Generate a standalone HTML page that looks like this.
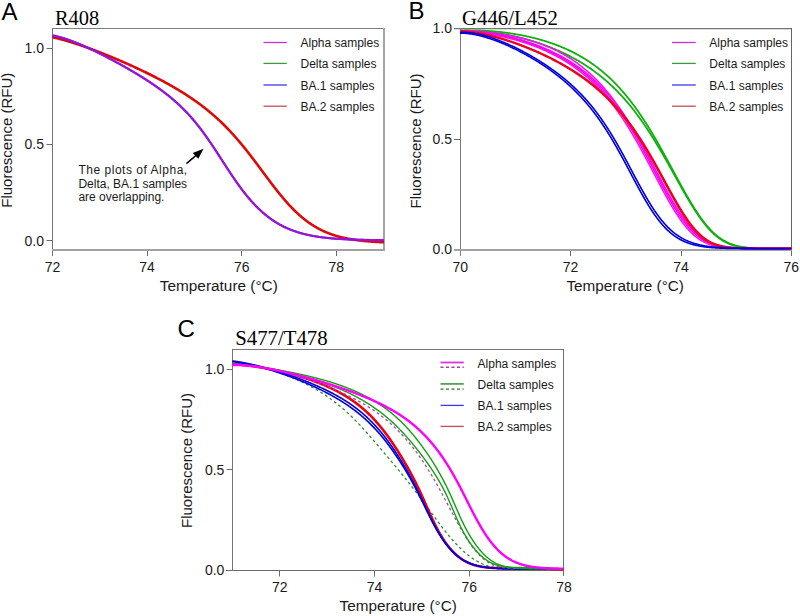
<!DOCTYPE html>
<html><head><meta charset="utf-8"><style>
html,body{margin:0;padding:0;background:#fff;}
svg{display:block;}
</style></head><body>
<svg width="800" height="616" viewBox="0 0 800 616">
<defs>
<clipPath id="clipA"><rect x="52" y="20" width="333" height="240"/></clipPath>
<clipPath id="clipB"><rect x="460" y="20" width="332" height="240"/></clipPath>
<clipPath id="clipC"><rect x="232" y="340" width="332" height="240"/></clipPath>
</defs>
<rect width="800" height="616" fill="#fff"/>
<text x="1.5" y="19.5" font-family='"Liberation Sans", sans-serif' font-size="24" text-anchor="start" fill="#000" >A</text>
<text x="408.5" y="19.2" font-family='"Liberation Sans", sans-serif' font-size="24" text-anchor="start" fill="#000" >B</text>
<text x="177.5" y="337" font-family='"Liberation Sans", sans-serif' font-size="24" text-anchor="start" fill="#000" >C</text>
<text x="55" y="25.4" font-family='"Liberation Serif", serif' font-size="20.4" text-anchor="start" fill="#000" >R408</text>
<text x="462" y="24.6" font-family='"Liberation Serif", serif' font-size="20.8" text-anchor="start" fill="#000" >G446/L452</text>
<text x="235.2" y="345.2" font-family='"Liberation Serif", serif' font-size="20.8" text-anchor="start" fill="#000" >S477/T478</text>
<line x1="52" y1="28.5" x2="385" y2="28.5" stroke="#7c7c7c" stroke-width="1"/>
<line x1="384" y1="28" x2="384" y2="251" stroke="#a4a4a4" stroke-width="2"/>
<line x1="52.5" y1="28" x2="52.5" y2="256" stroke="#727272" stroke-width="1"/>
<line x1="52" y1="250" x2="385" y2="250" stroke="#a2a2a2" stroke-width="2"/>
<line x1="46.5" y1="240.5" x2="52.5" y2="240.5" stroke="#6a6a6a" stroke-width="1"/>
<text x="44" y="245.5" font-family='"Liberation Sans", sans-serif' font-size="14" text-anchor="end" fill="#1a1a1a" >0.0</text>
<line x1="46.5" y1="144.5" x2="52.5" y2="144.5" stroke="#6a6a6a" stroke-width="1"/>
<text x="44" y="149.35" font-family='"Liberation Sans", sans-serif' font-size="14" text-anchor="end" fill="#1a1a1a" >0.5</text>
<line x1="46.5" y1="48.5" x2="52.5" y2="48.5" stroke="#6a6a6a" stroke-width="1"/>
<text x="44" y="53.19999999999999" font-family='"Liberation Sans", sans-serif' font-size="14" text-anchor="end" fill="#1a1a1a" >1.0</text>
<line x1="147.5" y1="251" x2="147.5" y2="256" stroke="#6a6a6a" stroke-width="1"/>
<line x1="241.5" y1="251" x2="241.5" y2="256" stroke="#6a6a6a" stroke-width="1"/>
<line x1="336.5" y1="251" x2="336.5" y2="256" stroke="#6a6a6a" stroke-width="1"/>
<text x="52.5" y="271.6" font-family='"Liberation Sans", sans-serif' font-size="14" text-anchor="middle" fill="#1a1a1a" >72</text>
<text x="147.1" y="271.6" font-family='"Liberation Sans", sans-serif' font-size="14" text-anchor="middle" fill="#1a1a1a" >74</text>
<text x="241.7" y="271.6" font-family='"Liberation Sans", sans-serif' font-size="14" text-anchor="middle" fill="#1a1a1a" >76</text>
<text x="336.29999999999995" y="271.6" font-family='"Liberation Sans", sans-serif' font-size="14" text-anchor="middle" fill="#1a1a1a" >78</text>
<text x="218.8" y="291.4" font-family='"Liberation Sans", sans-serif' font-size="15.5" text-anchor="middle" fill="#1a1a1a" textLength="118" lengthAdjust="spacingAndGlyphs">Temperature (°C)</text>
<text transform="translate(12.3,140.2) rotate(-90)" font-family='"Liberation Sans", sans-serif' font-size="15" text-anchor="middle" fill="#1a1a1a">Fluorescence (RFU)</text>
<line x1="454" y1="28.6" x2="792" y2="28.6" stroke="#747474" stroke-width="1.1"/>
<line x1="791.5" y1="28" x2="791.5" y2="256" stroke="#666666" stroke-width="1"/>
<line x1="460.5" y1="28" x2="460.5" y2="256" stroke="#7c7c7c" stroke-width="1"/>
<line x1="454" y1="250" x2="792" y2="250" stroke="#a2a2a2" stroke-width="2"/>
<line x1="454" y1="139.5" x2="460.5" y2="139.5" stroke="#6a6a6a" stroke-width="1"/>
<text x="452" y="254.0" font-family='"Liberation Sans", sans-serif' font-size="14" text-anchor="end" fill="#1a1a1a" >0.0</text>
<text x="452" y="143.54999999999998" font-family='"Liberation Sans", sans-serif' font-size="14" text-anchor="end" fill="#1a1a1a" >0.5</text>
<text x="452" y="33.09999999999999" font-family='"Liberation Sans", sans-serif' font-size="14" text-anchor="end" fill="#1a1a1a" >1.0</text>
<line x1="570.5" y1="251" x2="570.5" y2="256" stroke="#6a6a6a" stroke-width="1"/>
<line x1="681.5" y1="251" x2="681.5" y2="256" stroke="#6a6a6a" stroke-width="1"/>
<text x="460.2" y="271.6" font-family='"Liberation Sans", sans-serif' font-size="14" text-anchor="middle" fill="#1a1a1a" >70</text>
<text x="570.56" y="271.6" font-family='"Liberation Sans", sans-serif' font-size="14" text-anchor="middle" fill="#1a1a1a" >72</text>
<text x="680.92" y="271.6" font-family='"Liberation Sans", sans-serif' font-size="14" text-anchor="middle" fill="#1a1a1a" >74</text>
<text x="791.28" y="271.6" font-family='"Liberation Sans", sans-serif' font-size="14" text-anchor="middle" fill="#1a1a1a" >76</text>
<text x="625.2" y="291.2" font-family='"Liberation Sans", sans-serif' font-size="15.5" text-anchor="middle" fill="#1a1a1a" textLength="117.5" lengthAdjust="spacingAndGlyphs">Temperature (°C)</text>
<text transform="translate(421.2,141) rotate(-90)" font-family='"Liberation Sans", sans-serif' font-size="15" text-anchor="middle" fill="#1a1a1a">Fluorescence (RFU)</text>
<line x1="232" y1="349.5" x2="564" y2="349.5" stroke="#767676" stroke-width="1"/>
<line x1="563.5" y1="349" x2="563.5" y2="576" stroke="#6e6e6e" stroke-width="1"/>
<line x1="232.5" y1="349" x2="232.5" y2="571" stroke="#747474" stroke-width="1"/>
<line x1="226" y1="570.5" x2="564" y2="570.5" stroke="#6c6c6c" stroke-width="1.2"/>
<line x1="226.5" y1="369.5" x2="232.5" y2="369.5" stroke="#6a6a6a" stroke-width="1"/>
<line x1="226.5" y1="469.5" x2="232.5" y2="469.5" stroke="#6a6a6a" stroke-width="1"/>
<text x="224.4" y="575.4" font-family='"Liberation Sans", sans-serif' font-size="14" text-anchor="end" fill="#1a1a1a" >0.0</text>
<text x="224.4" y="474.75" font-family='"Liberation Sans", sans-serif' font-size="14" text-anchor="end" fill="#1a1a1a" >0.5</text>
<text x="224.4" y="374.09999999999997" font-family='"Liberation Sans", sans-serif' font-size="14" text-anchor="end" fill="#1a1a1a" >1.0</text>
<line x1="279.5" y1="571" x2="279.5" y2="576.5" stroke="#6a6a6a" stroke-width="1"/>
<line x1="374.5" y1="571" x2="374.5" y2="576.5" stroke="#6a6a6a" stroke-width="1"/>
<line x1="469.5" y1="571" x2="469.5" y2="576.5" stroke="#6a6a6a" stroke-width="1"/>
<text x="279.79" y="591.6" font-family='"Liberation Sans", sans-serif' font-size="14" text-anchor="middle" fill="#1a1a1a" >72</text>
<text x="374.57000000000005" y="591.6" font-family='"Liberation Sans", sans-serif' font-size="14" text-anchor="middle" fill="#1a1a1a" >74</text>
<text x="469.35" y="591.6" font-family='"Liberation Sans", sans-serif' font-size="14" text-anchor="middle" fill="#1a1a1a" >76</text>
<text x="564.13" y="591.6" font-family='"Liberation Sans", sans-serif' font-size="14" text-anchor="middle" fill="#1a1a1a" >78</text>
<text x="398.2" y="610.9" font-family='"Liberation Sans", sans-serif' font-size="15.5" text-anchor="middle" fill="#1a1a1a" textLength="117.3" lengthAdjust="spacingAndGlyphs">Temperature (°C)</text>
<text transform="translate(192,460.5) rotate(-90)" font-family='"Liberation Sans", sans-serif' font-size="15" text-anchor="middle" fill="#1a1a1a">Fluorescence (RFU)</text>
<line x1="263.5" y1="42.5" x2="286.8" y2="42.5" stroke="#c830d0" stroke-width="1.3"/>
<text x="300.5" y="47.0" font-family='"Liberation Sans", sans-serif' font-size="12" text-anchor="start" fill="#1a1a1a" >Alpha samples</text>
<line x1="263.5" y1="63.4" x2="286.8" y2="63.4" stroke="#3c9c3c" stroke-width="1.3"/>
<text x="300.5" y="67.9" font-family='"Liberation Sans", sans-serif' font-size="12" text-anchor="start" fill="#1a1a1a" >Delta samples</text>
<line x1="263.5" y1="85" x2="286.8" y2="85" stroke="#3a3ae8" stroke-width="1.3"/>
<text x="300.5" y="89.5" font-family='"Liberation Sans", sans-serif' font-size="12" text-anchor="start" fill="#1a1a1a" >BA.1 samples</text>
<line x1="263.5" y1="106.2" x2="286.8" y2="106.2" stroke="#c84c56" stroke-width="1.3"/>
<text x="300.5" y="110.7" font-family='"Liberation Sans", sans-serif' font-size="12" text-anchor="start" fill="#1a1a1a" >BA.2 samples</text>
<line x1="672" y1="42.5" x2="695.8" y2="42.5" stroke="#c830d0" stroke-width="1.3"/>
<text x="709.3" y="47.0" font-family='"Liberation Sans", sans-serif' font-size="12" text-anchor="start" fill="#1a1a1a" >Alpha samples</text>
<line x1="672" y1="63.4" x2="695.8" y2="63.4" stroke="#3c9c3c" stroke-width="1.3"/>
<text x="709.3" y="67.9" font-family='"Liberation Sans", sans-serif' font-size="12" text-anchor="start" fill="#1a1a1a" >Delta samples</text>
<line x1="672" y1="85" x2="695.8" y2="85" stroke="#3a3ae8" stroke-width="1.3"/>
<text x="709.3" y="89.5" font-family='"Liberation Sans", sans-serif' font-size="12" text-anchor="start" fill="#1a1a1a" >BA.1 samples</text>
<line x1="672" y1="106.2" x2="695.8" y2="106.2" stroke="#c84c56" stroke-width="1.3"/>
<text x="709.3" y="110.7" font-family='"Liberation Sans", sans-serif' font-size="12" text-anchor="start" fill="#1a1a1a" >BA.2 samples</text>
<line x1="440.5" y1="362.5" x2="463.8" y2="362.5" stroke="#e030e0" stroke-width="1.8"/>
<line x1="440.5" y1="367.3" x2="463.8" y2="367.3" stroke="#a040a8" stroke-width="1.4" stroke-dasharray="3,2.5"/>
<line x1="440.5" y1="383.9" x2="463.8" y2="383.9" stroke="#5aa05a" stroke-width="1.8"/>
<line x1="440.5" y1="389.1" x2="463.8" y2="389.1" stroke="#3a6e3a" stroke-width="1.4" stroke-dasharray="3,2.5"/>
<line x1="440.5" y1="405.4" x2="463.8" y2="405.4" stroke="#3a3ae8" stroke-width="1.3"/>
<line x1="440.5" y1="426.4" x2="463.8" y2="426.4" stroke="#c84c56" stroke-width="1.3"/>
<text x="477.6" y="367.75" font-family='"Liberation Sans", sans-serif' font-size="12" text-anchor="start" fill="#1a1a1a" >Alpha samples</text>
<text x="477.6" y="388.75" font-family='"Liberation Sans", sans-serif' font-size="12" text-anchor="start" fill="#1a1a1a" >Delta samples</text>
<text x="477.6" y="410.1" font-family='"Liberation Sans", sans-serif' font-size="12" text-anchor="start" fill="#1a1a1a" >BA.1 samples</text>
<text x="477.6" y="430.75" font-family='"Liberation Sans", sans-serif' font-size="12" text-anchor="start" fill="#1a1a1a" >BA.2 samples</text>
<text x="78.4" y="174.4" font-family='"Liberation Sans", sans-serif' font-size="12" fill="#1a1a1a" textLength="108.8" lengthAdjust="spacing">The plots of Alpha,</text>
<text x="78.4" y="187.5" font-family='"Liberation Sans", sans-serif' font-size="12" text-anchor="start" fill="#1a1a1a" >Delta, BA.1 samples</text>
<text x="78.4" y="201" font-family='"Liberation Sans", sans-serif' font-size="12" text-anchor="start" fill="#1a1a1a" >are overlapping.</text>
<line x1="186.4" y1="163.6" x2="195.8" y2="155.6" stroke="#000" stroke-width="1.4"/>
<polygon points="203.6,148.8 192.7,152.9 198.3,158.8" fill="#000"/>

<g clip-path="url(#clipA)">
<path d="M52.50,37.19 L53.00,37.30 L53.50,37.41 L54.00,37.53 L54.50,37.64 L55.00,37.76 L55.50,37.88 L56.00,37.99 L56.50,38.12 L57.00,38.24 L57.50,38.36 L58.00,38.49 L58.50,38.61 L59.00,38.74 L59.50,38.87 L60.00,39.00 L60.50,39.13 L61.00,39.26 L61.50,39.39 L62.00,39.53 L62.50,39.67 L63.00,39.80 L63.50,39.94 L64.00,40.08 L64.50,40.22 L65.00,40.36 L65.50,40.51 L66.00,40.65 L66.50,40.79 L67.00,40.94 L67.50,41.09 L68.00,41.24 L68.50,41.38 L69.00,41.53 L69.50,41.69 L70.00,41.84 L70.50,41.99 L71.00,42.14 L71.50,42.30 L72.00,42.46 L72.50,42.61 L73.00,42.77 L73.50,42.93 L74.00,43.09 L74.50,43.25 L75.00,43.41 L75.50,43.57 L76.00,43.73 L76.50,43.90 L77.00,44.06 L77.50,44.23 L78.00,44.39 L78.50,44.56 L79.00,44.73 L79.50,44.90 L80.00,45.07 L80.50,45.24 L81.00,45.41 L81.50,45.58 L82.00,45.75 L82.50,45.92 L83.00,46.10 L83.50,46.27 L84.00,46.45 L84.50,46.62 L85.00,46.80 L85.50,46.98 L86.00,47.16 L86.50,47.33 L87.00,47.51 L87.50,47.69 L88.00,47.87 L88.50,48.06 L89.00,48.24 L89.50,48.42 L90.00,48.60 L90.50,48.79 L91.00,48.97 L91.50,49.16 L92.00,49.34 L92.50,49.53 L93.00,49.72 L93.50,49.90 L94.00,50.09 L94.50,50.28 L95.00,50.47 L95.50,50.66 L96.00,50.85 L96.50,51.04 L97.00,51.23 L97.50,51.43 L98.00,51.62 L98.50,51.81 L99.00,52.01 L99.50,52.20 L100.00,52.40 L100.50,52.59 L101.00,52.79 L101.50,52.98 L102.00,53.18 L102.50,53.38 L103.00,53.58 L103.50,53.78 L104.00,53.97 L104.50,54.17 L105.00,54.37 L105.50,54.58 L106.00,54.78 L106.50,54.98 L107.00,55.18 L107.50,55.38 L108.00,55.59 L108.50,55.79 L109.00,56.00 L109.50,56.20 L110.00,56.41 L110.50,56.61 L111.00,56.82 L111.50,57.03 L112.00,57.23 L112.50,57.44 L113.00,57.65 L113.50,57.86 L114.00,58.07 L114.50,58.28 L115.00,58.49 L115.50,58.70 L116.00,58.91 L116.50,59.12 L117.00,59.33 L117.50,59.55 L118.00,59.76 L118.50,59.97 L119.00,60.19 L119.50,60.40 L120.00,60.62 L120.50,60.83 L121.00,61.05 L121.50,61.27 L122.00,61.48 L122.50,61.70 L123.00,61.92 L123.50,62.14 L124.00,62.36 L124.50,62.58 L125.00,62.80 L125.50,63.02 L126.00,63.24 L126.50,63.46 L127.00,63.68 L127.50,63.91 L128.00,64.13 L128.50,64.35 L129.00,64.58 L129.50,64.80 L130.00,65.03 L130.50,65.25 L131.00,65.48 L131.50,65.71 L132.00,65.93 L132.50,66.16 L133.00,66.39 L133.50,66.62 L134.00,66.85 L134.50,67.08 L135.00,67.31 L135.50,67.54 L136.00,67.77 L136.50,68.00 L137.00,68.24 L137.50,68.47 L138.00,68.70 L138.50,68.94 L139.00,69.17 L139.50,69.41 L140.00,69.64 L140.50,69.88 L141.00,70.12 L141.50,70.35 L142.00,70.59 L142.50,70.83 L143.00,71.07 L143.50,71.31 L144.00,71.55 L144.50,71.79 L145.00,72.03 L145.50,72.28 L146.00,72.52 L146.50,72.76 L147.00,73.01 L147.50,73.25 L148.00,73.50 L148.50,73.75 L149.00,73.99 L149.50,74.24 L150.00,74.49 L150.50,74.74 L151.00,74.99 L151.50,75.24 L152.00,75.49 L152.50,75.74 L153.00,75.99 L153.50,76.25 L154.00,76.50 L154.50,76.75 L155.00,77.01 L155.50,77.27 L156.00,77.52 L156.50,77.78 L157.00,78.04 L157.50,78.30 L158.00,78.56 L158.50,78.82 L159.00,79.08 L159.50,79.34 L160.00,79.61 L160.50,79.87 L161.00,80.13 L161.50,80.40 L162.00,80.67 L162.50,80.93 L163.00,81.20 L163.50,81.47 L164.00,81.74 L164.50,82.01 L165.00,82.28 L165.50,82.56 L166.00,82.83 L166.50,83.10 L167.00,83.38 L167.50,83.66 L168.00,83.93 L168.50,84.21 L169.00,84.49 L169.50,84.77 L170.00,85.05 L170.50,85.33 L171.00,85.62 L171.50,85.90 L172.00,86.19 L172.50,86.47 L173.00,86.76 L173.50,87.05 L174.00,87.34 L174.50,87.63 L175.00,87.92 L175.51,88.22 L176.01,88.51 L176.51,88.81 L177.01,89.10 L177.51,89.40 L178.01,89.70 L178.51,90.00 L179.01,90.30 L179.51,90.61 L180.01,90.91 L180.51,91.22 L181.01,91.52 L181.51,91.83 L182.01,92.14 L182.51,92.45 L183.01,92.76 L183.51,93.08 L184.01,93.39 L184.51,93.71 L185.01,94.03 L185.51,94.35 L186.01,94.67 L186.51,94.99 L187.01,95.31 L187.51,95.64 L188.01,95.97 L188.51,96.29 L189.01,96.62 L189.51,96.96 L190.01,97.29 L190.51,97.63 L191.01,97.96 L191.51,98.30 L192.01,98.64 L192.51,98.98 L193.01,99.33 L193.51,99.67 L194.01,100.02 L194.51,100.37 L195.01,100.72 L195.51,101.07 L196.01,101.43 L196.51,101.78 L197.01,102.14 L197.51,102.50 L198.01,102.86 L198.51,103.23 L199.01,103.59 L199.51,103.96 L200.01,104.33 L200.51,104.70 L201.01,105.08 L201.51,105.46 L202.01,105.83 L202.51,106.22 L203.01,106.60 L203.51,106.98 L204.01,107.37 L204.51,107.76 L205.01,108.15 L205.51,108.55 L206.01,108.94 L206.51,109.34 L207.01,109.75 L207.51,110.15 L208.01,110.56 L208.51,110.96 L209.01,111.38 L209.51,111.79 L210.01,112.21 L210.51,112.62 L211.01,113.05 L211.51,113.47 L212.01,113.90 L212.51,114.32 L213.01,114.76 L213.51,115.19 L214.01,115.63 L214.51,116.07 L215.01,116.51 L215.51,116.96 L216.01,117.40 L216.51,117.85 L217.01,118.31 L217.51,118.76 L218.01,119.22 L218.51,119.69 L219.01,120.15 L219.51,120.62 L220.01,121.09 L220.51,121.56 L221.01,122.04 L221.51,122.52 L222.01,123.00 L222.51,123.49 L223.01,123.98 L223.51,124.47 L224.01,124.97 L224.51,125.46 L225.01,125.97 L225.51,126.47 L226.01,126.98 L226.51,127.49 L227.01,128.00 L227.51,128.52 L228.01,129.04 L228.51,129.56 L229.01,130.09 L229.51,130.62 L230.01,131.15 L230.51,131.68 L231.01,132.22 L231.51,132.76 L232.01,133.31 L232.51,133.86 L233.01,134.41 L233.51,134.96 L234.01,135.52 L234.51,136.08 L235.01,136.65 L235.51,137.21 L236.01,137.78 L236.51,138.36 L237.01,138.93 L237.51,139.51 L238.01,140.09 L238.51,140.68 L239.01,141.27 L239.51,141.86 L240.01,142.45 L240.51,143.05 L241.01,143.65 L241.51,144.25 L242.01,144.86 L242.51,145.47 L243.01,146.08 L243.51,146.69 L244.01,147.31 L244.51,147.93 L245.01,148.55 L245.51,149.17 L246.01,149.80 L246.51,150.43 L247.01,151.06 L247.51,151.70 L248.01,152.33 L248.51,152.97 L249.01,153.61 L249.51,154.26 L250.01,154.90 L250.51,155.55 L251.01,156.20 L251.51,156.85 L252.01,157.50 L252.51,158.16 L253.01,158.81 L253.51,159.47 L254.01,160.13 L254.51,160.79 L255.01,161.46 L255.51,162.12 L256.01,162.79 L256.51,163.45 L257.01,164.12 L257.51,164.79 L258.01,165.46 L258.51,166.13 L259.01,166.80 L259.51,167.47 L260.01,168.14 L260.51,168.81 L261.01,169.49 L261.51,170.16 L262.01,170.83 L262.51,171.51 L263.01,172.18 L263.51,172.85 L264.01,173.53 L264.51,174.20 L265.01,174.87 L265.51,175.54 L266.01,176.21 L266.51,176.89 L267.01,177.56 L267.51,178.22 L268.01,178.89 L268.51,179.56 L269.01,180.22 L269.51,180.89 L270.01,181.55 L270.51,182.21 L271.01,182.87 L271.51,183.53 L272.01,184.19 L272.51,184.84 L273.01,185.49 L273.51,186.15 L274.01,186.79 L274.51,187.44 L275.01,188.08 L275.51,188.72 L276.01,189.36 L276.51,190.00 L277.01,190.63 L277.51,191.26 L278.01,191.89 L278.51,192.51 L279.01,193.14 L279.51,193.75 L280.01,194.37 L280.51,194.98 L281.01,195.59 L281.51,196.19 L282.01,196.80 L282.51,197.39 L283.01,197.99 L283.51,198.58 L284.01,199.16 L284.51,199.75 L285.01,200.32 L285.51,200.90 L286.01,201.47 L286.51,202.04 L287.01,202.60 L287.51,203.16 L288.01,203.71 L288.51,204.26 L289.01,204.80 L289.51,205.34 L290.01,205.88 L290.51,206.41 L291.01,206.94 L291.51,207.46 L292.01,207.98 L292.51,208.49 L293.01,209.00 L293.51,209.51 L294.01,210.00 L294.51,210.50 L295.01,210.99 L295.51,211.47 L296.01,211.95 L296.51,212.43 L297.01,212.90 L297.51,213.36 L298.01,213.82 L298.51,214.28 L299.01,214.73 L299.50,215.18 L300.00,215.62 L300.50,216.05 L301.00,216.48 L301.50,216.91 L302.00,217.33 L302.50,217.75 L303.00,218.16 L303.50,218.57 L304.00,218.97 L304.50,219.37 L305.00,219.76 L305.50,220.15 L306.00,220.53 L306.50,220.91 L307.00,221.28 L307.50,221.65 L308.00,222.01 L308.50,222.37 L309.00,222.72 L309.50,223.07 L310.00,223.42 L310.50,223.76 L311.00,224.09 L311.50,224.42 L312.00,224.75 L312.50,225.07 L313.00,225.39 L313.50,225.70 L314.00,226.01 L314.50,226.32 L315.00,226.62 L315.50,226.91 L316.00,227.20 L316.50,227.49 L317.00,227.77 L317.50,228.05 L318.00,228.33 L318.50,228.60 L319.00,228.86 L319.50,229.12 L320.00,229.38 L320.50,229.64 L321.00,229.89 L321.50,230.13 L322.00,230.38 L322.50,230.62 L323.00,230.85 L323.50,231.08 L324.00,231.31 L324.50,231.53 L325.00,231.75 L325.50,231.97 L326.00,232.19 L326.50,232.39 L327.00,232.60 L327.50,232.80 L328.00,233.00 L328.50,233.20 L329.00,233.39 L329.50,233.58 L330.00,233.77 L330.50,233.95 L331.00,234.13 L331.50,234.31 L332.00,234.49 L332.50,234.66 L333.00,234.83 L333.50,234.99 L334.00,235.15 L334.50,235.31 L335.00,235.47 L335.50,235.63 L336.00,235.78 L336.50,235.93 L337.00,236.07 L337.50,236.21 L338.00,236.36 L338.50,236.49 L339.00,236.63 L339.50,236.76 L340.00,236.89 L340.50,237.02 L341.00,237.15 L341.50,237.27 L342.00,237.40 L342.50,237.51 L343.00,237.63 L343.50,237.75 L344.00,237.86 L344.50,237.97 L345.00,238.08 L345.50,238.19 L346.00,238.29 L346.50,238.39 L347.00,238.49 L347.50,238.59 L348.00,238.69 L348.50,238.78 L349.00,238.88 L349.50,238.97 L350.00,239.06 L350.50,239.15 L351.00,239.23 L351.50,239.32 L352.00,239.40 L352.50,239.48 L353.00,239.56 L353.50,239.64 L354.00,239.71 L354.50,239.79 L355.00,239.86 L355.50,239.93 L356.00,240.00 L356.50,240.07 L357.00,240.14 L357.50,240.21 L358.00,240.27 L358.50,240.34 L359.00,240.40 L359.50,240.46 L360.00,240.52 L360.50,240.58 L361.00,240.63 L361.50,240.69 L362.00,240.75 L362.50,240.80 L363.00,240.85 L363.50,240.90 L364.00,240.95 L364.50,241.00 L365.00,241.05 L365.50,241.10 L366.00,241.15 L366.50,241.19 L367.00,241.24 L367.50,241.28 L368.00,241.32 L368.50,241.36 L369.00,241.40 L369.50,241.44 L370.00,241.48 L370.50,241.52 L371.00,241.56 L371.50,241.60 L372.00,241.63 L372.50,241.67 L373.00,241.70 L373.50,241.73 L374.00,241.77 L374.50,241.80 L375.00,241.83 L375.50,241.86 L376.00,241.89 L376.50,241.92 L377.00,241.95 L377.50,241.98 L378.00,242.00 L378.50,242.03 L379.00,242.06 L379.50,242.08 L380.00,242.11 L380.50,242.13 L381.00,242.16 L381.50,242.18 L382.00,242.20 L382.50,242.22 L383.00,242.25 L383.50,242.27 L384.00,242.29" fill="none" stroke="#dd0a0a" stroke-width="2.6" stroke-opacity="1.0" stroke-linejoin="round" />
<path d="M52.50,35.50 L53.00,35.58 L53.50,35.68 L54.00,35.77 L54.50,35.87 L55.00,35.97 L55.50,36.08 L56.00,36.18 L56.50,36.30 L57.00,36.41 L57.50,36.53 L58.00,36.65 L58.50,36.78 L59.00,36.91 L59.50,37.04 L60.00,37.17 L60.50,37.31 L61.00,37.45 L61.50,37.59 L62.00,37.73 L62.50,37.88 L63.00,38.03 L63.50,38.18 L64.00,38.34 L64.50,38.49 L65.00,38.65 L65.50,38.81 L66.00,38.98 L66.50,39.14 L67.00,39.31 L67.50,39.48 L68.00,39.66 L68.50,39.83 L69.00,40.01 L69.50,40.19 L70.00,40.37 L70.50,40.55 L71.00,40.73 L71.50,40.92 L72.00,41.11 L72.50,41.30 L73.00,41.49 L73.50,41.68 L74.00,41.87 L74.50,42.07 L75.00,42.27 L75.50,42.47 L76.00,42.67 L76.50,42.87 L77.00,43.07 L77.50,43.28 L78.00,43.48 L78.50,43.69 L79.00,43.90 L79.50,44.11 L80.00,44.32 L80.50,44.54 L81.00,44.75 L81.50,44.97 L82.00,45.18 L82.50,45.40 L83.00,45.62 L83.50,45.84 L84.00,46.06 L84.50,46.28 L85.00,46.51 L85.50,46.73 L86.00,46.96 L86.50,47.18 L87.00,47.41 L87.50,47.64 L88.00,47.87 L88.50,48.10 L89.00,48.33 L89.50,48.57 L90.00,48.80 L90.50,49.04 L91.00,49.27 L91.50,49.51 L92.00,49.74 L92.50,49.98 L93.00,50.22 L93.50,50.46 L94.00,50.70 L94.50,50.94 L95.00,51.19 L95.50,51.43 L96.00,51.67 L96.50,51.92 L97.00,52.16 L97.50,52.41 L98.00,52.66 L98.50,52.91 L99.00,53.15 L99.50,53.40 L100.00,53.65 L100.50,53.90 L101.00,54.16 L101.50,54.41 L102.00,54.66 L102.50,54.92 L103.00,55.17 L103.50,55.42 L104.00,55.68 L104.50,55.94 L105.00,56.19 L105.50,56.45 L106.00,56.71 L106.50,56.97 L107.00,57.23 L107.50,57.49 L108.00,57.75 L108.50,58.01 L109.00,58.28 L109.50,58.54 L110.00,58.80 L110.50,59.07 L111.00,59.33 L111.50,59.60 L112.00,59.86 L112.50,60.13 L113.00,60.40 L113.50,60.67 L114.00,60.94 L114.50,61.21 L115.00,61.48 L115.50,61.75 L116.00,62.02 L116.50,62.29 L117.00,62.56 L117.50,62.84 L118.00,63.11 L118.50,63.39 L119.00,63.66 L119.50,63.94 L120.00,64.21 L120.50,64.49 L121.00,64.77 L121.50,65.05 L122.00,65.33 L122.50,65.61 L123.00,65.89 L123.50,66.17 L124.00,66.45 L124.50,66.74 L125.00,67.02 L125.50,67.30 L126.00,67.59 L126.50,67.87 L127.00,68.16 L127.50,68.45 L128.00,68.73 L128.50,69.02 L129.00,69.31 L129.50,69.60 L130.00,69.89 L130.50,70.19 L131.00,70.48 L131.50,70.77 L132.00,71.06 L132.50,71.36 L133.00,71.66 L133.50,71.95 L134.00,72.25 L134.50,72.55 L135.00,72.85 L135.50,73.15 L136.00,73.45 L136.50,73.75 L137.00,74.05 L137.50,74.35 L138.00,74.66 L138.50,74.96 L139.00,75.27 L139.50,75.58 L140.00,75.89 L140.50,76.19 L141.00,76.50 L141.50,76.82 L142.00,77.13 L142.50,77.44 L143.00,77.76 L143.50,78.07 L144.00,78.39 L144.50,78.70 L145.00,79.02 L145.50,79.34 L146.00,79.66 L146.50,79.99 L147.00,80.31 L147.50,80.64 L148.00,80.96 L148.50,81.29 L149.00,81.62 L149.50,81.95 L150.00,82.28 L150.50,82.61 L151.00,82.94 L151.50,83.28 L152.00,83.62 L152.50,83.96 L153.00,84.29 L153.50,84.64 L154.00,84.98 L154.50,85.32 L155.01,85.67 L155.51,86.02 L156.01,86.37 L156.51,86.72 L157.01,87.07 L157.51,87.42 L158.01,87.78 L158.51,88.14 L159.01,88.50 L159.51,88.86 L160.01,89.22 L160.51,89.59 L161.01,89.96 L161.51,90.33 L162.01,90.70 L162.51,91.07 L163.01,91.45 L163.51,91.82 L164.01,92.20 L164.51,92.59 L165.01,92.97 L165.51,93.36 L166.01,93.75 L166.51,94.14 L167.01,94.53 L167.51,94.93 L168.01,95.33 L168.51,95.73 L169.01,96.13 L169.51,96.54 L170.01,96.95 L170.51,97.36 L171.01,97.77 L171.51,98.19 L172.01,98.61 L172.51,99.04 L173.01,99.46 L173.51,99.89 L174.01,100.32 L174.51,100.76 L175.01,101.20 L175.51,101.64 L176.01,102.08 L176.51,102.53 L177.01,102.99 L177.51,103.44 L178.01,103.90 L178.51,104.36 L179.01,104.83 L179.51,105.30 L180.01,105.77 L180.51,106.24 L181.01,106.73 L181.51,107.21 L182.01,107.70 L182.51,108.19 L183.01,108.68 L183.51,109.18 L184.01,109.69 L184.51,110.20 L185.01,110.71 L185.51,111.22 L186.01,111.74 L186.51,112.27 L187.02,112.80 L187.52,113.33 L188.02,113.87 L188.52,114.41 L189.02,114.95 L189.52,115.51 L190.02,116.06 L190.52,116.62 L191.02,117.18 L191.52,117.75 L192.02,118.33 L192.52,118.90 L193.02,119.49 L193.52,120.07 L194.02,120.67 L194.52,121.26 L195.02,121.86 L195.52,122.47 L196.02,123.08 L196.52,123.70 L197.02,124.32 L197.52,124.94 L198.02,125.57 L198.52,126.21 L199.02,126.85 L199.52,127.49 L200.02,128.14 L200.52,128.79 L201.02,129.45 L201.52,130.11 L202.02,130.78 L202.52,131.45 L203.02,132.13 L203.52,132.81 L204.02,133.49 L204.52,134.18 L205.02,134.87 L205.52,135.57 L206.02,136.27 L206.52,136.98 L207.02,137.69 L207.52,138.40 L208.02,139.11 L208.52,139.84 L209.02,140.56 L209.53,141.29 L210.03,142.02 L210.53,142.75 L211.03,143.49 L211.53,144.23 L212.03,144.97 L212.53,145.72 L213.03,146.47 L213.53,147.22 L214.03,147.98 L214.53,148.73 L215.03,149.49 L215.53,150.25 L216.03,151.02 L216.53,151.78 L217.03,152.55 L217.53,153.31 L218.03,154.08 L218.53,154.85 L219.03,155.63 L219.53,156.40 L220.03,157.17 L220.53,157.94 L221.03,158.72 L221.53,159.49 L222.03,160.27 L222.53,161.04 L223.03,161.82 L223.53,162.59 L224.03,163.36 L224.53,164.14 L225.03,164.91 L225.53,165.68 L226.03,166.45 L226.53,167.22 L227.03,167.98 L227.53,168.75 L228.03,169.51 L228.53,170.28 L229.03,171.04 L229.53,171.79 L230.03,172.55 L230.53,173.30 L231.03,174.05 L231.53,174.80 L232.03,175.54 L232.53,176.29 L233.03,177.02 L233.53,177.76 L234.03,178.49 L234.53,179.22 L235.03,179.95 L235.53,180.67 L236.03,181.38 L236.53,182.10 L237.03,182.81 L237.53,183.51 L238.03,184.21 L238.53,184.91 L239.03,185.60 L239.53,186.29 L240.03,186.98 L240.53,187.66 L241.03,188.33 L241.53,189.00 L242.03,189.66 L242.53,190.32 L243.03,190.98 L243.53,191.63 L244.03,192.27 L244.53,192.91 L245.03,193.55 L245.53,194.18 L246.03,194.80 L246.53,195.42 L247.03,196.03 L247.53,196.64 L248.03,197.24 L248.53,197.84 L249.03,198.43 L249.53,199.02 L250.03,199.60 L250.53,200.17 L251.03,200.74 L251.53,201.31 L252.03,201.87 L252.53,202.42 L253.03,202.97 L253.53,203.51 L254.03,204.05 L254.53,204.58 L255.03,205.10 L255.53,205.62 L256.03,206.13 L256.53,206.64 L257.03,207.15 L257.53,207.64 L258.03,208.13 L258.53,208.62 L259.03,209.10 L259.53,209.58 L260.03,210.05 L260.53,210.51 L261.03,210.97 L261.53,211.42 L262.03,211.87 L262.53,212.31 L263.03,212.75 L263.53,213.18 L264.03,213.61 L264.53,214.03 L265.03,214.45 L265.53,214.86 L266.03,215.27 L266.53,215.67 L267.03,216.06 L267.53,216.45 L268.03,216.84 L268.53,217.22 L269.03,217.60 L269.53,217.97 L270.03,218.33 L270.53,218.69 L271.03,219.05 L271.52,219.40 L272.02,219.75 L272.52,220.09 L273.02,220.43 L273.52,220.76 L274.02,221.09 L274.52,221.42 L275.02,221.74 L275.52,222.05 L276.02,222.36 L276.52,222.67 L277.02,222.97 L277.52,223.27 L278.02,223.56 L278.52,223.85 L279.02,224.13 L279.52,224.42 L280.02,224.69 L280.52,224.96 L281.02,225.23 L281.52,225.50 L282.02,225.76 L282.52,226.02 L283.02,226.27 L283.52,226.52 L284.02,226.77 L284.52,227.01 L285.02,227.25 L285.52,227.48 L286.02,227.71 L286.52,227.94 L287.02,228.16 L287.52,228.38 L288.02,228.60 L288.52,228.82 L289.02,229.03 L289.52,229.23 L290.02,229.44 L290.52,229.64 L291.01,229.84 L291.51,230.03 L292.01,230.22 L292.51,230.41 L293.01,230.59 L293.51,230.78 L294.01,230.96 L294.51,231.13 L295.01,231.31 L295.51,231.48 L296.01,231.64 L296.51,231.81 L297.01,231.97 L297.51,232.13 L298.01,232.29 L298.51,232.44 L299.01,232.59 L299.51,232.74 L300.01,232.89 L300.51,233.04 L301.01,233.18 L301.51,233.32 L302.01,233.45 L302.51,233.59 L303.01,233.72 L303.51,233.85 L304.01,233.98 L304.51,234.10 L305.01,234.23 L305.51,234.35 L306.01,234.47 L306.51,234.58 L307.01,234.70 L307.51,234.81 L308.01,234.92 L308.51,235.03 L309.01,235.14 L309.51,235.24 L310.01,235.35 L310.51,235.45 L311.01,235.55 L311.51,235.64 L312.01,235.74 L312.51,235.83 L313.01,235.93 L313.51,236.02 L314.01,236.11 L314.51,236.19 L315.01,236.28 L315.51,236.36 L316.01,236.45 L316.51,236.53 L317.01,236.61 L317.51,236.68 L318.01,236.76 L318.51,236.84 L319.00,236.91 L319.50,236.98 L320.00,237.05 L320.50,237.12 L321.00,237.19 L321.50,237.26 L322.00,237.32 L322.50,237.39 L323.00,237.45 L323.50,237.51 L324.00,237.57 L324.50,237.63 L325.00,237.69 L325.50,237.75 L326.00,237.80 L326.50,237.86 L327.00,237.91 L327.50,237.96 L328.00,238.01 L328.50,238.06 L329.00,238.11 L329.50,238.16 L330.00,238.21 L330.50,238.26 L331.00,238.30 L331.50,238.35 L332.00,238.39 L332.50,238.43 L333.00,238.47 L333.50,238.52 L334.00,238.56 L334.50,238.60 L335.00,238.63 L335.50,238.67 L336.00,238.71 L336.50,238.75 L337.00,238.78 L337.50,238.82 L338.00,238.85 L338.50,238.88 L339.00,238.92 L339.50,238.95 L340.00,238.98 L340.50,239.01 L341.00,239.04 L341.50,239.07 L342.00,239.10 L342.50,239.12 L343.00,239.15 L343.50,239.18 L344.00,239.20 L344.50,239.23 L345.00,239.26 L345.50,239.28 L346.00,239.30 L346.50,239.33 L347.00,239.35 L347.50,239.37 L348.00,239.39 L348.50,239.42 L349.00,239.44 L349.50,239.46 L350.00,239.48 L350.50,239.50 L351.00,239.52 L351.50,239.53 L352.00,239.55 L352.50,239.57 L353.00,239.59 L353.50,239.61 L354.00,239.62 L354.50,239.64 L355.00,239.65 L355.50,239.67 L356.00,239.68 L356.50,239.70 L357.00,239.71 L357.50,239.73 L358.00,239.74 L358.50,239.76 L359.00,239.77 L359.50,239.78 L360.00,239.79 L360.50,239.81 L361.00,239.82 L361.50,239.83 L362.00,239.84 L362.50,239.85 L363.00,239.86 L363.50,239.87 L364.00,239.88 L364.50,239.89 L365.00,239.90 L365.50,239.91 L366.00,239.92 L366.50,239.93 L367.00,239.94 L367.50,239.95 L368.00,239.96 L368.50,239.97 L369.00,239.98 L369.50,239.98 L370.00,239.99 L370.50,240.00 L371.00,240.01 L371.50,240.01 L372.00,240.02 L372.50,240.03 L373.00,240.03 L373.50,240.04 L374.00,240.05 L374.50,240.05 L375.00,240.06 L375.50,240.07 L376.00,240.07 L376.50,240.08 L377.00,240.08 L377.50,240.09 L378.00,240.09 L378.50,240.10 L379.00,240.10 L379.50,240.11 L380.00,240.11 L380.50,240.12 L381.00,240.12 L381.50,240.13 L382.00,240.13 L382.50,240.14 L383.00,240.14 L383.50,240.14 L384.00,240.15" fill="none" stroke="#2020e0" stroke-width="2.0" stroke-opacity="1.0" stroke-linejoin="round" />
<path d="M52.50,35.50 L53.00,35.58 L53.50,35.68 L54.00,35.77 L54.50,35.87 L55.00,35.97 L55.50,36.08 L56.00,36.18 L56.50,36.30 L57.00,36.41 L57.50,36.53 L58.00,36.65 L58.50,36.78 L59.00,36.91 L59.50,37.04 L60.00,37.17 L60.50,37.31 L61.00,37.45 L61.50,37.59 L62.00,37.73 L62.50,37.88 L63.00,38.03 L63.50,38.18 L64.00,38.34 L64.50,38.49 L65.00,38.65 L65.50,38.81 L66.00,38.98 L66.50,39.14 L67.00,39.31 L67.50,39.48 L68.00,39.66 L68.50,39.83 L69.00,40.01 L69.50,40.19 L70.00,40.37 L70.50,40.55 L71.00,40.73 L71.50,40.92 L72.00,41.11 L72.50,41.30 L73.00,41.49 L73.50,41.68 L74.00,41.87 L74.50,42.07 L75.00,42.27 L75.50,42.47 L76.00,42.67 L76.50,42.87 L77.00,43.07 L77.50,43.28 L78.00,43.48 L78.50,43.69 L79.00,43.90 L79.50,44.11 L80.00,44.32 L80.50,44.54 L81.00,44.75 L81.50,44.97 L82.00,45.18 L82.50,45.40 L83.00,45.62 L83.50,45.84 L84.00,46.06 L84.50,46.28 L85.00,46.51 L85.50,46.73 L86.00,46.96 L86.50,47.18 L87.00,47.41 L87.50,47.64 L88.00,47.87 L88.50,48.10 L89.00,48.33 L89.50,48.57 L90.00,48.80 L90.50,49.04 L91.00,49.27 L91.50,49.51 L92.00,49.74 L92.50,49.98 L93.00,50.22 L93.50,50.46 L94.00,50.70 L94.50,50.94 L95.00,51.19 L95.50,51.43 L96.00,51.67 L96.50,51.92 L97.00,52.16 L97.50,52.41 L98.00,52.66 L98.50,52.91 L99.00,53.15 L99.50,53.40 L100.00,53.65 L100.50,53.90 L101.00,54.16 L101.50,54.41 L102.00,54.66 L102.50,54.92 L103.00,55.17 L103.50,55.42 L104.00,55.68 L104.50,55.94 L105.00,56.19 L105.50,56.45 L106.00,56.71 L106.50,56.97 L107.00,57.23 L107.50,57.49 L108.00,57.75 L108.50,58.01 L109.00,58.28 L109.50,58.54 L110.00,58.80 L110.50,59.07 L111.00,59.33 L111.50,59.60 L112.00,59.86 L112.50,60.13 L113.00,60.40 L113.50,60.67 L114.00,60.94 L114.50,61.21 L115.00,61.48 L115.50,61.75 L116.00,62.02 L116.50,62.29 L117.00,62.56 L117.50,62.84 L118.00,63.11 L118.50,63.39 L119.00,63.66 L119.50,63.94 L120.00,64.21 L120.50,64.49 L121.00,64.77 L121.50,65.05 L122.00,65.33 L122.50,65.61 L123.00,65.89 L123.50,66.17 L124.00,66.45 L124.50,66.74 L125.00,67.02 L125.50,67.30 L126.00,67.59 L126.50,67.87 L127.00,68.16 L127.50,68.45 L128.00,68.73 L128.50,69.02 L129.00,69.31 L129.50,69.60 L130.00,69.89 L130.50,70.19 L131.00,70.48 L131.50,70.77 L132.00,71.06 L132.50,71.36 L133.00,71.66 L133.50,71.95 L134.00,72.25 L134.50,72.55 L135.00,72.85 L135.50,73.15 L136.00,73.45 L136.50,73.75 L137.00,74.05 L137.50,74.35 L138.00,74.66 L138.50,74.96 L139.00,75.27 L139.50,75.58 L140.00,75.89 L140.50,76.19 L141.00,76.50 L141.50,76.82 L142.00,77.13 L142.50,77.44 L143.00,77.76 L143.50,78.07 L144.00,78.39 L144.50,78.70 L145.00,79.02 L145.50,79.34 L146.00,79.66 L146.50,79.99 L147.00,80.31 L147.50,80.64 L148.00,80.96 L148.50,81.29 L149.00,81.62 L149.50,81.95 L150.00,82.28 L150.50,82.61 L151.00,82.94 L151.50,83.28 L152.00,83.62 L152.50,83.96 L153.00,84.29 L153.50,84.64 L154.00,84.98 L154.50,85.32 L155.01,85.67 L155.51,86.02 L156.01,86.37 L156.51,86.72 L157.01,87.07 L157.51,87.42 L158.01,87.78 L158.51,88.14 L159.01,88.50 L159.51,88.86 L160.01,89.22 L160.51,89.59 L161.01,89.96 L161.51,90.33 L162.01,90.70 L162.51,91.07 L163.01,91.45 L163.51,91.82 L164.01,92.20 L164.51,92.59 L165.01,92.97 L165.51,93.36 L166.01,93.75 L166.51,94.14 L167.01,94.53 L167.51,94.93 L168.01,95.33 L168.51,95.73 L169.01,96.13 L169.51,96.54 L170.01,96.95 L170.51,97.36 L171.01,97.77 L171.51,98.19 L172.01,98.61 L172.51,99.04 L173.01,99.46 L173.51,99.89 L174.01,100.32 L174.51,100.76 L175.01,101.20 L175.51,101.64 L176.01,102.08 L176.51,102.53 L177.01,102.99 L177.51,103.44 L178.01,103.90 L178.51,104.36 L179.01,104.83 L179.51,105.30 L180.01,105.77 L180.51,106.24 L181.01,106.73 L181.51,107.21 L182.01,107.70 L182.51,108.19 L183.01,108.68 L183.51,109.18 L184.01,109.69 L184.51,110.20 L185.01,110.71 L185.51,111.22 L186.01,111.74 L186.51,112.27 L187.02,112.80 L187.52,113.33 L188.02,113.87 L188.52,114.41 L189.02,114.95 L189.52,115.51 L190.02,116.06 L190.52,116.62 L191.02,117.18 L191.52,117.75 L192.02,118.33 L192.52,118.90 L193.02,119.49 L193.52,120.07 L194.02,120.67 L194.52,121.26 L195.02,121.86 L195.52,122.47 L196.02,123.08 L196.52,123.70 L197.02,124.32 L197.52,124.94 L198.02,125.57 L198.52,126.21 L199.02,126.85 L199.52,127.49 L200.02,128.14 L200.52,128.79 L201.02,129.45 L201.52,130.11 L202.02,130.78 L202.52,131.45 L203.02,132.13 L203.52,132.81 L204.02,133.49 L204.52,134.18 L205.02,134.87 L205.52,135.57 L206.02,136.27 L206.52,136.98 L207.02,137.69 L207.52,138.40 L208.02,139.11 L208.52,139.84 L209.02,140.56 L209.53,141.29 L210.03,142.02 L210.53,142.75 L211.03,143.49 L211.53,144.23 L212.03,144.97 L212.53,145.72 L213.03,146.47 L213.53,147.22 L214.03,147.98 L214.53,148.73 L215.03,149.49 L215.53,150.25 L216.03,151.02 L216.53,151.78 L217.03,152.55 L217.53,153.31 L218.03,154.08 L218.53,154.85 L219.03,155.63 L219.53,156.40 L220.03,157.17 L220.53,157.94 L221.03,158.72 L221.53,159.49 L222.03,160.27 L222.53,161.04 L223.03,161.82 L223.53,162.59 L224.03,163.36 L224.53,164.14 L225.03,164.91 L225.53,165.68 L226.03,166.45 L226.53,167.22 L227.03,167.98 L227.53,168.75 L228.03,169.51 L228.53,170.28 L229.03,171.04 L229.53,171.79 L230.03,172.55 L230.53,173.30 L231.03,174.05 L231.53,174.80 L232.03,175.54 L232.53,176.29 L233.03,177.02 L233.53,177.76 L234.03,178.49 L234.53,179.22 L235.03,179.95 L235.53,180.67 L236.03,181.38 L236.53,182.10 L237.03,182.81 L237.53,183.51 L238.03,184.21 L238.53,184.91 L239.03,185.60 L239.53,186.29 L240.03,186.98 L240.53,187.66 L241.03,188.33 L241.53,189.00 L242.03,189.66 L242.53,190.32 L243.03,190.98 L243.53,191.63 L244.03,192.27 L244.53,192.91 L245.03,193.55 L245.53,194.18 L246.03,194.80 L246.53,195.42 L247.03,196.03 L247.53,196.64 L248.03,197.24 L248.53,197.84 L249.03,198.43 L249.53,199.02 L250.03,199.60 L250.53,200.17 L251.03,200.74 L251.53,201.31 L252.03,201.87 L252.53,202.42 L253.03,202.97 L253.53,203.51 L254.03,204.05 L254.53,204.58 L255.03,205.10 L255.53,205.62 L256.03,206.13 L256.53,206.64 L257.03,207.15 L257.53,207.64 L258.03,208.13 L258.53,208.62 L259.03,209.10 L259.53,209.58 L260.03,210.05 L260.53,210.51 L261.03,210.97 L261.53,211.42 L262.03,211.87 L262.53,212.31 L263.03,212.75 L263.53,213.18 L264.03,213.61 L264.53,214.03 L265.03,214.45 L265.53,214.86 L266.03,215.27 L266.53,215.67 L267.03,216.06 L267.53,216.45 L268.03,216.84 L268.53,217.22 L269.03,217.60 L269.53,217.97 L270.03,218.33 L270.53,218.69 L271.03,219.05 L271.52,219.40 L272.02,219.75 L272.52,220.09 L273.02,220.43 L273.52,220.76 L274.02,221.09 L274.52,221.42 L275.02,221.74 L275.52,222.05 L276.02,222.36 L276.52,222.67 L277.02,222.97 L277.52,223.27 L278.02,223.56 L278.52,223.85 L279.02,224.13 L279.52,224.42 L280.02,224.69 L280.52,224.96 L281.02,225.23 L281.52,225.50 L282.02,225.76 L282.52,226.02 L283.02,226.27 L283.52,226.52 L284.02,226.77 L284.52,227.01 L285.02,227.25 L285.52,227.48 L286.02,227.71 L286.52,227.94 L287.02,228.16 L287.52,228.38 L288.02,228.60 L288.52,228.82 L289.02,229.03 L289.52,229.23 L290.02,229.44 L290.52,229.64 L291.01,229.84 L291.51,230.03 L292.01,230.22 L292.51,230.41 L293.01,230.59 L293.51,230.78 L294.01,230.96 L294.51,231.13 L295.01,231.31 L295.51,231.48 L296.01,231.64 L296.51,231.81 L297.01,231.97 L297.51,232.13 L298.01,232.29 L298.51,232.44 L299.01,232.59 L299.51,232.74 L300.01,232.89 L300.51,233.04 L301.01,233.18 L301.51,233.32 L302.01,233.45 L302.51,233.59 L303.01,233.72 L303.51,233.85 L304.01,233.98 L304.51,234.10 L305.01,234.23 L305.51,234.35 L306.01,234.47 L306.51,234.58 L307.01,234.70 L307.51,234.81 L308.01,234.92 L308.51,235.03 L309.01,235.14 L309.51,235.24 L310.01,235.35 L310.51,235.45 L311.01,235.55 L311.51,235.64 L312.01,235.74 L312.51,235.83 L313.01,235.93 L313.51,236.02 L314.01,236.11 L314.51,236.19 L315.01,236.28 L315.51,236.36 L316.01,236.45 L316.51,236.53 L317.01,236.61 L317.51,236.68 L318.01,236.76 L318.51,236.84 L319.00,236.91 L319.50,236.98 L320.00,237.05 L320.50,237.12 L321.00,237.19 L321.50,237.26 L322.00,237.32 L322.50,237.39 L323.00,237.45 L323.50,237.51 L324.00,237.57 L324.50,237.63 L325.00,237.69 L325.50,237.75 L326.00,237.80 L326.50,237.86 L327.00,237.91 L327.50,237.96 L328.00,238.01 L328.50,238.06 L329.00,238.11 L329.50,238.16 L330.00,238.21 L330.50,238.26 L331.00,238.30 L331.50,238.35 L332.00,238.39 L332.50,238.43 L333.00,238.47 L333.50,238.52 L334.00,238.56 L334.50,238.60 L335.00,238.63 L335.50,238.67 L336.00,238.71 L336.50,238.75 L337.00,238.78 L337.50,238.82 L338.00,238.85 L338.50,238.88 L339.00,238.92 L339.50,238.95 L340.00,238.98 L340.50,239.01 L341.00,239.04 L341.50,239.07 L342.00,239.10 L342.50,239.12 L343.00,239.15 L343.50,239.18 L344.00,239.20 L344.50,239.23 L345.00,239.26 L345.50,239.28 L346.00,239.30 L346.50,239.33 L347.00,239.35 L347.50,239.37 L348.00,239.39 L348.50,239.42 L349.00,239.44 L349.50,239.46 L350.00,239.48 L350.50,239.50 L351.00,239.52 L351.50,239.53 L352.00,239.55 L352.50,239.57 L353.00,239.59 L353.50,239.61 L354.00,239.62 L354.50,239.64 L355.00,239.65 L355.50,239.67 L356.00,239.68 L356.50,239.70 L357.00,239.71 L357.50,239.73 L358.00,239.74 L358.50,239.76 L359.00,239.77 L359.50,239.78 L360.00,239.79 L360.50,239.81 L361.00,239.82 L361.50,239.83 L362.00,239.84 L362.50,239.85 L363.00,239.86 L363.50,239.87 L364.00,239.88 L364.50,239.89 L365.00,239.90 L365.50,239.91 L366.00,239.92 L366.50,239.93 L367.00,239.94 L367.50,239.95 L368.00,239.96 L368.50,239.97 L369.00,239.98 L369.50,239.98 L370.00,239.99 L370.50,240.00 L371.00,240.01 L371.50,240.01 L372.00,240.02 L372.50,240.03 L373.00,240.03 L373.50,240.04 L374.00,240.05 L374.50,240.05 L375.00,240.06 L375.50,240.07 L376.00,240.07 L376.50,240.08 L377.00,240.08 L377.50,240.09 L378.00,240.09 L378.50,240.10 L379.00,240.10 L379.50,240.11 L380.00,240.11 L380.50,240.12 L381.00,240.12 L381.50,240.13 L382.00,240.13 L382.50,240.14 L383.00,240.14 L383.50,240.14 L384.00,240.15" fill="none" stroke="#10a010" stroke-width="1.0" stroke-opacity="0.0" stroke-linejoin="round" />
<path d="M52.50,35.50 L53.00,35.58 L53.50,35.68 L54.00,35.77 L54.50,35.87 L55.00,35.97 L55.50,36.08 L56.00,36.18 L56.50,36.30 L57.00,36.41 L57.50,36.53 L58.00,36.65 L58.50,36.78 L59.00,36.91 L59.50,37.04 L60.00,37.17 L60.50,37.31 L61.00,37.45 L61.50,37.59 L62.00,37.73 L62.50,37.88 L63.00,38.03 L63.50,38.18 L64.00,38.34 L64.50,38.49 L65.00,38.65 L65.50,38.81 L66.00,38.98 L66.50,39.14 L67.00,39.31 L67.50,39.48 L68.00,39.66 L68.50,39.83 L69.00,40.01 L69.50,40.19 L70.00,40.37 L70.50,40.55 L71.00,40.73 L71.50,40.92 L72.00,41.11 L72.50,41.30 L73.00,41.49 L73.50,41.68 L74.00,41.87 L74.50,42.07 L75.00,42.27 L75.50,42.47 L76.00,42.67 L76.50,42.87 L77.00,43.07 L77.50,43.28 L78.00,43.48 L78.50,43.69 L79.00,43.90 L79.50,44.11 L80.00,44.32 L80.50,44.54 L81.00,44.75 L81.50,44.97 L82.00,45.18 L82.50,45.40 L83.00,45.62 L83.50,45.84 L84.00,46.06 L84.50,46.28 L85.00,46.51 L85.50,46.73 L86.00,46.96 L86.50,47.18 L87.00,47.41 L87.50,47.64 L88.00,47.87 L88.50,48.10 L89.00,48.33 L89.50,48.57 L90.00,48.80 L90.50,49.04 L91.00,49.27 L91.50,49.51 L92.00,49.74 L92.50,49.98 L93.00,50.22 L93.50,50.46 L94.00,50.70 L94.50,50.94 L95.00,51.19 L95.50,51.43 L96.00,51.67 L96.50,51.92 L97.00,52.16 L97.50,52.41 L98.00,52.66 L98.50,52.91 L99.00,53.15 L99.50,53.40 L100.00,53.65 L100.50,53.90 L101.00,54.16 L101.50,54.41 L102.00,54.66 L102.50,54.92 L103.00,55.17 L103.50,55.42 L104.00,55.68 L104.50,55.94 L105.00,56.19 L105.50,56.45 L106.00,56.71 L106.50,56.97 L107.00,57.23 L107.50,57.49 L108.00,57.75 L108.50,58.01 L109.00,58.28 L109.50,58.54 L110.00,58.80 L110.50,59.07 L111.00,59.33 L111.50,59.60 L112.00,59.86 L112.50,60.13 L113.00,60.40 L113.50,60.67 L114.00,60.94 L114.50,61.21 L115.00,61.48 L115.50,61.75 L116.00,62.02 L116.50,62.29 L117.00,62.56 L117.50,62.84 L118.00,63.11 L118.50,63.39 L119.00,63.66 L119.50,63.94 L120.00,64.21 L120.50,64.49 L121.00,64.77 L121.50,65.05 L122.00,65.33 L122.50,65.61 L123.00,65.89 L123.50,66.17 L124.00,66.45 L124.50,66.74 L125.00,67.02 L125.50,67.30 L126.00,67.59 L126.50,67.87 L127.00,68.16 L127.50,68.45 L128.00,68.73 L128.50,69.02 L129.00,69.31 L129.50,69.60 L130.00,69.89 L130.50,70.19 L131.00,70.48 L131.50,70.77 L132.00,71.06 L132.50,71.36 L133.00,71.66 L133.50,71.95 L134.00,72.25 L134.50,72.55 L135.00,72.85 L135.50,73.15 L136.00,73.45 L136.50,73.75 L137.00,74.05 L137.50,74.35 L138.00,74.66 L138.50,74.96 L139.00,75.27 L139.50,75.58 L140.00,75.89 L140.50,76.19 L141.00,76.50 L141.50,76.82 L142.00,77.13 L142.50,77.44 L143.00,77.76 L143.50,78.07 L144.00,78.39 L144.50,78.70 L145.00,79.02 L145.50,79.34 L146.00,79.66 L146.50,79.99 L147.00,80.31 L147.50,80.64 L148.00,80.96 L148.50,81.29 L149.00,81.62 L149.50,81.95 L150.00,82.28 L150.50,82.61 L151.00,82.94 L151.50,83.28 L152.00,83.62 L152.50,83.96 L153.00,84.29 L153.50,84.64 L154.00,84.98 L154.50,85.32 L155.01,85.67 L155.51,86.02 L156.01,86.37 L156.51,86.72 L157.01,87.07 L157.51,87.42 L158.01,87.78 L158.51,88.14 L159.01,88.50 L159.51,88.86 L160.01,89.22 L160.51,89.59 L161.01,89.96 L161.51,90.33 L162.01,90.70 L162.51,91.07 L163.01,91.45 L163.51,91.82 L164.01,92.20 L164.51,92.59 L165.01,92.97 L165.51,93.36 L166.01,93.75 L166.51,94.14 L167.01,94.53 L167.51,94.93 L168.01,95.33 L168.51,95.73 L169.01,96.13 L169.51,96.54 L170.01,96.95 L170.51,97.36 L171.01,97.77 L171.51,98.19 L172.01,98.61 L172.51,99.04 L173.01,99.46 L173.51,99.89 L174.01,100.32 L174.51,100.76 L175.01,101.20 L175.51,101.64 L176.01,102.08 L176.51,102.53 L177.01,102.99 L177.51,103.44 L178.01,103.90 L178.51,104.36 L179.01,104.83 L179.51,105.30 L180.01,105.77 L180.51,106.24 L181.01,106.73 L181.51,107.21 L182.01,107.70 L182.51,108.19 L183.01,108.68 L183.51,109.18 L184.01,109.69 L184.51,110.20 L185.01,110.71 L185.51,111.22 L186.01,111.74 L186.51,112.27 L187.02,112.80 L187.52,113.33 L188.02,113.87 L188.52,114.41 L189.02,114.95 L189.52,115.51 L190.02,116.06 L190.52,116.62 L191.02,117.18 L191.52,117.75 L192.02,118.33 L192.52,118.90 L193.02,119.49 L193.52,120.07 L194.02,120.67 L194.52,121.26 L195.02,121.86 L195.52,122.47 L196.02,123.08 L196.52,123.70 L197.02,124.32 L197.52,124.94 L198.02,125.57 L198.52,126.21 L199.02,126.85 L199.52,127.49 L200.02,128.14 L200.52,128.79 L201.02,129.45 L201.52,130.11 L202.02,130.78 L202.52,131.45 L203.02,132.13 L203.52,132.81 L204.02,133.49 L204.52,134.18 L205.02,134.87 L205.52,135.57 L206.02,136.27 L206.52,136.98 L207.02,137.69 L207.52,138.40 L208.02,139.11 L208.52,139.84 L209.02,140.56 L209.53,141.29 L210.03,142.02 L210.53,142.75 L211.03,143.49 L211.53,144.23 L212.03,144.97 L212.53,145.72 L213.03,146.47 L213.53,147.22 L214.03,147.98 L214.53,148.73 L215.03,149.49 L215.53,150.25 L216.03,151.02 L216.53,151.78 L217.03,152.55 L217.53,153.31 L218.03,154.08 L218.53,154.85 L219.03,155.63 L219.53,156.40 L220.03,157.17 L220.53,157.94 L221.03,158.72 L221.53,159.49 L222.03,160.27 L222.53,161.04 L223.03,161.82 L223.53,162.59 L224.03,163.36 L224.53,164.14 L225.03,164.91 L225.53,165.68 L226.03,166.45 L226.53,167.22 L227.03,167.98 L227.53,168.75 L228.03,169.51 L228.53,170.28 L229.03,171.04 L229.53,171.79 L230.03,172.55 L230.53,173.30 L231.03,174.05 L231.53,174.80 L232.03,175.54 L232.53,176.29 L233.03,177.02 L233.53,177.76 L234.03,178.49 L234.53,179.22 L235.03,179.95 L235.53,180.67 L236.03,181.38 L236.53,182.10 L237.03,182.81 L237.53,183.51 L238.03,184.21 L238.53,184.91 L239.03,185.60 L239.53,186.29 L240.03,186.98 L240.53,187.66 L241.03,188.33 L241.53,189.00 L242.03,189.66 L242.53,190.32 L243.03,190.98 L243.53,191.63 L244.03,192.27 L244.53,192.91 L245.03,193.55 L245.53,194.18 L246.03,194.80 L246.53,195.42 L247.03,196.03 L247.53,196.64 L248.03,197.24 L248.53,197.84 L249.03,198.43 L249.53,199.02 L250.03,199.60 L250.53,200.17 L251.03,200.74 L251.53,201.31 L252.03,201.87 L252.53,202.42 L253.03,202.97 L253.53,203.51 L254.03,204.05 L254.53,204.58 L255.03,205.10 L255.53,205.62 L256.03,206.13 L256.53,206.64 L257.03,207.15 L257.53,207.64 L258.03,208.13 L258.53,208.62 L259.03,209.10 L259.53,209.58 L260.03,210.05 L260.53,210.51 L261.03,210.97 L261.53,211.42 L262.03,211.87 L262.53,212.31 L263.03,212.75 L263.53,213.18 L264.03,213.61 L264.53,214.03 L265.03,214.45 L265.53,214.86 L266.03,215.27 L266.53,215.67 L267.03,216.06 L267.53,216.45 L268.03,216.84 L268.53,217.22 L269.03,217.60 L269.53,217.97 L270.03,218.33 L270.53,218.69 L271.03,219.05 L271.52,219.40 L272.02,219.75 L272.52,220.09 L273.02,220.43 L273.52,220.76 L274.02,221.09 L274.52,221.42 L275.02,221.74 L275.52,222.05 L276.02,222.36 L276.52,222.67 L277.02,222.97 L277.52,223.27 L278.02,223.56 L278.52,223.85 L279.02,224.13 L279.52,224.42 L280.02,224.69 L280.52,224.96 L281.02,225.23 L281.52,225.50 L282.02,225.76 L282.52,226.02 L283.02,226.27 L283.52,226.52 L284.02,226.77 L284.52,227.01 L285.02,227.25 L285.52,227.48 L286.02,227.71 L286.52,227.94 L287.02,228.16 L287.52,228.38 L288.02,228.60 L288.52,228.82 L289.02,229.03 L289.52,229.23 L290.02,229.44 L290.52,229.64 L291.01,229.84 L291.51,230.03 L292.01,230.22 L292.51,230.41 L293.01,230.59 L293.51,230.78 L294.01,230.96 L294.51,231.13 L295.01,231.31 L295.51,231.48 L296.01,231.64 L296.51,231.81 L297.01,231.97 L297.51,232.13 L298.01,232.29 L298.51,232.44 L299.01,232.59 L299.51,232.74 L300.01,232.89 L300.51,233.04 L301.01,233.18 L301.51,233.32 L302.01,233.45 L302.51,233.59 L303.01,233.72 L303.51,233.85 L304.01,233.98 L304.51,234.10 L305.01,234.23 L305.51,234.35 L306.01,234.47 L306.51,234.58 L307.01,234.70 L307.51,234.81 L308.01,234.92 L308.51,235.03 L309.01,235.14 L309.51,235.24 L310.01,235.35 L310.51,235.45 L311.01,235.55 L311.51,235.64 L312.01,235.74 L312.51,235.83 L313.01,235.93 L313.51,236.02 L314.01,236.11 L314.51,236.19 L315.01,236.28 L315.51,236.36 L316.01,236.45 L316.51,236.53 L317.01,236.61 L317.51,236.68 L318.01,236.76 L318.51,236.84 L319.00,236.91 L319.50,236.98 L320.00,237.05 L320.50,237.12 L321.00,237.19 L321.50,237.26 L322.00,237.32 L322.50,237.39 L323.00,237.45 L323.50,237.51 L324.00,237.57 L324.50,237.63 L325.00,237.69 L325.50,237.75 L326.00,237.80 L326.50,237.86 L327.00,237.91 L327.50,237.96 L328.00,238.01 L328.50,238.06 L329.00,238.11 L329.50,238.16 L330.00,238.21 L330.50,238.26 L331.00,238.30 L331.50,238.35 L332.00,238.39 L332.50,238.43 L333.00,238.47 L333.50,238.52 L334.00,238.56 L334.50,238.60 L335.00,238.63 L335.50,238.67 L336.00,238.71 L336.50,238.75 L337.00,238.78 L337.50,238.82 L338.00,238.85 L338.50,238.88 L339.00,238.92 L339.50,238.95 L340.00,238.98 L340.50,239.01 L341.00,239.04 L341.50,239.07 L342.00,239.10 L342.50,239.12 L343.00,239.15 L343.50,239.18 L344.00,239.20 L344.50,239.23 L345.00,239.26 L345.50,239.28 L346.00,239.30 L346.50,239.33 L347.00,239.35 L347.50,239.37 L348.00,239.39 L348.50,239.42 L349.00,239.44 L349.50,239.46 L350.00,239.48 L350.50,239.50 L351.00,239.52 L351.50,239.53 L352.00,239.55 L352.50,239.57 L353.00,239.59 L353.50,239.61 L354.00,239.62 L354.50,239.64 L355.00,239.65 L355.50,239.67 L356.00,239.68 L356.50,239.70 L357.00,239.71 L357.50,239.73 L358.00,239.74 L358.50,239.76 L359.00,239.77 L359.50,239.78 L360.00,239.79 L360.50,239.81 L361.00,239.82 L361.50,239.83 L362.00,239.84 L362.50,239.85 L363.00,239.86 L363.50,239.87 L364.00,239.88 L364.50,239.89 L365.00,239.90 L365.50,239.91 L366.00,239.92 L366.50,239.93 L367.00,239.94 L367.50,239.95 L368.00,239.96 L368.50,239.97 L369.00,239.98 L369.50,239.98 L370.00,239.99 L370.50,240.00 L371.00,240.01 L371.50,240.01 L372.00,240.02 L372.50,240.03 L373.00,240.03 L373.50,240.04 L374.00,240.05 L374.50,240.05 L375.00,240.06 L375.50,240.07 L376.00,240.07 L376.50,240.08 L377.00,240.08 L377.50,240.09 L378.00,240.09 L378.50,240.10 L379.00,240.10 L379.50,240.11 L380.00,240.11 L380.50,240.12 L381.00,240.12 L381.50,240.13 L382.00,240.13 L382.50,240.14 L383.00,240.14 L383.50,240.14 L384.00,240.15" fill="none" stroke="#b010d8" stroke-width="2.2" stroke-opacity="0.85" stroke-linejoin="round" />
</g>
<g clip-path="url(#clipB)">
<path d="M460.20,30.89 L460.70,30.87 L461.20,30.85 L461.70,30.83 L462.20,30.82 L462.70,30.80 L463.20,30.79 L463.70,30.78 L464.20,30.77 L464.70,30.76 L465.20,30.75 L465.70,30.75 L466.20,30.74 L466.70,30.74 L467.20,30.74 L467.70,30.74 L468.20,30.74 L468.70,30.75 L469.20,30.75 L469.70,30.76 L470.20,30.76 L470.70,30.77 L471.20,30.78 L471.70,30.80 L472.20,30.81 L472.70,30.83 L473.20,30.84 L473.70,30.86 L474.20,30.88 L474.70,30.90 L475.20,30.92 L475.70,30.94 L476.20,30.97 L476.70,30.99 L477.20,31.02 L477.70,31.05 L478.20,31.08 L478.70,31.11 L479.20,31.14 L479.70,31.18 L480.20,31.21 L480.70,31.25 L481.20,31.28 L481.70,31.32 L482.20,31.36 L482.70,31.40 L483.20,31.45 L483.70,31.49 L484.20,31.53 L484.70,31.58 L485.20,31.63 L485.70,31.68 L486.20,31.72 L486.70,31.78 L487.20,31.83 L487.70,31.88 L488.20,31.94 L488.70,31.99 L489.20,32.05 L489.70,32.11 L490.20,32.16 L490.70,32.22 L491.20,32.29 L491.70,32.35 L492.20,32.41 L492.70,32.48 L493.20,32.54 L493.70,32.61 L494.20,32.68 L494.70,32.75 L495.20,32.82 L495.70,32.89 L496.20,32.96 L496.70,33.04 L497.20,33.11 L497.70,33.19 L498.20,33.26 L498.70,33.34 L499.20,33.42 L499.70,33.50 L500.20,33.58 L500.70,33.67 L501.20,33.75 L501.70,33.84 L502.20,33.92 L502.70,34.01 L503.20,34.10 L503.70,34.19 L504.20,34.28 L504.70,34.37 L505.20,34.46 L505.70,34.55 L506.20,34.65 L506.70,34.74 L507.20,34.84 L507.70,34.94 L508.20,35.04 L508.70,35.14 L509.20,35.24 L509.70,35.34 L510.20,35.44 L510.70,35.55 L511.20,35.65 L511.70,35.76 L512.20,35.87 L512.70,35.98 L513.20,36.09 L513.70,36.20 L514.20,36.31 L514.70,36.42 L515.20,36.53 L515.70,36.65 L516.20,36.77 L516.70,36.88 L517.20,37.00 L517.70,37.12 L518.20,37.24 L518.70,37.36 L519.20,37.48 L519.70,37.61 L520.20,37.73 L520.70,37.86 L521.20,37.99 L521.70,38.11 L522.20,38.24 L522.70,38.37 L523.20,38.50 L523.70,38.64 L524.20,38.77 L524.70,38.90 L525.20,39.04 L525.70,39.18 L526.20,39.31 L526.70,39.45 L527.20,39.59 L527.70,39.73 L528.20,39.88 L528.70,40.02 L529.20,40.16 L529.70,40.31 L530.20,40.46 L530.70,40.60 L531.20,40.75 L531.70,40.90 L532.20,41.06 L532.70,41.21 L533.20,41.36 L533.70,41.52 L534.20,41.67 L534.70,41.83 L535.20,41.99 L535.70,42.15 L536.20,42.31 L536.70,42.47 L537.20,42.63 L537.70,42.80 L538.20,42.96 L538.70,43.13 L539.20,43.30 L539.70,43.47 L540.20,43.64 L540.70,43.81 L541.20,43.98 L541.70,44.16 L542.20,44.33 L542.70,44.51 L543.20,44.69 L543.70,44.87 L544.20,45.05 L544.70,45.23 L545.20,45.41 L545.70,45.60 L546.20,45.78 L546.70,45.97 L547.20,46.16 L547.70,46.35 L548.20,46.54 L548.70,46.73 L549.20,46.93 L549.70,47.12 L550.20,47.32 L550.70,47.51 L551.20,47.71 L551.70,47.91 L552.20,48.12 L552.70,48.32 L553.20,48.52 L553.70,48.73 L554.20,48.94 L554.70,49.15 L555.20,49.36 L555.70,49.57 L556.20,49.78 L556.70,50.00 L557.20,50.22 L557.70,50.43 L558.20,50.65 L558.70,50.87 L559.20,51.10 L559.70,51.32 L560.20,51.55 L560.70,51.77 L561.20,52.00 L561.70,52.23 L562.20,52.46 L562.70,52.70 L563.20,52.93 L563.70,53.17 L564.20,53.41 L564.70,53.65 L565.20,53.89 L565.70,54.13 L566.21,54.38 L566.71,54.63 L567.21,54.88 L567.71,55.13 L568.21,55.38 L568.71,55.63 L569.21,55.89 L569.71,56.14 L570.21,56.40 L570.71,56.66 L571.21,56.93 L571.71,57.19 L572.21,57.46 L572.71,57.73 L573.21,58.00 L573.71,58.27 L574.21,58.54 L574.71,58.82 L575.21,59.10 L575.71,59.38 L576.21,59.66 L576.71,59.94 L577.21,60.23 L577.71,60.52 L578.21,60.81 L578.71,61.10 L579.21,61.39 L579.71,61.69 L580.21,61.99 L580.71,62.29 L581.21,62.59 L581.71,62.89 L582.21,63.20 L582.71,63.51 L583.21,63.82 L583.71,64.13 L584.21,64.45 L584.71,64.77 L585.21,65.09 L585.71,65.41 L586.21,65.74 L586.71,66.06 L587.21,66.39 L587.71,66.72 L588.21,67.06 L588.71,67.39 L589.21,67.73 L589.71,68.07 L590.21,68.42 L590.71,68.76 L591.21,69.11 L591.71,69.46 L592.21,69.82 L592.71,70.17 L593.21,70.53 L593.71,70.90 L594.21,71.26 L594.71,71.63 L595.21,72.00 L595.71,72.37 L596.21,72.74 L596.71,73.12 L597.21,73.50 L597.71,73.88 L598.21,74.27 L598.71,74.66 L599.21,75.05 L599.71,75.44 L600.21,75.84 L600.71,76.24 L601.21,76.64 L601.71,77.05 L602.21,77.46 L602.71,77.87 L603.21,78.29 L603.71,78.70 L604.21,79.12 L604.71,79.55 L605.21,79.98 L605.72,80.41 L606.22,80.84 L606.72,81.28 L607.22,81.72 L607.72,82.16 L608.22,82.60 L608.72,83.05 L609.22,83.51 L609.72,83.96 L610.22,84.42 L610.72,84.88 L611.22,85.35 L611.72,85.82 L612.22,86.29 L612.72,86.77 L613.22,87.25 L613.72,87.73 L614.22,88.22 L614.72,88.71 L615.22,89.20 L615.72,89.70 L616.22,90.20 L616.72,90.71 L617.22,91.21 L617.72,91.73 L618.22,92.24 L618.72,92.76 L619.22,93.28 L619.72,93.81 L620.22,94.34 L620.72,94.88 L621.22,95.41 L621.72,95.96 L622.22,96.50 L622.72,97.05 L623.22,97.60 L623.72,98.16 L624.22,98.72 L624.72,99.29 L625.22,99.86 L625.72,100.43 L626.22,101.01 L626.72,101.59 L627.22,102.17 L627.72,102.76 L628.22,103.36 L628.72,103.96 L629.22,104.56 L629.72,105.16 L630.22,105.77 L630.72,106.39 L631.22,107.00 L631.72,107.63 L632.23,108.25 L632.73,108.88 L633.23,109.52 L633.73,110.16 L634.23,110.80 L634.73,111.45 L635.23,112.10 L635.73,112.76 L636.23,113.42 L636.73,114.08 L637.23,114.75 L637.73,115.42 L638.23,116.10 L638.73,116.78 L639.23,117.47 L639.73,118.16 L640.23,118.85 L640.73,119.55 L641.23,120.25 L641.73,120.96 L642.23,121.67 L642.73,122.39 L643.23,123.11 L643.73,123.83 L644.23,124.56 L644.73,125.29 L645.23,126.03 L645.73,126.77 L646.23,127.52 L646.73,128.27 L647.23,129.02 L647.73,129.78 L648.23,130.54 L648.73,131.30 L649.23,132.07 L649.73,132.85 L650.23,133.63 L650.73,134.41 L651.23,135.19 L651.73,135.98 L652.23,136.78 L652.73,137.57 L653.23,138.38 L653.73,139.18 L654.23,139.99 L654.73,140.80 L655.23,141.62 L655.73,142.44 L656.23,143.26 L656.73,144.09 L657.23,144.92 L657.73,145.75 L658.23,146.59 L658.74,147.43 L659.24,148.27 L659.74,149.11 L660.24,149.96 L660.74,150.82 L661.24,151.67 L661.74,152.53 L662.24,153.39 L662.74,154.25 L663.24,155.12 L663.74,155.99 L664.24,156.86 L664.74,157.73 L665.24,158.61 L665.74,159.49 L666.24,160.37 L666.74,161.25 L667.24,162.13 L667.74,163.02 L668.24,163.91 L668.74,164.80 L669.24,165.69 L669.74,166.58 L670.24,167.47 L670.74,168.37 L671.24,169.26 L671.74,170.16 L672.24,171.06 L672.74,171.95 L673.24,172.85 L673.74,173.75 L674.24,174.65 L674.74,175.55 L675.24,176.45 L675.74,177.35 L676.24,178.25 L676.74,179.15 L677.24,180.04 L677.74,180.94 L678.24,181.84 L678.74,182.73 L679.24,183.63 L679.74,184.52 L680.24,185.41 L680.74,186.30 L681.24,187.19 L681.74,188.08 L682.24,188.96 L682.74,189.85 L683.24,190.73 L683.74,191.60 L684.24,192.48 L684.74,193.35 L685.24,194.22 L685.74,195.08 L686.24,195.95 L686.74,196.80 L687.24,197.66 L687.74,198.51 L688.24,199.36 L688.74,200.20 L689.24,201.04 L689.74,201.87 L690.24,202.70 L690.74,203.53 L691.24,204.35 L691.74,205.16 L692.24,205.97 L692.74,206.77 L693.24,207.57 L693.74,208.36 L694.24,209.15 L694.74,209.93 L695.24,210.70 L695.74,211.47 L696.24,212.23 L696.74,212.98 L697.24,213.73 L697.74,214.47 L698.24,215.20 L698.74,215.93 L699.24,216.65 L699.74,217.36 L700.24,218.06 L700.74,218.76 L701.24,219.44 L701.73,220.12 L702.23,220.80 L702.73,221.46 L703.23,222.11 L703.73,222.76 L704.23,223.40 L704.73,224.03 L705.23,224.65 L705.73,225.26 L706.23,225.86 L706.73,226.46 L707.23,227.04 L707.73,227.62 L708.23,228.18 L708.73,228.74 L709.23,229.29 L709.73,229.83 L710.23,230.36 L710.73,230.88 L711.23,231.39 L711.73,231.90 L712.23,232.39 L712.73,232.87 L713.23,233.35 L713.73,233.81 L714.23,234.27 L714.73,234.71 L715.23,235.15 L715.73,235.58 L716.23,236.00 L716.73,236.41 L717.22,236.81 L717.72,237.20 L718.22,237.58 L718.72,237.96 L719.22,238.32 L719.72,238.68 L720.22,239.03 L720.72,239.36 L721.22,239.69 L721.72,240.02 L722.22,240.33 L722.72,240.63 L723.22,240.93 L723.72,241.22 L724.22,241.50 L724.72,241.77 L725.22,242.04 L725.72,242.29 L726.22,242.54 L726.72,242.79 L727.22,243.02 L727.72,243.25 L728.21,243.47 L728.71,243.68 L729.21,243.89 L729.71,244.09 L730.21,244.28 L730.71,244.47 L731.21,244.65 L731.71,244.82 L732.21,244.99 L732.71,245.15 L733.21,245.31 L733.71,245.46 L734.21,245.61 L734.71,245.75 L735.21,245.88 L735.71,246.01 L736.21,246.14 L736.71,246.26 L737.21,246.37 L737.71,246.48 L738.21,246.59 L738.71,246.69 L739.21,246.79 L739.71,246.88 L740.21,246.97 L740.71,247.06 L741.21,247.14 L741.70,247.22 L742.20,247.29 L742.70,247.37 L743.20,247.44 L743.70,247.50 L744.20,247.56 L744.70,247.62 L745.20,247.68 L745.70,247.74 L746.20,247.79 L746.70,247.84 L747.20,247.88 L747.70,247.93 L748.20,247.97 L748.70,248.01 L749.20,248.05 L749.70,248.09 L750.20,248.12 L750.70,248.16 L751.20,248.19 L751.70,248.22 L752.20,248.24 L752.70,248.27 L753.20,248.30 L753.70,248.32 L754.20,248.34 L754.70,248.36 L755.20,248.38 L755.70,248.40 L756.20,248.42 L756.70,248.44 L757.20,248.45 L757.70,248.47 L758.20,248.48 L758.70,248.50 L759.20,248.51 L759.70,248.52 L760.20,248.53 L760.70,248.54 L761.20,248.55 L761.70,248.56 L762.20,248.57 L762.70,248.58 L763.20,248.59 L763.70,248.59 L764.20,248.60 L764.70,248.61 L765.20,248.61 L765.70,248.62 L766.20,248.63 L766.70,248.63 L767.20,248.63 L767.70,248.64 L768.20,248.64 L768.70,248.65 L769.20,248.65 L769.70,248.65 L770.20,248.66 L770.70,248.66 L771.20,248.66 L771.70,248.67 L772.20,248.67 L772.70,248.67 L773.20,248.67 L773.70,248.67 L774.20,248.68 L774.70,248.68 L775.20,248.68 L775.70,248.68 L776.20,248.68 L776.70,248.68 L777.20,248.69 L777.70,248.69 L778.20,248.69 L778.70,248.69 L779.20,248.69 L779.70,248.69 L780.20,248.69 L780.70,248.69 L781.20,248.69 L781.70,248.70 L782.20,248.70 L782.70,248.70 L783.20,248.70 L783.70,248.70 L784.20,248.70 L784.70,248.70 L785.20,248.70 L785.70,248.70 L786.20,248.70 L786.70,248.70 L787.20,248.70 L787.70,248.70 L788.20,248.70 L788.70,248.70 L789.20,248.70 L789.70,248.70 L790.20,248.70 L790.70,248.71 L791.20,248.71 L791.30,248.71" fill="none" stroke="#10b010" stroke-width="1.8" stroke-opacity="1.0" stroke-linejoin="round" />
<path d="M460.20,30.47 L460.70,30.45 L461.20,30.44 L461.70,30.42 L462.20,30.41 L462.70,30.39 L463.20,30.38 L463.70,30.37 L464.20,30.36 L464.70,30.35 L465.20,30.34 L465.70,30.33 L466.20,30.32 L466.70,30.32 L467.20,30.31 L467.70,30.31 L468.20,30.31 L468.70,30.30 L469.20,30.30 L469.70,30.30 L470.20,30.30 L470.70,30.31 L471.20,30.31 L471.70,30.31 L472.20,30.32 L472.70,30.32 L473.20,30.33 L473.70,30.34 L474.20,30.34 L474.70,30.35 L475.20,30.36 L475.70,30.37 L476.20,30.39 L476.70,30.40 L477.20,30.41 L477.70,30.43 L478.20,30.44 L478.70,30.46 L479.20,30.48 L479.70,30.49 L480.20,30.51 L480.70,30.53 L481.20,30.55 L481.70,30.58 L482.20,30.60 L482.70,30.62 L483.20,30.65 L483.70,30.67 L484.20,30.70 L484.70,30.73 L485.20,30.75 L485.70,30.78 L486.20,30.81 L486.70,30.84 L487.20,30.88 L487.70,30.91 L488.20,30.94 L488.70,30.98 L489.20,31.01 L489.70,31.05 L490.20,31.08 L490.70,31.12 L491.20,31.16 L491.70,31.20 L492.20,31.24 L492.70,31.28 L493.20,31.32 L493.70,31.37 L494.20,31.41 L494.69,31.46 L495.19,31.50 L495.69,31.55 L496.19,31.60 L496.69,31.65 L497.19,31.70 L497.69,31.75 L498.19,31.80 L498.69,31.85 L499.19,31.90 L499.69,31.96 L500.19,32.01 L500.69,32.07 L501.19,32.12 L501.69,32.18 L502.19,32.24 L502.69,32.30 L503.19,32.36 L503.69,32.42 L504.19,32.49 L504.69,32.55 L505.19,32.61 L505.69,32.68 L506.19,32.74 L506.69,32.81 L507.19,32.88 L507.69,32.95 L508.19,33.02 L508.69,33.09 L509.19,33.16 L509.69,33.23 L510.19,33.31 L510.69,33.38 L511.19,33.46 L511.69,33.53 L512.19,33.61 L512.69,33.69 L513.19,33.77 L513.69,33.85 L514.19,33.93 L514.69,34.01 L515.19,34.10 L515.69,34.18 L516.19,34.27 L516.69,34.35 L517.19,34.44 L517.69,34.53 L518.19,34.62 L518.69,34.71 L519.19,34.80 L519.69,34.89 L520.19,34.99 L520.69,35.08 L521.19,35.18 L521.69,35.27 L522.19,35.37 L522.69,35.47 L523.19,35.57 L523.69,35.67 L524.19,35.77 L524.69,35.88 L525.19,35.98 L525.69,36.09 L526.19,36.19 L526.69,36.30 L527.19,36.41 L527.69,36.52 L528.19,36.63 L528.69,36.74 L529.19,36.86 L529.69,36.97 L530.19,37.09 L530.69,37.20 L531.19,37.32 L531.69,37.44 L532.19,37.56 L532.69,37.68 L533.19,37.80 L533.69,37.93 L534.19,38.05 L534.69,38.18 L535.19,38.31 L535.69,38.44 L536.19,38.57 L536.69,38.70 L537.19,38.83 L537.69,38.96 L538.19,39.10 L538.69,39.24 L539.19,39.37 L539.69,39.51 L540.19,39.65 L540.69,39.79 L541.19,39.94 L541.69,40.08 L542.19,40.23 L542.69,40.37 L543.19,40.52 L543.69,40.67 L544.19,40.82 L544.69,40.98 L545.19,41.13 L545.69,41.28 L546.19,41.44 L546.69,41.60 L547.18,41.76 L547.68,41.92 L548.18,42.08 L548.68,42.25 L549.18,42.41 L549.68,42.58 L550.18,42.75 L550.68,42.92 L551.18,43.09 L551.68,43.26 L552.18,43.44 L552.68,43.61 L553.18,43.79 L553.68,43.97 L554.18,44.15 L554.68,44.33 L555.18,44.52 L555.68,44.70 L556.18,44.89 L556.68,45.08 L557.18,45.27 L557.68,45.46 L558.18,45.66 L558.68,45.85 L559.18,46.05 L559.68,46.25 L560.18,46.45 L560.68,46.66 L561.18,46.86 L561.68,47.07 L562.18,47.28 L562.68,47.49 L563.18,47.70 L563.68,47.91 L564.18,48.13 L564.68,48.35 L565.18,48.57 L565.68,48.79 L566.18,49.01 L566.68,49.24 L567.18,49.46 L567.68,49.69 L568.18,49.92 L568.68,50.16 L569.18,50.39 L569.68,50.63 L570.18,50.87 L570.68,51.11 L571.18,51.36 L571.68,51.60 L572.18,51.85 L572.68,52.10 L573.18,52.35 L573.68,52.61 L574.18,52.86 L574.68,53.12 L575.18,53.38 L575.68,53.65 L576.18,53.91 L576.68,54.18 L577.18,54.45 L577.68,54.72 L578.18,55.00 L578.68,55.28 L579.18,55.56 L579.68,55.84 L580.18,56.12 L580.69,56.41 L581.19,56.70 L581.69,56.99 L582.19,57.29 L582.69,57.58 L583.19,57.88 L583.69,58.19 L584.19,58.49 L584.69,58.80 L585.19,59.11 L585.69,59.42 L586.19,59.74 L586.69,60.05 L587.19,60.37 L587.69,60.70 L588.19,61.02 L588.69,61.35 L589.19,61.69 L589.69,62.02 L590.19,62.36 L590.69,62.70 L591.19,63.04 L591.69,63.39 L592.19,63.74 L592.69,64.09 L593.19,64.44 L593.69,64.80 L594.19,65.16 L594.69,65.53 L595.19,65.89 L595.69,66.27 L596.19,66.64 L596.69,67.02 L597.19,67.40 L597.69,67.78 L598.19,68.16 L598.69,68.55 L599.19,68.95 L599.69,69.34 L600.19,69.74 L600.69,70.15 L601.19,70.55 L601.69,70.96 L602.19,71.37 L602.69,71.79 L603.19,72.21 L603.69,72.63 L604.19,73.06 L604.69,73.49 L605.19,73.93 L605.70,74.36 L606.20,74.80 L606.70,75.25 L607.20,75.70 L607.70,76.15 L608.20,76.61 L608.70,77.06 L609.20,77.53 L609.70,78.00 L610.20,78.47 L610.70,78.94 L611.20,79.42 L611.70,79.90 L612.20,80.39 L612.70,80.88 L613.20,81.37 L613.70,81.87 L614.20,82.37 L614.70,82.88 L615.20,83.39 L615.70,83.90 L616.20,84.42 L616.70,84.95 L617.20,85.47 L617.70,86.00 L618.20,86.54 L618.71,87.08 L619.21,87.62 L619.71,88.17 L620.21,88.72 L620.71,89.28 L621.21,89.84 L621.71,90.40 L622.21,90.97 L622.71,91.54 L623.21,92.12 L623.71,92.70 L624.21,93.29 L624.71,93.88 L625.21,94.47 L625.71,95.07 L626.21,95.68 L626.71,96.29 L627.21,96.90 L627.71,97.52 L628.22,98.14 L628.72,98.77 L629.22,99.40 L629.72,100.03 L630.22,100.67 L630.72,101.32 L631.22,101.97 L631.72,102.62 L632.22,103.28 L632.72,103.94 L633.22,104.61 L633.72,105.28 L634.22,105.96 L634.72,106.64 L635.22,107.33 L635.72,108.02 L636.23,108.71 L636.73,109.41 L637.23,110.12 L637.73,110.83 L638.23,111.54 L638.73,112.26 L639.23,112.98 L639.73,113.71 L640.23,114.44 L640.73,115.18 L641.23,115.92 L641.73,116.67 L642.23,117.42 L642.73,118.17 L643.23,118.93 L643.74,119.69 L644.24,120.46 L644.74,121.23 L645.24,122.01 L645.74,122.79 L646.24,123.58 L646.74,124.37 L647.24,125.16 L647.74,125.96 L648.24,126.76 L648.74,127.57 L649.24,128.38 L649.74,129.20 L650.24,130.02 L650.75,130.84 L651.25,131.67 L651.75,132.50 L652.25,133.33 L652.75,134.17 L653.25,135.02 L653.75,135.86 L654.25,136.71 L654.75,137.57 L655.25,138.42 L655.75,139.29 L656.25,140.15 L656.75,141.02 L657.26,141.89 L657.76,142.77 L658.26,143.64 L658.76,144.52 L659.26,145.41 L659.76,146.30 L660.26,147.19 L660.76,148.08 L661.26,148.97 L661.76,149.87 L662.26,150.77 L662.76,151.68 L663.26,152.58 L663.76,153.49 L664.27,154.40 L664.77,155.31 L665.27,156.23 L665.77,157.14 L666.27,158.06 L666.77,158.98 L667.27,159.90 L667.77,160.82 L668.27,161.75 L668.77,162.67 L669.27,163.60 L669.77,164.53 L670.27,165.46 L670.77,166.38 L671.28,167.31 L671.78,168.24 L672.28,169.17 L672.78,170.10 L673.28,171.03 L673.78,171.96 L674.28,172.89 L674.78,173.82 L675.28,174.75 L675.78,175.68 L676.28,176.61 L676.78,177.54 L677.28,178.46 L677.78,179.39 L678.28,180.31 L678.78,181.23 L679.28,182.15 L679.78,183.07 L680.29,183.99 L680.79,184.90 L681.29,185.81 L681.79,186.72 L682.29,187.63 L682.79,188.53 L683.29,189.44 L683.79,190.33 L684.29,191.23 L684.79,192.12 L685.29,193.01 L685.79,193.89 L686.29,194.77 L686.79,195.65 L687.29,196.52 L687.79,197.39 L688.29,198.25 L688.79,199.11 L689.29,199.96 L689.79,200.81 L690.29,201.65 L690.79,202.49 L691.29,203.32 L691.79,204.14 L692.29,204.97 L692.79,205.78 L693.29,206.59 L693.79,207.39 L694.29,208.19 L694.79,208.97 L695.29,209.76 L695.79,210.53 L696.29,211.30 L696.79,212.06 L697.29,212.82 L697.79,213.56 L698.29,214.30 L698.79,215.04 L699.29,215.76 L699.79,216.48 L700.29,217.18 L700.79,217.89 L701.29,218.58 L701.79,219.26 L702.29,219.94 L702.79,220.61 L703.29,221.26 L703.79,221.91 L704.29,222.56 L704.79,223.19 L705.29,223.81 L705.79,224.43 L706.29,225.04 L706.79,225.63 L707.29,226.22 L707.79,226.80 L708.29,227.37 L708.79,227.93 L709.29,228.48 L709.78,229.03 L710.28,229.56 L710.78,230.09 L711.28,230.60 L711.78,231.11 L712.28,231.60 L712.78,232.09 L713.28,232.57 L713.78,233.04 L714.28,233.50 L714.78,233.95 L715.28,234.39 L715.78,234.82 L716.27,235.25 L716.77,235.66 L717.27,236.07 L717.77,236.46 L718.27,236.85 L718.77,237.23 L719.27,237.60 L719.77,237.96 L720.27,238.32 L720.77,238.66 L721.26,239.00 L721.76,239.32 L722.26,239.64 L722.76,239.96 L723.26,240.26 L723.76,240.55 L724.26,240.84 L724.76,241.12 L725.25,241.39 L725.75,241.66 L726.25,241.92 L726.75,242.16 L727.25,242.41 L727.75,242.64 L728.25,242.87 L728.75,243.09 L729.24,243.31 L729.74,243.52 L730.24,243.72 L730.74,243.91 L731.24,244.10 L731.74,244.29 L732.24,244.46 L732.74,244.63 L733.24,244.80 L733.73,244.96 L734.23,245.11 L734.73,245.26 L735.23,245.41 L735.73,245.55 L736.23,245.68 L736.73,245.81 L737.23,245.93 L737.73,246.05 L738.22,246.17 L738.72,246.28 L739.22,246.39 L739.72,246.49 L740.22,246.59 L740.72,246.68 L741.22,246.77 L741.72,246.86 L742.22,246.94 L742.72,247.02 L743.22,247.10 L743.72,247.18 L744.22,247.25 L744.71,247.31 L745.21,247.38 L745.71,247.44 L746.21,247.50 L746.71,247.56 L747.21,247.61 L747.71,247.66 L748.21,247.71 L748.71,247.76 L749.21,247.80 L749.71,247.85 L750.21,247.89 L750.71,247.93 L751.21,247.96 L751.71,248.00 L752.21,248.03 L752.71,248.06 L753.21,248.10 L753.71,248.12 L754.21,248.15 L754.71,248.18 L755.21,248.20 L755.70,248.23 L756.20,248.25 L756.70,248.27 L757.20,248.29 L757.70,248.31 L758.20,248.33 L758.70,248.34 L759.20,248.36 L759.70,248.38 L760.20,248.39 L760.70,248.40 L761.20,248.42 L761.70,248.43 L762.20,248.44 L762.70,248.45 L763.20,248.46 L763.70,248.47 L764.20,248.48 L764.70,248.49 L765.20,248.50 L765.70,248.51 L766.20,248.51 L766.70,248.52 L767.20,248.53 L767.70,248.53 L768.20,248.54 L768.70,248.55 L769.20,248.55 L769.70,248.56 L770.20,248.56 L770.70,248.57 L771.20,248.57 L771.70,248.57 L772.20,248.58 L772.70,248.58 L773.20,248.58 L773.70,248.59 L774.20,248.59 L774.70,248.59 L775.20,248.60 L775.70,248.60 L776.20,248.60 L776.70,248.60 L777.20,248.60 L777.70,248.61 L778.20,248.61 L778.70,248.61 L779.20,248.61 L779.70,248.61 L780.20,248.62 L780.70,248.62 L781.20,248.62 L781.70,248.62 L782.20,248.62 L782.70,248.62 L783.20,248.62 L783.70,248.63 L784.20,248.63 L784.70,248.63 L785.20,248.63 L785.70,248.63 L786.20,248.63 L786.70,248.63 L787.20,248.63 L787.70,248.63 L788.20,248.63 L788.70,248.63 L789.20,248.64 L789.70,248.64 L790.20,248.64 L790.70,248.64 L791.20,248.64 L791.30,248.64" fill="none" stroke="#10b010" stroke-width="1.8" stroke-opacity="1.0" stroke-linejoin="round" />
<path d="M460.20,31.03 L460.70,31.04 L461.20,31.04 L461.70,31.04 L462.20,31.05 L462.70,31.06 L463.20,31.06 L463.70,31.07 L464.20,31.08 L464.70,31.09 L465.20,31.10 L465.70,31.11 L466.20,31.12 L466.70,31.14 L467.20,31.15 L467.70,31.16 L468.20,31.18 L468.70,31.20 L469.20,31.21 L469.70,31.23 L470.20,31.25 L470.70,31.27 L471.20,31.29 L471.70,31.31 L472.20,31.33 L472.70,31.35 L473.20,31.38 L473.70,31.40 L474.20,31.43 L474.70,31.45 L475.20,31.48 L475.70,31.51 L476.20,31.54 L476.70,31.56 L477.20,31.60 L477.70,31.63 L478.19,31.66 L478.69,31.69 L479.19,31.72 L479.69,31.76 L480.19,31.79 L480.69,31.83 L481.19,31.87 L481.69,31.90 L482.19,31.94 L482.69,31.98 L483.19,32.02 L483.69,32.06 L484.19,32.11 L484.69,32.15 L485.19,32.19 L485.69,32.24 L486.19,32.28 L486.69,32.33 L487.19,32.38 L487.69,32.43 L488.19,32.47 L488.69,32.52 L489.19,32.58 L489.69,32.63 L490.19,32.68 L490.69,32.73 L491.19,32.79 L491.69,32.84 L492.19,32.90 L492.69,32.96 L493.19,33.02 L493.69,33.08 L494.19,33.14 L494.69,33.20 L495.19,33.26 L495.69,33.32 L496.19,33.39 L496.69,33.45 L497.19,33.52 L497.69,33.59 L498.19,33.65 L498.69,33.72 L499.19,33.79 L499.69,33.86 L500.19,33.94 L500.69,34.01 L501.19,34.08 L501.69,34.16 L502.19,34.24 L502.69,34.31 L503.19,34.39 L503.69,34.47 L504.19,34.55 L504.69,34.63 L505.19,34.72 L505.69,34.80 L506.19,34.88 L506.69,34.97 L507.19,35.06 L507.69,35.15 L508.19,35.23 L508.69,35.33 L509.19,35.42 L509.68,35.51 L510.18,35.60 L510.68,35.70 L511.18,35.79 L511.68,35.89 L512.18,35.99 L512.68,36.09 L513.18,36.19 L513.68,36.29 L514.18,36.39 L514.68,36.50 L515.18,36.60 L515.68,36.71 L516.18,36.82 L516.68,36.93 L517.18,37.04 L517.68,37.15 L518.18,37.26 L518.68,37.38 L519.18,37.49 L519.68,37.61 L520.18,37.73 L520.68,37.85 L521.18,37.97 L521.68,38.09 L522.18,38.22 L522.68,38.34 L523.18,38.47 L523.68,38.60 L524.18,38.72 L524.68,38.86 L525.18,38.99 L525.68,39.12 L526.18,39.26 L526.68,39.39 L527.18,39.53 L527.68,39.67 L528.18,39.81 L528.68,39.95 L529.18,40.09 L529.68,40.24 L530.18,40.39 L530.68,40.53 L531.18,40.68 L531.68,40.84 L532.18,40.99 L532.68,41.14 L533.18,41.30 L533.68,41.46 L534.18,41.62 L534.68,41.78 L535.18,41.94 L535.68,42.10 L536.18,42.27 L536.68,42.44 L537.18,42.61 L537.68,42.78 L538.18,42.95 L538.68,43.12 L539.18,43.30 L539.68,43.48 L540.18,43.66 L540.68,43.84 L541.18,44.02 L541.68,44.21 L542.18,44.40 L542.68,44.58 L543.18,44.78 L543.68,44.97 L544.18,45.16 L544.68,45.36 L545.18,45.56 L545.68,45.76 L546.18,45.96 L546.68,46.16 L547.18,46.37 L547.68,46.58 L548.18,46.79 L548.68,47.00 L549.18,47.22 L549.68,47.43 L550.18,47.65 L550.68,47.87 L551.18,48.10 L551.68,48.32 L552.18,48.55 L552.68,48.78 L553.18,49.01 L553.68,49.24 L554.18,49.48 L554.68,49.72 L555.18,49.96 L555.68,50.20 L556.18,50.45 L556.68,50.69 L557.18,50.94 L557.68,51.20 L558.18,51.45 L558.68,51.71 L559.18,51.97 L559.68,52.23 L560.18,52.49 L560.68,52.76 L561.18,53.03 L561.68,53.30 L562.18,53.58 L562.68,53.85 L563.18,54.13 L563.68,54.42 L564.18,54.70 L564.68,54.99 L565.18,55.28 L565.68,55.57 L566.18,55.87 L566.68,56.17 L567.18,56.47 L567.68,56.77 L568.18,57.08 L568.68,57.39 L569.18,57.70 L569.68,58.02 L570.18,58.34 L570.68,58.66 L571.18,58.99 L571.68,59.31 L572.19,59.64 L572.69,59.98 L573.19,60.31 L573.69,60.65 L574.19,61.00 L574.69,61.34 L575.19,61.69 L575.69,62.04 L576.19,62.40 L576.69,62.76 L577.19,63.12 L577.69,63.48 L578.19,63.85 L578.69,64.23 L579.19,64.60 L579.69,64.98 L580.19,65.36 L580.69,65.75 L581.19,66.14 L581.69,66.53 L582.19,66.92 L582.69,67.32 L583.19,67.73 L583.70,68.13 L584.20,68.54 L584.70,68.96 L585.20,69.37 L585.70,69.80 L586.20,70.22 L586.70,70.65 L587.20,71.08 L587.70,71.52 L588.20,71.96 L588.70,72.40 L589.20,72.85 L589.70,73.30 L590.20,73.76 L590.70,74.21 L591.20,74.68 L591.71,75.15 L592.21,75.62 L592.71,76.09 L593.21,76.57 L593.71,77.05 L594.21,77.54 L594.71,78.03 L595.21,78.53 L595.71,79.03 L596.21,79.53 L596.71,80.04 L597.21,80.56 L597.71,81.07 L598.22,81.59 L598.72,82.12 L599.22,82.65 L599.72,83.18 L600.22,83.72 L600.72,84.27 L601.22,84.81 L601.72,85.37 L602.22,85.92 L602.72,86.48 L603.22,87.05 L603.73,87.62 L604.23,88.19 L604.73,88.77 L605.23,89.36 L605.73,89.94 L606.23,90.54 L606.73,91.13 L607.23,91.74 L607.73,92.34 L608.24,92.95 L608.74,93.57 L609.24,94.19 L609.74,94.82 L610.24,95.45 L610.74,96.08 L611.24,96.72 L611.74,97.37 L612.24,98.02 L612.75,98.67 L613.25,99.33 L613.75,99.99 L614.25,100.66 L614.75,101.34 L615.25,102.02 L615.75,102.70 L616.25,103.39 L616.76,104.08 L617.26,104.78 L617.76,105.48 L618.26,106.19 L618.76,106.90 L619.26,107.62 L619.76,108.34 L620.26,109.06 L620.77,109.80 L621.27,110.53 L621.77,111.27 L622.27,112.02 L622.77,112.77 L623.27,113.52 L623.77,114.28 L624.28,115.05 L624.78,115.82 L625.28,116.59 L625.78,117.37 L626.28,118.16 L626.78,118.94 L627.28,119.74 L627.79,120.53 L628.29,121.34 L628.79,122.14 L629.29,122.95 L629.79,123.77 L630.29,124.59 L630.79,125.41 L631.30,126.24 L631.80,127.07 L632.30,127.91 L632.80,128.75 L633.30,129.60 L633.80,130.45 L634.30,131.30 L634.81,132.16 L635.31,133.02 L635.81,133.89 L636.31,134.76 L636.81,135.63 L637.31,136.51 L637.81,137.39 L638.32,138.27 L638.82,139.16 L639.32,140.05 L639.82,140.95 L640.32,141.85 L640.82,142.75 L641.33,143.65 L641.83,144.56 L642.33,145.47 L642.83,146.38 L643.33,147.30 L643.83,148.22 L644.33,149.14 L644.84,150.07 L645.34,150.99 L645.84,151.92 L646.34,152.86 L646.84,153.79 L647.34,154.73 L647.84,155.66 L648.35,156.60 L648.85,157.55 L649.35,158.49 L649.85,159.43 L650.35,160.38 L650.85,161.33 L651.35,162.28 L651.86,163.23 L652.36,164.18 L652.86,165.13 L653.36,166.08 L653.86,167.03 L654.36,167.99 L654.86,168.94 L655.36,169.89 L655.87,170.84 L656.37,171.80 L656.87,172.75 L657.37,173.70 L657.87,174.65 L658.37,175.60 L658.87,176.55 L659.37,177.50 L659.88,178.45 L660.38,179.39 L660.88,180.34 L661.38,181.28 L661.88,182.22 L662.38,183.16 L662.88,184.09 L663.38,185.03 L663.88,185.96 L664.38,186.89 L664.89,187.81 L665.39,188.74 L665.89,189.65 L666.39,190.57 L666.89,191.48 L667.39,192.39 L667.89,193.30 L668.39,194.20 L668.89,195.09 L669.39,195.98 L669.89,196.87 L670.39,197.75 L670.89,198.63 L671.39,199.50 L671.90,200.37 L672.40,201.23 L672.90,202.09 L673.40,202.94 L673.90,203.78 L674.40,204.62 L674.90,205.45 L675.40,206.28 L675.90,207.10 L676.40,207.91 L676.90,208.72 L677.40,209.52 L677.90,210.31 L678.40,211.09 L678.90,211.87 L679.40,212.64 L679.90,213.40 L680.40,214.16 L680.90,214.90 L681.40,215.64 L681.90,216.37 L682.40,217.09 L682.90,217.81 L683.40,218.51 L683.90,219.21 L684.40,219.90 L684.90,220.58 L685.40,221.25 L685.89,221.91 L686.39,222.56 L686.89,223.21 L687.39,223.84 L687.89,224.47 L688.39,225.08 L688.89,225.69 L689.39,226.29 L689.89,226.87 L690.39,227.45 L690.89,228.02 L691.38,228.58 L691.88,229.13 L692.38,229.67 L692.88,230.20 L693.38,230.72 L693.88,231.24 L694.38,231.74 L694.87,232.23 L695.37,232.71 L695.87,233.19 L696.37,233.65 L696.87,234.10 L697.37,234.55 L697.86,234.99 L698.36,235.41 L698.86,235.83 L699.36,236.24 L699.86,236.63 L700.35,237.02 L700.85,237.40 L701.35,237.77 L701.85,238.14 L702.34,238.49 L702.84,238.84 L703.34,239.17 L703.84,239.50 L704.33,239.82 L704.83,240.13 L705.33,240.43 L705.83,240.72 L706.32,241.01 L706.82,241.29 L707.32,241.56 L707.82,241.82 L708.31,242.07 L708.81,242.32 L709.31,242.56 L709.80,242.79 L710.30,243.02 L710.80,243.24 L711.30,243.45 L711.79,243.65 L712.29,243.85 L712.79,244.04 L713.29,244.23 L713.78,244.41 L714.28,244.58 L714.78,244.75 L715.28,244.91 L715.77,245.07 L716.27,245.22 L716.77,245.36 L717.27,245.50 L717.76,245.64 L718.26,245.77 L718.76,245.89 L719.26,246.01 L719.75,246.12 L720.25,246.24 L720.75,246.34 L721.25,246.44 L721.75,246.54 L722.24,246.64 L722.74,246.73 L723.24,246.81 L723.74,246.90 L724.24,246.98 L724.74,247.05 L725.23,247.12 L725.73,247.19 L726.23,247.26 L726.73,247.32 L727.23,247.38 L727.73,247.44 L728.23,247.50 L728.72,247.55 L729.22,247.60 L729.72,247.65 L730.22,247.69 L730.72,247.74 L731.22,247.78 L731.72,247.82 L732.22,247.85 L732.72,247.89 L733.22,247.92 L733.71,247.96 L734.21,247.99 L734.71,248.02 L735.21,248.04 L735.71,248.07 L736.21,248.09 L736.71,248.12 L737.21,248.14 L737.71,248.16 L738.21,248.18 L738.71,248.20 L739.21,248.22 L739.71,248.23 L740.21,248.25 L740.71,248.26 L741.21,248.28 L741.71,248.29 L742.21,248.31 L742.71,248.32 L743.20,248.33 L743.70,248.34 L744.20,248.35 L744.70,248.36 L745.20,248.37 L745.70,248.38 L746.20,248.38 L746.70,248.39 L747.20,248.40 L747.70,248.41 L748.20,248.41 L748.70,248.42 L749.20,248.42 L749.70,248.43 L750.20,248.43 L750.70,248.44 L751.20,248.44 L751.70,248.45 L752.20,248.45 L752.70,248.45 L753.20,248.46 L753.70,248.46 L754.20,248.46 L754.70,248.47 L755.20,248.47 L755.70,248.47 L756.20,248.48 L756.70,248.48 L757.20,248.48 L757.70,248.48 L758.20,248.48 L758.70,248.49 L759.20,248.49 L759.70,248.49 L760.20,248.49 L760.70,248.49 L761.20,248.50 L761.70,248.50 L762.20,248.50 L762.70,248.50 L763.20,248.50 L763.70,248.50 L764.20,248.50 L764.70,248.51 L765.20,248.51 L765.70,248.51 L766.20,248.51 L766.70,248.51 L767.20,248.51 L767.70,248.51 L768.20,248.51 L768.70,248.52 L769.20,248.52 L769.70,248.52 L770.20,248.52 L770.70,248.52 L771.20,248.52 L771.70,248.52 L772.20,248.52 L772.70,248.52 L773.20,248.53 L773.70,248.53 L774.20,248.53 L774.70,248.53 L775.20,248.53 L775.70,248.53 L776.20,248.53 L776.70,248.53 L777.20,248.53 L777.70,248.54 L778.20,248.54 L778.70,248.54 L779.20,248.54 L779.70,248.54 L780.20,248.54 L780.70,248.54 L781.20,248.54 L781.70,248.54 L782.20,248.54 L782.70,248.55 L783.20,248.55 L783.70,248.55 L784.20,248.55 L784.70,248.55 L785.20,248.55 L785.70,248.55 L786.20,248.55 L786.70,248.55 L787.20,248.56 L787.70,248.56 L788.20,248.56 L788.70,248.56 L789.20,248.56 L789.70,248.56 L790.20,248.56 L790.70,248.56 L791.20,248.57 L791.30,248.57" fill="none" stroke="#f010f0" stroke-width="1.5" stroke-opacity="1.0" stroke-linejoin="round" />
<path d="M461.70,30.78 L462.20,30.77 L462.70,30.77 L463.20,30.77 L463.70,30.77 L464.20,30.77 L464.70,30.77 L465.20,30.78 L465.70,30.78 L466.20,30.79 L466.70,30.80 L467.20,30.81 L467.70,30.82 L468.20,30.84 L468.70,30.86 L469.20,30.87 L469.70,30.89 L470.20,30.91 L470.70,30.93 L471.20,30.96 L471.70,30.98 L472.19,31.01 L472.69,31.04 L473.19,31.07 L473.69,31.10 L474.19,31.13 L474.69,31.17 L475.19,31.20 L475.69,31.24 L476.19,31.28 L476.69,31.32 L477.19,31.36 L477.69,31.40 L478.19,31.44 L478.69,31.49 L479.19,31.53 L479.69,31.58 L480.19,31.63 L480.69,31.68 L481.19,31.73 L481.69,31.79 L482.19,31.84 L482.69,31.90 L483.19,31.96 L483.69,32.01 L484.19,32.07 L484.69,32.14 L485.19,32.20 L485.69,32.26 L486.19,32.33 L486.69,32.39 L487.19,32.46 L487.69,32.53 L488.18,32.60 L488.68,32.67 L489.18,32.74 L489.68,32.82 L490.18,32.89 L490.68,32.97 L491.18,33.05 L491.68,33.12 L492.18,33.20 L492.68,33.28 L493.18,33.37 L493.68,33.45 L494.18,33.53 L494.68,33.62 L495.18,33.71 L495.68,33.80 L496.18,33.88 L496.68,33.98 L497.18,34.07 L497.68,34.16 L498.18,34.25 L498.68,34.35 L499.18,34.45 L499.68,34.54 L500.18,34.64 L500.68,34.74 L501.18,34.84 L501.68,34.95 L502.18,35.05 L502.68,35.15 L503.18,35.26 L503.68,35.37 L504.18,35.47 L504.68,35.58 L505.18,35.69 L505.68,35.80 L506.17,35.92 L506.67,36.03 L507.17,36.15 L507.67,36.26 L508.17,36.38 L508.67,36.50 L509.17,36.62 L509.67,36.74 L510.17,36.86 L510.67,36.98 L511.17,37.11 L511.67,37.23 L512.17,37.36 L512.67,37.49 L513.17,37.61 L513.67,37.74 L514.17,37.88 L514.67,38.01 L515.17,38.14 L515.67,38.28 L516.17,38.41 L516.67,38.55 L517.17,38.69 L517.67,38.83 L518.17,38.97 L518.67,39.11 L519.17,39.25 L519.67,39.40 L520.17,39.54 L520.67,39.69 L521.17,39.84 L521.67,39.99 L522.17,40.14 L522.67,40.29 L523.17,40.44 L523.67,40.59 L524.17,40.75 L524.67,40.91 L525.17,41.06 L525.67,41.22 L526.17,41.38 L526.67,41.54 L527.17,41.71 L527.67,41.87 L528.17,42.04 L528.67,42.20 L529.16,42.37 L529.66,42.54 L530.16,42.71 L530.66,42.88 L531.16,43.05 L531.66,43.23 L532.16,43.41 L532.66,43.58 L533.16,43.76 L533.66,43.94 L534.16,44.12 L534.66,44.30 L535.16,44.49 L535.66,44.67 L536.16,44.86 L536.66,45.05 L537.16,45.24 L537.66,45.43 L538.16,45.62 L538.66,45.82 L539.16,46.01 L539.66,46.21 L540.16,46.41 L540.66,46.61 L541.16,46.81 L541.66,47.01 L542.16,47.22 L542.66,47.42 L543.16,47.63 L543.66,47.84 L544.16,48.05 L544.66,48.26 L545.16,48.48 L545.66,48.69 L546.16,48.91 L546.66,49.13 L547.16,49.35 L547.66,49.57 L548.16,49.79 L548.66,50.02 L549.16,50.24 L549.66,50.47 L550.16,50.70 L550.66,50.94 L551.16,51.17 L551.66,51.41 L552.16,51.64 L552.66,51.88 L553.16,52.12 L553.66,52.37 L554.16,52.61 L554.66,52.86 L555.16,53.11 L555.66,53.36 L556.16,53.61 L556.66,53.86 L557.16,54.12 L557.66,54.38 L558.16,54.64 L558.66,54.90 L559.16,55.16 L559.66,55.43 L560.16,55.70 L560.66,55.97 L561.16,56.24 L561.66,56.51 L562.16,56.79 L562.66,57.07 L563.16,57.35 L563.66,57.63 L564.16,57.91 L564.66,58.20 L565.16,58.49 L565.66,58.78 L566.16,59.08 L566.66,59.37 L567.16,59.67 L567.66,59.97 L568.16,60.28 L568.66,60.58 L569.16,60.89 L569.66,61.20 L570.16,61.51 L570.66,61.83 L571.16,62.14 L571.66,62.47 L572.16,62.79 L572.66,63.11 L573.16,63.44 L573.66,63.77 L574.16,64.11 L574.66,64.44 L575.16,64.78 L575.66,65.12 L576.16,65.46 L576.67,65.81 L577.17,66.16 L577.67,66.51 L578.17,66.87 L578.67,67.23 L579.17,67.59 L579.67,67.95 L580.17,68.32 L580.67,68.69 L581.17,69.06 L581.67,69.44 L582.17,69.81 L582.67,70.20 L583.17,70.58 L583.67,70.97 L584.17,71.36 L584.67,71.76 L585.17,72.15 L585.67,72.55 L586.17,72.96 L586.67,73.37 L587.17,73.78 L587.67,74.19 L588.17,74.61 L588.67,75.03 L589.17,75.45 L589.68,75.88 L590.18,76.31 L590.68,76.75 L591.18,77.19 L591.68,77.63 L592.18,78.08 L592.68,78.53 L593.18,78.98 L593.68,79.44 L594.18,79.90 L594.68,80.36 L595.18,80.83 L595.68,81.30 L596.18,81.78 L596.68,82.26 L597.18,82.74 L597.69,83.23 L598.19,83.72 L598.69,84.22 L599.19,84.72 L599.69,85.22 L600.19,85.73 L600.69,86.24 L601.19,86.76 L601.69,87.28 L602.19,87.81 L602.69,88.34 L603.19,88.87 L603.69,89.41 L604.20,89.95 L604.70,90.50 L605.20,91.05 L605.70,91.60 L606.20,92.17 L606.70,92.73 L607.20,93.30 L607.70,93.87 L608.20,94.45 L608.70,95.04 L609.21,95.62 L609.71,96.22 L610.21,96.81 L610.71,97.42 L611.21,98.02 L611.71,98.63 L612.21,99.25 L612.71,99.87 L613.21,100.50 L613.71,101.13 L614.22,101.76 L614.72,102.41 L615.22,103.05 L615.72,103.70 L616.22,104.36 L616.72,105.02 L617.22,105.68 L617.72,106.35 L618.23,107.03 L618.73,107.71 L619.23,108.40 L619.73,109.09 L620.23,109.78 L620.73,110.48 L621.23,111.19 L621.73,111.90 L622.24,112.61 L622.74,113.34 L623.24,114.06 L623.74,114.79 L624.24,115.53 L624.74,116.27 L625.24,117.02 L625.75,117.77 L626.25,118.53 L626.75,119.29 L627.25,120.05 L627.75,120.83 L628.25,121.60 L628.75,122.38 L629.26,123.17 L629.76,123.96 L630.26,124.76 L630.76,125.56 L631.26,126.37 L631.76,127.18 L632.27,127.99 L632.77,128.81 L633.27,129.64 L633.77,130.47 L634.27,131.30 L634.77,132.14 L635.28,132.99 L635.78,133.84 L636.28,134.69 L636.78,135.55 L637.28,136.41 L637.78,137.27 L638.28,138.14 L638.79,139.02 L639.29,139.90 L639.79,140.78 L640.29,141.67 L640.79,142.56 L641.29,143.45 L641.80,144.35 L642.30,145.25 L642.80,146.15 L643.30,147.06 L643.80,147.98 L644.30,148.89 L644.81,149.81 L645.31,150.73 L645.81,151.65 L646.31,152.58 L646.81,153.51 L647.31,154.44 L647.82,155.38 L648.32,156.32 L648.82,157.26 L649.32,158.20 L649.82,159.14 L650.32,160.09 L650.83,161.04 L651.33,161.99 L651.83,162.94 L652.33,163.89 L652.83,164.84 L653.33,165.80 L653.84,166.75 L654.34,167.71 L654.84,168.66 L655.34,169.62 L655.84,170.58 L656.34,171.53 L656.84,172.49 L657.35,173.45 L657.85,174.41 L658.35,175.36 L658.85,176.32 L659.35,177.27 L659.85,178.22 L660.35,179.17 L660.86,180.12 L661.36,181.07 L661.86,182.02 L662.36,182.96 L662.86,183.91 L663.36,184.85 L663.86,185.78 L664.37,186.72 L664.87,187.65 L665.37,188.58 L665.87,189.50 L666.37,190.42 L666.87,191.34 L667.37,192.26 L667.87,193.16 L668.37,194.07 L668.87,194.97 L669.38,195.87 L669.88,196.76 L670.38,197.64 L670.88,198.52 L671.38,199.40 L671.88,200.27 L672.38,201.13 L672.88,201.99 L673.38,202.84 L673.88,203.69 L674.38,204.53 L674.88,205.36 L675.38,206.19 L675.88,207.01 L676.39,207.82 L676.89,208.62 L677.39,209.42 L677.89,210.21 L678.39,210.99 L678.89,211.76 L679.39,212.53 L679.89,213.29 L680.39,214.04 L680.89,214.78 L681.39,215.51 L681.89,216.23 L682.39,216.95 L682.89,217.66 L683.39,218.35 L683.89,219.04 L684.39,219.72 L684.89,220.39 L685.39,221.05 L685.89,221.71 L686.38,222.35 L686.88,222.98 L687.38,223.61 L687.88,224.22 L688.38,224.83 L688.88,225.42 L689.38,226.01 L689.88,226.58 L690.38,227.15 L690.88,227.71 L691.38,228.26 L691.88,228.79 L692.37,229.32 L692.87,229.84 L693.37,230.35 L693.87,230.85 L694.37,231.34 L694.87,231.82 L695.37,232.29 L695.87,232.75 L696.36,233.20 L696.86,233.65 L697.36,234.08 L697.86,234.50 L698.36,234.92 L698.85,235.32 L699.35,235.72 L699.85,236.11 L700.35,236.49 L700.85,236.86 L701.34,237.22 L701.84,237.57 L702.34,237.92 L702.84,238.25 L703.34,238.58 L703.83,238.90 L704.33,239.21 L704.83,239.52 L705.33,239.81 L705.82,240.10 L706.32,240.38 L706.82,240.65 L707.32,240.92 L707.81,241.18 L708.31,241.43 L708.81,241.67 L709.31,241.91 L709.80,242.14 L710.30,242.37 L710.80,242.58 L711.30,242.79 L711.79,243.00 L712.29,243.20 L712.79,243.39 L713.29,243.58 L713.78,243.76 L714.28,243.93 L714.78,244.10 L715.28,244.27 L715.78,244.43 L716.27,244.58 L716.77,244.73 L717.27,244.88 L717.77,245.01 L718.26,245.15 L718.76,245.28 L719.26,245.41 L719.76,245.53 L720.26,245.64 L720.75,245.76 L721.25,245.87 L721.75,245.97 L722.25,246.07 L722.75,246.17 L723.25,246.27 L723.74,246.36 L724.24,246.45 L724.74,246.53 L725.24,246.61 L725.74,246.69 L726.24,246.77 L726.74,246.84 L727.23,246.91 L727.73,246.98 L728.23,247.04 L728.73,247.10 L729.23,247.16 L729.73,247.22 L730.23,247.28 L730.73,247.33 L731.22,247.38 L731.72,247.43 L732.22,247.47 L732.72,247.52 L733.22,247.56 L733.72,247.60 L734.22,247.64 L734.72,247.68 L735.22,247.72 L735.72,247.75 L736.22,247.79 L736.72,247.82 L737.21,247.85 L737.71,247.88 L738.21,247.91 L738.71,247.93 L739.21,247.96 L739.71,247.98 L740.21,248.01 L740.71,248.03 L741.21,248.05 L741.71,248.07 L742.21,248.09 L742.71,248.11 L743.21,248.13 L743.71,248.15 L744.21,248.16 L744.71,248.18 L745.21,248.19 L745.71,248.21 L746.21,248.22 L746.71,248.23 L747.21,248.25 L747.71,248.26 L748.21,248.27 L748.70,248.28 L749.20,248.29 L749.70,248.30 L750.20,248.31 L750.70,248.32 L751.20,248.33 L751.70,248.34 L752.20,248.34 L752.70,248.35 L753.20,248.36 L753.70,248.37 L754.20,248.37 L754.70,248.38 L755.20,248.38 L755.70,248.39 L756.20,248.40 L756.70,248.40 L757.20,248.41 L757.70,248.41 L758.20,248.42 L758.70,248.42 L759.20,248.42 L759.70,248.43 L760.20,248.43 L760.70,248.43 L761.20,248.44 L761.70,248.44 L762.20,248.45 L762.70,248.45 L763.20,248.45 L763.70,248.45 L764.20,248.46 L764.70,248.46 L765.20,248.46 L765.70,248.46 L766.20,248.47 L766.70,248.47 L767.20,248.47 L767.70,248.47 L768.20,248.48 L768.70,248.48 L769.20,248.48 L769.70,248.48 L770.20,248.48 L770.70,248.48 L771.20,248.49 L771.70,248.49 L772.20,248.49 L772.70,248.49 L773.20,248.49 L773.70,248.49 L774.20,248.50 L774.70,248.50 L775.20,248.50 L775.70,248.50 L776.20,248.50 L776.70,248.50 L777.20,248.50 L777.70,248.51 L778.20,248.51 L778.70,248.51 L779.20,248.51 L779.70,248.51 L780.20,248.51 L780.70,248.51 L781.20,248.51 L781.70,248.52 L782.20,248.52 L782.70,248.52 L783.20,248.52 L783.70,248.52 L784.20,248.52 L784.70,248.52 L785.20,248.52 L785.70,248.52 L786.20,248.53 L786.70,248.53 L787.20,248.53 L787.70,248.53 L788.20,248.53 L788.70,248.53 L789.20,248.53 L789.70,248.53 L790.20,248.53 L790.70,248.54 L791.20,248.54 L791.70,248.54 L792.20,248.54 L792.70,248.54 L792.80,248.54" fill="none" stroke="#ff00ff" stroke-width="1.5" stroke-opacity="1.0" stroke-linejoin="round" />
<path d="M460.20,31.25 L460.70,31.24 L461.20,31.24 L461.70,31.24 L462.20,31.24 L462.70,31.25 L463.20,31.25 L463.70,31.26 L464.20,31.27 L464.70,31.28 L465.20,31.29 L465.70,31.30 L466.20,31.31 L466.70,31.33 L467.20,31.35 L467.70,31.37 L468.20,31.39 L468.70,31.41 L469.20,31.43 L469.70,31.46 L470.20,31.48 L470.70,31.51 L471.20,31.54 L471.70,31.57 L472.20,31.60 L472.70,31.63 L473.19,31.67 L473.69,31.70 L474.19,31.74 L474.69,31.78 L475.19,31.82 L475.69,31.86 L476.19,31.90 L476.69,31.95 L477.19,31.99 L477.69,32.04 L478.19,32.09 L478.69,32.14 L479.19,32.19 L479.69,32.24 L480.19,32.29 L480.69,32.35 L481.19,32.40 L481.69,32.46 L482.19,32.52 L482.69,32.58 L483.19,32.64 L483.69,32.70 L484.19,32.77 L484.69,32.83 L485.19,32.90 L485.69,32.96 L486.19,33.03 L486.69,33.10 L487.19,33.17 L487.69,33.24 L488.19,33.32 L488.69,33.39 L489.19,33.47 L489.69,33.54 L490.19,33.62 L490.69,33.70 L491.19,33.78 L491.69,33.86 L492.19,33.95 L492.69,34.03 L493.19,34.11 L493.69,34.20 L494.19,34.29 L494.69,34.38 L495.19,34.47 L495.69,34.56 L496.19,34.65 L496.69,34.74 L497.18,34.84 L497.68,34.93 L498.18,35.03 L498.68,35.13 L499.18,35.23 L499.68,35.33 L500.18,35.43 L500.68,35.53 L501.18,35.63 L501.68,35.74 L502.18,35.84 L502.68,35.95 L503.18,36.06 L503.68,36.17 L504.18,36.28 L504.68,36.39 L505.18,36.50 L505.68,36.62 L506.18,36.73 L506.68,36.85 L507.18,36.97 L507.68,37.09 L508.18,37.21 L508.68,37.33 L509.18,37.45 L509.68,37.57 L510.18,37.70 L510.68,37.82 L511.18,37.95 L511.68,38.08 L512.18,38.21 L512.68,38.34 L513.18,38.47 L513.68,38.60 L514.18,38.73 L514.68,38.87 L515.18,39.01 L515.68,39.14 L516.18,39.28 L516.68,39.42 L517.18,39.56 L517.68,39.70 L518.18,39.85 L518.68,39.99 L519.18,40.14 L519.68,40.29 L520.18,40.43 L520.68,40.58 L521.18,40.73 L521.68,40.89 L522.18,41.04 L522.68,41.19 L523.18,41.35 L523.68,41.51 L524.18,41.67 L524.68,41.83 L525.18,41.99 L525.68,42.15 L526.18,42.31 L526.68,42.48 L527.18,42.64 L527.68,42.81 L528.18,42.98 L528.68,43.15 L529.18,43.32 L529.68,43.49 L530.18,43.67 L530.68,43.84 L531.17,44.02 L531.67,44.20 L532.17,44.38 L532.67,44.56 L533.17,44.74 L533.67,44.92 L534.17,45.11 L534.67,45.30 L535.17,45.48 L535.67,45.67 L536.17,45.87 L536.67,46.06 L537.17,46.25 L537.67,46.45 L538.17,46.64 L538.67,46.84 L539.17,47.04 L539.67,47.24 L540.17,47.45 L540.67,47.65 L541.17,47.86 L541.67,48.06 L542.17,48.27 L542.67,48.48 L543.17,48.70 L543.67,48.91 L544.17,49.13 L544.67,49.34 L545.17,49.56 L545.67,49.78 L546.17,50.01 L546.67,50.23 L547.17,50.45 L547.67,50.68 L548.17,50.91 L548.67,51.14 L549.17,51.37 L549.67,51.61 L550.17,51.84 L550.67,52.08 L551.17,52.32 L551.67,52.56 L552.17,52.81 L552.67,53.05 L553.17,53.30 L553.67,53.55 L554.17,53.80 L554.67,54.05 L555.17,54.31 L555.67,54.56 L556.17,54.82 L556.67,55.08 L557.17,55.35 L557.67,55.61 L558.17,55.88 L558.67,56.15 L559.17,56.42 L559.67,56.69 L560.17,56.96 L560.67,57.24 L561.17,57.52 L561.67,57.80 L562.17,58.09 L562.67,58.37 L563.17,58.66 L563.67,58.95 L564.17,59.24 L564.67,59.54 L565.18,59.84 L565.68,60.14 L566.18,60.44 L566.68,60.74 L567.18,61.05 L567.68,61.36 L568.18,61.67 L568.68,61.98 L569.18,62.30 L569.68,62.62 L570.18,62.94 L570.68,63.26 L571.18,63.59 L571.68,63.92 L572.18,64.25 L572.68,64.59 L573.18,64.92 L573.68,65.26 L574.18,65.61 L574.68,65.95 L575.18,66.30 L575.68,66.65 L576.18,67.00 L576.68,67.36 L577.18,67.72 L577.68,68.08 L578.18,68.45 L578.68,68.81 L579.18,69.19 L579.68,69.56 L580.18,69.94 L580.68,70.32 L581.18,70.70 L581.68,71.09 L582.18,71.48 L582.68,71.87 L583.18,72.27 L583.68,72.66 L584.18,73.07 L584.68,73.47 L585.19,73.88 L585.69,74.29 L586.19,74.71 L586.69,75.13 L587.19,75.55 L587.69,75.98 L588.19,76.41 L588.69,76.84 L589.19,77.27 L589.69,77.71 L590.19,78.16 L590.69,78.61 L591.19,79.06 L591.69,79.51 L592.19,79.97 L592.69,80.43 L593.19,80.90 L593.69,81.37 L594.19,81.84 L594.69,82.32 L595.19,82.80 L595.70,83.28 L596.20,83.77 L596.70,84.27 L597.20,84.76 L597.70,85.26 L598.20,85.77 L598.70,86.28 L599.20,86.79 L599.70,87.31 L600.20,87.83 L600.70,88.36 L601.20,88.89 L601.70,89.42 L602.20,89.96 L602.70,90.50 L603.20,91.05 L603.71,91.60 L604.21,92.16 L604.71,92.72 L605.21,93.29 L605.71,93.86 L606.21,94.43 L606.71,95.01 L607.21,95.59 L607.71,96.18 L608.21,96.77 L608.71,97.37 L609.21,97.97 L609.72,98.58 L610.22,99.19 L610.72,99.81 L611.22,100.43 L611.72,101.05 L612.22,101.69 L612.72,102.32 L613.22,102.96 L613.72,103.61 L614.22,104.26 L614.72,104.91 L615.22,105.57 L615.73,106.24 L616.23,106.91 L616.73,107.58 L617.23,108.26 L617.73,108.94 L618.23,109.63 L618.73,110.33 L619.23,111.03 L619.73,111.73 L620.23,112.44 L620.74,113.16 L621.24,113.88 L621.74,114.60 L622.24,115.33 L622.74,116.07 L623.24,116.81 L623.74,117.55 L624.24,118.30 L624.74,119.06 L625.25,119.82 L625.75,120.58 L626.25,121.35 L626.75,122.13 L627.25,122.91 L627.75,123.69 L628.25,124.48 L628.75,125.27 L629.25,126.07 L629.76,126.88 L630.26,127.69 L630.76,128.50 L631.26,129.32 L631.76,130.14 L632.26,130.97 L632.76,131.80 L633.26,132.64 L633.77,133.48 L634.27,134.33 L634.77,135.18 L635.27,136.03 L635.77,136.89 L636.27,137.76 L636.77,138.62 L637.27,139.50 L637.78,140.37 L638.28,141.25 L638.78,142.14 L639.28,143.02 L639.78,143.92 L640.28,144.81 L640.78,145.71 L641.28,146.61 L641.79,147.52 L642.29,148.43 L642.79,149.34 L643.29,150.26 L643.79,151.18 L644.29,152.10 L644.79,153.02 L645.29,153.95 L645.80,154.88 L646.30,155.82 L646.80,156.75 L647.30,157.69 L647.80,158.63 L648.30,159.57 L648.80,160.52 L649.30,161.47 L649.80,162.41 L650.31,163.36 L650.81,164.31 L651.31,165.27 L651.81,166.22 L652.31,167.17 L652.81,168.13 L653.31,169.09 L653.81,170.04 L654.32,171.00 L654.82,171.96 L655.32,172.91 L655.82,173.87 L656.32,174.83 L656.82,175.78 L657.32,176.74 L657.82,177.69 L658.32,178.65 L658.82,179.60 L659.33,180.55 L659.83,181.50 L660.33,182.45 L660.83,183.40 L661.33,184.34 L661.83,185.28 L662.33,186.22 L662.83,187.16 L663.33,188.09 L663.83,189.02 L664.33,189.95 L664.83,190.88 L665.34,191.80 L665.84,192.71 L666.34,193.63 L666.84,194.54 L667.34,195.44 L667.84,196.34 L668.34,197.23 L668.84,198.12 L669.34,199.01 L669.84,199.89 L670.34,200.76 L670.84,201.63 L671.34,202.50 L671.84,203.35 L672.34,204.20 L672.84,205.05 L673.34,205.88 L673.84,206.71 L674.35,207.54 L674.85,208.36 L675.35,209.16 L675.85,209.97 L676.35,210.76 L676.85,211.55 L677.35,212.33 L677.85,213.10 L678.35,213.86 L678.85,214.62 L679.35,215.36 L679.85,216.10 L680.35,216.83 L680.85,217.55 L681.35,218.26 L681.85,218.97 L682.35,219.66 L682.85,220.34 L683.34,221.02 L683.84,221.69 L684.34,222.34 L684.84,222.99 L685.34,223.63 L685.84,224.26 L686.34,224.87 L686.84,225.48 L687.34,226.08 L687.84,226.67 L688.34,227.25 L688.84,227.82 L689.34,228.38 L689.84,228.93 L690.34,229.47 L690.83,230.00 L691.33,230.52 L691.83,231.03 L692.33,231.53 L692.83,232.02 L693.33,232.51 L693.83,232.98 L694.33,233.44 L694.83,233.89 L695.32,234.33 L695.82,234.77 L696.32,235.19 L696.82,235.61 L697.32,236.01 L697.82,236.41 L698.32,236.79 L698.81,237.17 L699.31,237.54 L699.81,237.90 L700.31,238.25 L700.81,238.59 L701.30,238.92 L701.80,239.25 L702.30,239.56 L702.80,239.87 L703.30,240.17 L703.80,240.46 L704.29,240.75 L704.79,241.02 L705.29,241.29 L705.79,241.55 L706.29,241.80 L706.78,242.05 L707.28,242.29 L707.78,242.52 L708.28,242.74 L708.78,242.96 L709.27,243.17 L709.77,243.38 L710.27,243.57 L710.77,243.77 L711.27,243.95 L711.76,244.13 L712.26,244.31 L712.76,244.47 L713.26,244.64 L713.76,244.79 L714.25,244.94 L714.75,245.09 L715.25,245.23 L715.75,245.37 L716.25,245.50 L716.75,245.63 L717.24,245.75 L717.74,245.87 L718.24,245.98 L718.74,246.09 L719.24,246.20 L719.74,246.30 L720.24,246.40 L720.73,246.49 L721.23,246.58 L721.73,246.67 L722.23,246.75 L722.73,246.83 L723.23,246.91 L723.73,246.98 L724.23,247.05 L724.72,247.12 L725.22,247.19 L725.72,247.25 L726.22,247.31 L726.72,247.37 L727.22,247.42 L727.72,247.47 L728.22,247.52 L728.72,247.57 L729.22,247.62 L729.72,247.66 L730.22,247.71 L730.71,247.75 L731.21,247.79 L731.71,247.82 L732.21,247.86 L732.71,247.89 L733.21,247.92 L733.71,247.95 L734.21,247.98 L734.71,248.01 L735.21,248.04 L735.71,248.06 L736.21,248.09 L736.71,248.11 L737.21,248.13 L737.71,248.16 L738.21,248.18 L738.71,248.19 L739.21,248.21 L739.71,248.23 L740.21,248.25 L740.71,248.26 L741.21,248.28 L741.70,248.29 L742.20,248.30 L742.70,248.32 L743.20,248.33 L743.70,248.34 L744.20,248.35 L744.70,248.36 L745.20,248.37 L745.70,248.38 L746.20,248.39 L746.70,248.40 L747.20,248.41 L747.70,248.42 L748.20,248.42 L748.70,248.43 L749.20,248.44 L749.70,248.44 L750.20,248.45 L750.70,248.46 L751.20,248.46 L751.70,248.47 L752.20,248.47 L752.70,248.48 L753.20,248.48 L753.70,248.48 L754.20,248.49 L754.70,248.49 L755.20,248.50 L755.70,248.50 L756.20,248.50 L756.70,248.51 L757.20,248.51 L757.70,248.51 L758.20,248.51 L758.70,248.52 L759.20,248.52 L759.70,248.52 L760.20,248.52 L760.70,248.53 L761.20,248.53 L761.70,248.53 L762.20,248.53 L762.70,248.53 L763.20,248.54 L763.70,248.54 L764.20,248.54 L764.70,248.54 L765.20,248.54 L765.70,248.54 L766.20,248.55 L766.70,248.55 L767.20,248.55 L767.70,248.55 L768.20,248.55 L768.70,248.55 L769.20,248.55 L769.70,248.56 L770.20,248.56 L770.70,248.56 L771.20,248.56 L771.70,248.56 L772.20,248.56 L772.70,248.56 L773.20,248.56 L773.70,248.56 L774.20,248.56 L774.70,248.57 L775.20,248.57 L775.70,248.57 L776.20,248.57 L776.70,248.57 L777.20,248.57 L777.70,248.57 L778.20,248.57 L778.70,248.57 L779.20,248.57 L779.70,248.58 L780.20,248.58 L780.70,248.58 L781.20,248.58 L781.70,248.58 L782.20,248.58 L782.70,248.58 L783.20,248.58 L783.70,248.58 L784.20,248.58 L784.70,248.58 L785.20,248.59 L785.70,248.59 L786.20,248.59 L786.70,248.59 L787.20,248.59 L787.70,248.59 L788.20,248.59 L788.70,248.59 L789.20,248.59 L789.70,248.59 L790.20,248.59 L790.70,248.60 L791.20,248.60 L791.30,248.60" fill="none" stroke="#f000f0" stroke-width="1.5" stroke-opacity="1.0" stroke-linejoin="round" />
<path d="M458.70,31.71 L459.20,31.71 L459.70,31.71 L460.20,31.71 L460.70,31.72 L461.20,31.72 L461.70,31.73 L462.20,31.74 L462.70,31.75 L463.20,31.76 L463.70,31.77 L464.20,31.79 L464.70,31.80 L465.20,31.82 L465.70,31.84 L466.20,31.86 L466.70,31.88 L467.20,31.90 L467.70,31.93 L468.20,31.95 L468.70,31.98 L469.20,32.01 L469.70,32.04 L470.20,32.07 L470.70,32.10 L471.20,32.14 L471.70,32.17 L472.20,32.21 L472.70,32.25 L473.20,32.28 L473.70,32.33 L474.20,32.37 L474.70,32.41 L475.20,32.45 L475.70,32.50 L476.20,32.55 L476.70,32.60 L477.20,32.64 L477.70,32.70 L478.20,32.75 L478.70,32.80 L479.20,32.86 L479.69,32.91 L480.19,32.97 L480.69,33.03 L481.19,33.09 L481.69,33.15 L482.19,33.21 L482.69,33.27 L483.19,33.34 L483.69,33.40 L484.19,33.47 L484.69,33.54 L485.19,33.60 L485.69,33.67 L486.19,33.75 L486.69,33.82 L487.19,33.89 L487.69,33.97 L488.19,34.04 L488.69,34.12 L489.19,34.20 L489.69,34.28 L490.19,34.36 L490.69,34.44 L491.19,34.53 L491.69,34.61 L492.19,34.69 L492.69,34.78 L493.19,34.87 L493.69,34.96 L494.19,35.05 L494.69,35.14 L495.19,35.23 L495.69,35.33 L496.19,35.42 L496.69,35.52 L497.19,35.61 L497.69,35.71 L498.19,35.81 L498.69,35.91 L499.19,36.01 L499.69,36.12 L500.19,36.22 L500.69,36.32 L501.19,36.43 L501.69,36.54 L502.19,36.65 L502.69,36.76 L503.19,36.87 L503.69,36.98 L504.19,37.09 L504.69,37.21 L505.19,37.32 L505.69,37.44 L506.19,37.56 L506.69,37.67 L507.19,37.79 L507.69,37.92 L508.19,38.04 L508.69,38.16 L509.19,38.29 L509.69,38.41 L510.19,38.54 L510.69,38.67 L511.19,38.80 L511.69,38.93 L512.19,39.06 L512.69,39.19 L513.19,39.33 L513.69,39.46 L514.19,39.60 L514.69,39.74 L515.19,39.87 L515.69,40.01 L516.19,40.16 L516.69,40.30 L517.19,40.44 L517.69,40.59 L518.19,40.73 L518.69,40.88 L519.19,41.03 L519.69,41.18 L520.19,41.33 L520.69,41.48 L521.19,41.64 L521.69,41.79 L522.19,41.95 L522.69,42.11 L523.19,42.27 L523.69,42.43 L524.19,42.59 L524.69,42.75 L525.19,42.92 L525.69,43.08 L526.19,43.25 L526.69,43.42 L527.19,43.59 L527.69,43.76 L528.19,43.93 L528.69,44.10 L529.19,44.28 L529.69,44.45 L530.19,44.63 L530.69,44.81 L531.19,44.99 L531.69,45.17 L532.19,45.36 L532.69,45.54 L533.19,45.73 L533.69,45.92 L534.19,46.11 L534.69,46.30 L535.19,46.49 L535.69,46.68 L536.19,46.88 L536.69,47.07 L537.19,47.27 L537.69,47.47 L538.19,47.67 L538.69,47.88 L539.19,48.08 L539.69,48.29 L540.19,48.49 L540.69,48.70 L541.19,48.91 L541.69,49.13 L542.19,49.34 L542.69,49.56 L543.19,49.77 L543.69,49.99 L544.19,50.21 L544.69,50.44 L545.19,50.66 L545.69,50.89 L546.19,51.11 L546.69,51.34 L547.19,51.57 L547.69,51.81 L548.19,52.04 L548.69,52.28 L549.19,52.52 L549.69,52.76 L550.19,53.00 L550.69,53.24 L551.19,53.49 L551.69,53.74 L552.19,53.99 L552.69,54.24 L553.19,54.49 L553.69,54.75 L554.19,55.00 L554.69,55.26 L555.19,55.52 L555.69,55.79 L556.19,56.05 L556.69,56.32 L557.19,56.59 L557.69,56.86 L558.19,57.14 L558.69,57.41 L559.19,57.69 L559.69,57.97 L560.19,58.25 L560.69,58.54 L561.19,58.82 L561.69,59.11 L562.19,59.41 L562.69,59.70 L563.19,60.00 L563.69,60.29 L564.19,60.59 L564.69,60.90 L565.19,61.20 L565.69,61.51 L566.19,61.82 L566.69,62.13 L567.19,62.45 L567.69,62.77 L568.19,63.09 L568.69,63.41 L569.19,63.73 L569.69,64.06 L570.19,64.39 L570.69,64.73 L571.19,65.06 L571.69,65.40 L572.19,65.74 L572.69,66.09 L573.19,66.43 L573.69,66.78 L574.19,67.13 L574.69,67.49 L575.19,67.85 L575.69,68.21 L576.19,68.57 L576.69,68.94 L577.19,69.31 L577.70,69.68 L578.20,70.06 L578.70,70.43 L579.20,70.82 L579.70,71.20 L580.20,71.59 L580.70,71.98 L581.20,72.37 L581.70,72.77 L582.20,73.17 L582.70,73.58 L583.20,73.98 L583.70,74.39 L584.20,74.81 L584.70,75.22 L585.20,75.64 L585.70,76.07 L586.20,76.50 L586.70,76.93 L587.20,77.36 L587.70,77.80 L588.20,78.24 L588.70,78.68 L589.20,79.13 L589.70,79.59 L590.20,80.04 L590.70,80.50 L591.20,80.96 L591.70,81.43 L592.20,81.90 L592.71,82.38 L593.21,82.86 L593.71,83.34 L594.21,83.82 L594.71,84.31 L595.21,84.81 L595.71,85.31 L596.21,85.81 L596.71,86.31 L597.21,86.83 L597.71,87.34 L598.21,87.86 L598.71,88.38 L599.21,88.91 L599.71,89.44 L600.21,89.97 L600.71,90.51 L601.21,91.06 L601.71,91.61 L602.21,92.16 L602.71,92.72 L603.22,93.28 L603.72,93.84 L604.22,94.41 L604.72,94.99 L605.22,95.57 L605.72,96.15 L606.22,96.74 L606.72,97.33 L607.22,97.93 L607.72,98.53 L608.22,99.14 L608.72,99.75 L609.22,100.37 L609.72,100.99 L610.22,101.61 L610.72,102.24 L611.22,102.88 L611.72,103.52 L612.23,104.16 L612.73,104.81 L613.23,105.47 L613.73,106.13 L614.23,106.79 L614.73,107.46 L615.23,108.14 L615.73,108.82 L616.23,109.50 L616.73,110.19 L617.23,110.88 L617.73,111.58 L618.23,112.28 L618.73,112.99 L619.24,113.71 L619.74,114.42 L620.24,115.15 L620.74,115.88 L621.24,116.61 L621.74,117.35 L622.24,118.09 L622.74,118.84 L623.24,119.59 L623.74,120.35 L624.24,121.11 L624.74,121.88 L625.24,122.66 L625.74,123.43 L626.25,124.22 L626.75,125.00 L627.25,125.80 L627.75,126.59 L628.25,127.40 L628.75,128.20 L629.25,129.01 L629.75,129.83 L630.25,130.65 L630.75,131.48 L631.25,132.31 L631.75,133.14 L632.25,133.98 L632.76,134.82 L633.26,135.67 L633.76,136.53 L634.26,137.38 L634.76,138.24 L635.26,139.11 L635.76,139.98 L636.26,140.85 L636.76,141.73 L637.26,142.61 L637.76,143.50 L638.26,144.39 L638.77,145.28 L639.27,146.18 L639.77,147.08 L640.27,147.98 L640.77,148.89 L641.27,149.80 L641.77,150.71 L642.27,151.63 L642.77,152.55 L643.27,153.47 L643.77,154.40 L644.27,155.33 L644.77,156.26 L645.28,157.19 L645.78,158.13 L646.28,159.07 L646.78,160.01 L647.28,160.95 L647.78,161.90 L648.28,162.84 L648.78,163.79 L649.28,164.74 L649.78,165.69 L650.28,166.64 L650.78,167.60 L651.28,168.55 L651.78,169.51 L652.29,170.46 L652.79,171.42 L653.29,172.38 L653.79,173.33 L654.29,174.29 L654.79,175.25 L655.29,176.20 L655.79,177.16 L656.29,178.12 L656.79,179.07 L657.29,180.02 L657.79,180.98 L658.29,181.93 L658.79,182.88 L659.29,183.83 L659.79,184.77 L660.29,185.71 L660.80,186.66 L661.30,187.60 L661.80,188.53 L662.30,189.46 L662.80,190.40 L663.30,191.32 L663.80,192.25 L664.30,193.17 L664.80,194.08 L665.30,194.99 L665.80,195.90 L666.30,196.81 L666.80,197.71 L667.30,198.60 L667.80,199.49 L668.30,200.37 L668.80,201.25 L669.30,202.12 L669.80,202.99 L670.30,203.85 L670.80,204.71 L671.30,205.56 L671.80,206.40 L672.30,207.24 L672.80,208.06 L673.30,208.89 L673.80,209.70 L674.30,210.51 L674.80,211.31 L675.30,212.10 L675.80,212.89 L676.30,213.66 L676.80,214.43 L677.30,215.19 L677.80,215.94 L678.30,216.69 L678.80,217.42 L679.30,218.15 L679.80,218.86 L680.30,219.57 L680.80,220.27 L681.30,220.96 L681.80,221.64 L682.30,222.31 L682.80,222.97 L683.30,223.63 L683.80,224.27 L684.30,224.90 L684.80,225.52 L685.30,226.14 L685.80,226.74 L686.30,227.33 L686.80,227.92 L687.30,228.49 L687.79,229.05 L688.29,229.61 L688.79,230.15 L689.29,230.68 L689.79,231.20 L690.29,231.72 L690.79,232.22 L691.29,232.71 L691.79,233.20 L692.29,233.67 L692.79,234.13 L693.29,234.58 L693.78,235.03 L694.28,235.46 L694.78,235.88 L695.28,236.30 L695.78,236.70 L696.28,237.09 L696.78,237.48 L697.28,237.85 L697.77,238.22 L698.27,238.58 L698.77,238.93 L699.27,239.26 L699.77,239.59 L700.27,239.92 L700.77,240.23 L701.27,240.53 L701.76,240.83 L702.26,241.11 L702.76,241.39 L703.26,241.66 L703.76,241.93 L704.26,242.18 L704.76,242.43 L705.25,242.67 L705.75,242.90 L706.25,243.13 L706.75,243.34 L707.25,243.56 L707.75,243.76 L708.25,243.96 L708.74,244.15 L709.24,244.33 L709.74,244.51 L710.24,244.68 L710.74,244.85 L711.24,245.01 L711.74,245.16 L712.24,245.31 L712.73,245.46 L713.23,245.59 L713.73,245.73 L714.23,245.86 L714.73,245.98 L715.23,246.10 L715.73,246.21 L716.23,246.32 L716.73,246.43 L717.22,246.53 L717.72,246.63 L718.22,246.72 L718.72,246.81 L719.22,246.89 L719.72,246.98 L720.22,247.05 L720.72,247.13 L721.22,247.20 L721.72,247.27 L722.22,247.34 L722.71,247.40 L723.21,247.46 L723.71,247.52 L724.21,247.57 L724.71,247.63 L725.21,247.68 L725.71,247.72 L726.21,247.77 L726.71,247.81 L727.21,247.86 L727.71,247.89 L728.21,247.93 L728.71,247.97 L729.21,248.00 L729.71,248.04 L730.21,248.07 L730.71,248.10 L731.21,248.12 L731.71,248.15 L732.21,248.18 L732.71,248.20 L733.21,248.22 L733.70,248.24 L734.20,248.26 L734.70,248.28 L735.20,248.30 L735.70,248.32 L736.20,248.34 L736.70,248.35 L737.20,248.37 L737.70,248.38 L738.20,248.39 L738.70,248.41 L739.20,248.42 L739.70,248.43 L740.20,248.44 L740.70,248.45 L741.20,248.46 L741.70,248.47 L742.20,248.48 L742.70,248.49 L743.20,248.49 L743.70,248.50 L744.20,248.51 L744.70,248.51 L745.20,248.52 L745.70,248.53 L746.20,248.53 L746.70,248.54 L747.20,248.54 L747.70,248.55 L748.20,248.55 L748.70,248.55 L749.20,248.56 L749.70,248.56 L750.20,248.57 L750.70,248.57 L751.20,248.57 L751.70,248.58 L752.20,248.58 L752.70,248.58 L753.20,248.58 L753.70,248.59 L754.20,248.59 L754.70,248.59 L755.20,248.59 L755.70,248.59 L756.20,248.60 L756.70,248.60 L757.20,248.60 L757.70,248.60 L758.20,248.60 L758.70,248.60 L759.20,248.61 L759.70,248.61 L760.20,248.61 L760.70,248.61 L761.20,248.61 L761.70,248.61 L762.20,248.61 L762.70,248.61 L763.20,248.62 L763.70,248.62 L764.20,248.62 L764.70,248.62 L765.20,248.62 L765.70,248.62 L766.20,248.62 L766.70,248.62 L767.20,248.62 L767.70,248.62 L768.20,248.62 L768.70,248.62 L769.20,248.63 L769.70,248.63 L770.20,248.63 L770.70,248.63 L771.20,248.63 L771.70,248.63 L772.20,248.63 L772.70,248.63 L773.20,248.63 L773.70,248.63 L774.20,248.63 L774.70,248.63 L775.20,248.63 L775.70,248.64 L776.20,248.64 L776.70,248.64 L777.20,248.64 L777.70,248.64 L778.20,248.64 L778.70,248.64 L779.20,248.64 L779.70,248.64 L780.20,248.64 L780.70,248.64 L781.20,248.64 L781.70,248.64 L782.20,248.64 L782.70,248.65 L783.20,248.65 L783.70,248.65 L784.20,248.65 L784.70,248.65 L785.20,248.65 L785.70,248.65 L786.20,248.65 L786.70,248.65 L787.20,248.65 L787.70,248.65 L788.20,248.65 L788.70,248.65 L789.20,248.65 L789.70,248.66 L789.80,248.66" fill="none" stroke="#ff10e0" stroke-width="1.5" stroke-opacity="1.0" stroke-linejoin="round" />
<path d="M460.20,31.29 L460.70,31.31 L461.19,31.34 L461.69,31.36 L462.19,31.39 L462.69,31.42 L463.19,31.46 L463.69,31.49 L464.19,31.53 L464.69,31.57 L465.19,31.61 L465.69,31.66 L466.19,31.70 L466.69,31.75 L467.19,31.80 L467.69,31.85 L468.19,31.90 L468.69,31.96 L469.19,32.02 L469.69,32.07 L470.19,32.14 L470.69,32.20 L471.18,32.26 L471.68,32.33 L472.18,32.40 L472.68,32.47 L473.18,32.54 L473.68,32.61 L474.18,32.69 L474.68,32.76 L475.18,32.84 L475.68,32.92 L476.18,33.00 L476.68,33.08 L477.18,33.17 L477.68,33.25 L478.18,33.34 L478.68,33.43 L479.18,33.52 L479.68,33.61 L480.18,33.71 L480.68,33.80 L481.18,33.90 L481.67,34.00 L482.17,34.10 L482.67,34.20 L483.17,34.30 L483.67,34.40 L484.17,34.51 L484.67,34.62 L485.17,34.72 L485.67,34.83 L486.17,34.95 L486.67,35.06 L487.17,35.17 L487.67,35.29 L488.17,35.40 L488.67,35.52 L489.17,35.64 L489.67,35.76 L490.17,35.88 L490.67,36.00 L491.17,36.13 L491.67,36.25 L492.17,36.38 L492.67,36.50 L493.17,36.63 L493.66,36.76 L494.16,36.89 L494.66,37.03 L495.16,37.16 L495.66,37.29 L496.16,37.43 L496.66,37.57 L497.16,37.71 L497.66,37.84 L498.16,37.99 L498.66,38.13 L499.16,38.27 L499.66,38.41 L500.16,38.56 L500.66,38.70 L501.16,38.85 L501.66,39.00 L502.16,39.15 L502.66,39.30 L503.16,39.45 L503.66,39.60 L504.16,39.76 L504.66,39.91 L505.16,40.07 L505.66,40.23 L506.16,40.38 L506.66,40.54 L507.16,40.70 L507.66,40.86 L508.16,41.03 L508.66,41.19 L509.16,41.35 L509.66,41.52 L510.15,41.69 L510.65,41.85 L511.15,42.02 L511.65,42.19 L512.15,42.36 L512.65,42.53 L513.15,42.71 L513.65,42.88 L514.15,43.05 L514.65,43.23 L515.15,43.41 L515.65,43.58 L516.15,43.76 L516.65,43.94 L517.15,44.12 L517.65,44.30 L518.15,44.49 L518.65,44.67 L519.15,44.85 L519.65,45.04 L520.15,45.23 L520.65,45.41 L521.15,45.60 L521.65,45.79 L522.15,45.98 L522.65,46.17 L523.15,46.37 L523.65,46.56 L524.15,46.75 L524.65,46.95 L525.15,47.15 L525.65,47.34 L526.15,47.54 L526.65,47.74 L527.15,47.94 L527.65,48.14 L528.15,48.35 L528.65,48.55 L529.15,48.75 L529.65,48.96 L530.15,49.17 L530.65,49.37 L531.15,49.58 L531.65,49.79 L532.15,50.00 L532.65,50.21 L533.15,50.43 L533.65,50.64 L534.15,50.86 L534.65,51.07 L535.15,51.29 L535.65,51.51 L536.15,51.73 L536.65,51.95 L537.15,52.17 L537.65,52.39 L538.15,52.61 L538.65,52.84 L539.15,53.06 L539.65,53.29 L540.15,53.52 L540.65,53.75 L541.15,53.98 L541.65,54.21 L542.15,54.44 L542.65,54.67 L543.15,54.91 L543.65,55.14 L544.15,55.38 L544.65,55.62 L545.15,55.86 L545.65,56.10 L546.15,56.34 L546.65,56.58 L547.15,56.82 L547.65,57.07 L548.15,57.31 L548.65,57.56 L549.15,57.81 L549.65,58.06 L550.15,58.31 L550.65,58.56 L551.15,58.81 L551.65,59.07 L552.15,59.32 L552.65,59.58 L553.15,59.84 L553.65,60.10 L554.15,60.36 L554.65,60.62 L555.15,60.89 L555.65,61.15 L556.15,61.42 L556.65,61.68 L557.15,61.95 L557.65,62.22 L558.15,62.50 L558.65,62.77 L559.15,63.04 L559.65,63.32 L560.15,63.60 L560.65,63.87 L561.15,64.15 L561.65,64.44 L562.15,64.72 L562.65,65.00 L563.15,65.29 L563.65,65.58 L564.15,65.87 L564.65,66.16 L565.15,66.45 L565.65,66.74 L566.15,67.04 L566.65,67.34 L567.15,67.63 L567.65,67.93 L568.15,68.24 L568.65,68.54 L569.15,68.84 L569.65,69.15 L570.15,69.46 L570.65,69.77 L571.15,70.08 L571.66,70.40 L572.16,70.71 L572.66,71.03 L573.16,71.35 L573.66,71.67 L574.16,71.99 L574.66,72.31 L575.16,72.64 L575.66,72.97 L576.16,73.30 L576.66,73.63 L577.16,73.97 L577.66,74.30 L578.16,74.64 L578.66,74.98 L579.16,75.32 L579.66,75.66 L580.16,76.01 L580.66,76.36 L581.16,76.71 L581.66,77.06 L582.16,77.42 L582.66,77.77 L583.16,78.13 L583.66,78.49 L584.16,78.86 L584.67,79.22 L585.17,79.59 L585.67,79.96 L586.17,80.33 L586.67,80.71 L587.17,81.08 L587.67,81.46 L588.17,81.84 L588.67,82.23 L589.17,82.61 L589.67,83.00 L590.17,83.40 L590.67,83.79 L591.17,84.19 L591.67,84.59 L592.17,84.99 L592.67,85.39 L593.18,85.80 L593.68,86.21 L594.18,86.62 L594.68,87.04 L595.18,87.46 L595.68,87.88 L596.18,88.30 L596.68,88.73 L597.18,89.16 L597.68,89.59 L598.18,90.03 L598.68,90.47 L599.18,90.91 L599.68,91.35 L600.19,91.80 L600.69,92.25 L601.19,92.70 L601.69,93.16 L602.19,93.62 L602.69,94.08 L603.19,94.55 L603.69,95.02 L604.19,95.49 L604.69,95.97 L605.19,96.45 L605.70,96.93 L606.20,97.42 L606.70,97.91 L607.20,98.40 L607.70,98.90 L608.20,99.40 L608.70,99.91 L609.20,100.41 L609.70,100.93 L610.20,101.44 L610.71,101.96 L611.21,102.48 L611.71,103.01 L612.21,103.54 L612.71,104.07 L613.21,104.61 L613.71,105.15 L614.21,105.70 L614.71,106.25 L615.22,106.80 L615.72,107.36 L616.22,107.92 L616.72,108.49 L617.22,109.06 L617.72,109.63 L618.22,110.21 L618.72,110.79 L619.23,111.38 L619.73,111.97 L620.23,112.56 L620.73,113.16 L621.23,113.77 L621.73,114.38 L622.23,114.99 L622.74,115.61 L623.24,116.23 L623.74,116.85 L624.24,117.48 L624.74,118.12 L625.24,118.76 L625.74,119.40 L626.25,120.05 L626.75,120.70 L627.25,121.36 L627.75,122.02 L628.25,122.69 L628.75,123.36 L629.25,124.04 L629.76,124.72 L630.26,125.40 L630.76,126.09 L631.26,126.79 L631.76,127.49 L632.26,128.19 L632.77,128.90 L633.27,129.62 L633.77,130.34 L634.27,131.06 L634.77,131.79 L635.27,132.52 L635.78,133.26 L636.28,134.00 L636.78,134.75 L637.28,135.50 L637.78,136.26 L638.29,137.02 L638.79,137.79 L639.29,138.56 L639.79,139.33 L640.29,140.11 L640.79,140.90 L641.30,141.69 L641.80,142.48 L642.30,143.28 L642.80,144.08 L643.30,144.89 L643.81,145.70 L644.31,146.52 L644.81,147.34 L645.31,148.16 L645.81,148.99 L646.31,149.83 L646.82,150.67 L647.32,151.51 L647.82,152.35 L648.32,153.20 L648.82,154.06 L649.33,154.91 L649.83,155.78 L650.33,156.64 L650.83,157.51 L651.33,158.38 L651.84,159.26 L652.34,160.14 L652.84,161.02 L653.34,161.91 L653.84,162.79 L654.34,163.69 L654.85,164.58 L655.35,165.48 L655.85,166.38 L656.35,167.28 L656.85,168.19 L657.36,169.09 L657.86,170.00 L658.36,170.91 L658.86,171.83 L659.36,172.74 L659.86,173.66 L660.37,174.58 L660.87,175.50 L661.37,176.42 L661.87,177.34 L662.37,178.26 L662.87,179.18 L663.38,180.11 L663.88,181.03 L664.38,181.96 L664.88,182.88 L665.38,183.80 L665.88,184.73 L666.39,185.65 L666.89,186.57 L667.39,187.49 L667.89,188.41 L668.39,189.33 L668.89,190.25 L669.39,191.16 L669.90,192.07 L670.40,192.98 L670.90,193.89 L671.40,194.80 L671.90,195.70 L672.40,196.60 L672.90,197.50 L673.40,198.39 L673.91,199.28 L674.41,200.16 L674.91,201.04 L675.41,201.92 L675.91,202.79 L676.41,203.66 L676.91,204.52 L677.41,205.38 L677.91,206.23 L678.41,207.07 L678.91,207.91 L679.41,208.75 L679.92,209.57 L680.42,210.39 L680.92,211.21 L681.42,212.01 L681.92,212.81 L682.42,213.61 L682.92,214.39 L683.42,215.17 L683.92,215.94 L684.42,216.70 L684.92,217.45 L685.42,218.19 L685.92,218.93 L686.42,219.65 L686.92,220.37 L687.42,221.08 L687.92,221.78 L688.42,222.47 L688.92,223.15 L689.42,223.82 L689.92,224.48 L690.42,225.13 L690.91,225.77 L691.41,226.40 L691.91,227.02 L692.41,227.63 L692.91,228.23 L693.41,228.82 L693.91,229.40 L694.41,229.97 L694.91,230.53 L695.40,231.08 L695.90,231.61 L696.40,232.14 L696.90,232.65 L697.40,233.16 L697.90,233.65 L698.39,234.14 L698.89,234.61 L699.39,235.07 L699.89,235.52 L700.39,235.96 L700.88,236.39 L701.38,236.81 L701.88,237.22 L702.38,237.62 L702.87,238.01 L703.37,238.39 L703.87,238.76 L704.37,239.12 L704.86,239.47 L705.36,239.81 L705.86,240.14 L706.35,240.46 L706.85,240.77 L707.35,241.07 L707.84,241.36 L708.34,241.65 L708.84,241.92 L709.33,242.19 L709.83,242.44 L710.33,242.69 L710.82,242.94 L711.32,243.17 L711.82,243.39 L712.31,243.61 L712.81,243.82 L713.31,244.02 L713.80,244.22 L714.30,244.41 L714.80,244.59 L715.29,244.77 L715.79,244.93 L716.29,245.10 L716.78,245.25 L717.28,245.40 L717.78,245.54 L718.28,245.68 L718.77,245.82 L719.27,245.94 L719.77,246.06 L720.26,246.18 L720.76,246.29 L721.26,246.40 L721.76,246.50 L722.25,246.60 L722.75,246.70 L723.25,246.78 L723.75,246.87 L724.25,246.95 L724.74,247.03 L725.24,247.10 L725.74,247.18 L726.24,247.24 L726.74,247.31 L727.23,247.37 L727.73,247.43 L728.23,247.48 L728.73,247.54 L729.23,247.59 L729.73,247.63 L730.23,247.68 L730.72,247.72 L731.22,247.76 L731.72,247.80 L732.22,247.84 L732.72,247.87 L733.22,247.91 L733.72,247.94 L734.22,247.97 L734.72,248.00 L735.21,248.02 L735.71,248.05 L736.21,248.07 L736.71,248.09 L737.21,248.12 L737.71,248.14 L738.21,248.15 L738.71,248.17 L739.21,248.19 L739.71,248.20 L740.21,248.22 L740.71,248.23 L741.21,248.25 L741.71,248.26 L742.21,248.27 L742.71,248.28 L743.21,248.29 L743.71,248.30 L744.20,248.31 L744.70,248.32 L745.20,248.33 L745.70,248.34 L746.20,248.34 L746.70,248.35 L747.20,248.36 L747.70,248.36 L748.20,248.37 L748.70,248.37 L749.20,248.38 L749.70,248.38 L750.20,248.39 L750.70,248.39 L751.20,248.40 L751.70,248.40 L752.20,248.40 L752.70,248.41 L753.20,248.41 L753.70,248.41 L754.20,248.42 L754.70,248.42 L755.20,248.42 L755.70,248.43 L756.20,248.43 L756.70,248.43 L757.20,248.43 L757.70,248.43 L758.20,248.44 L758.70,248.44 L759.20,248.44 L759.70,248.44 L760.20,248.44 L760.70,248.44 L761.20,248.45 L761.70,248.45 L762.20,248.45 L762.70,248.45 L763.20,248.45 L763.70,248.45 L764.20,248.45 L764.70,248.46 L765.20,248.46 L765.70,248.46 L766.20,248.46 L766.70,248.46 L767.20,248.46 L767.70,248.46 L768.20,248.46 L768.70,248.46 L769.20,248.47 L769.70,248.47 L770.20,248.47 L770.70,248.47 L771.20,248.47 L771.70,248.47 L772.20,248.47 L772.70,248.47 L773.20,248.47 L773.70,248.48 L774.20,248.48 L774.70,248.48 L775.20,248.48 L775.70,248.48 L776.20,248.48 L776.70,248.48 L777.20,248.48 L777.70,248.48 L778.20,248.48 L778.70,248.49 L779.20,248.49 L779.70,248.49 L780.20,248.49 L780.70,248.49 L781.20,248.49 L781.70,248.49 L782.20,248.49 L782.70,248.49 L783.20,248.50 L783.70,248.50 L784.20,248.50 L784.70,248.50 L785.20,248.50 L785.70,248.50 L786.20,248.50 L786.70,248.50 L787.20,248.50 L787.70,248.51 L788.20,248.51 L788.70,248.51 L789.20,248.51 L789.70,248.51 L790.20,248.51 L790.70,248.51 L791.20,248.51 L791.30,248.51" fill="none" stroke="#ee0022" stroke-width="1.8" stroke-opacity="1.0" stroke-linejoin="round" />
<path d="M461.00,31.02 L461.49,31.04 L461.99,31.06 L462.49,31.09 L462.99,31.11 L463.49,31.14 L463.99,31.18 L464.49,31.21 L464.99,31.25 L465.49,31.28 L465.99,31.32 L466.49,31.37 L466.99,31.41 L467.49,31.46 L467.99,31.51 L468.49,31.56 L468.99,31.61 L469.48,31.66 L469.98,31.72 L470.48,31.78 L470.98,31.84 L471.48,31.90 L471.98,31.96 L472.48,32.03 L472.98,32.10 L473.48,32.16 L473.98,32.24 L474.48,32.31 L474.98,32.38 L475.48,32.46 L475.98,32.54 L476.48,32.62 L476.98,32.70 L477.48,32.78 L477.97,32.86 L478.47,32.95 L478.97,33.04 L479.47,33.13 L479.97,33.22 L480.47,33.31 L480.97,33.40 L481.47,33.50 L481.97,33.60 L482.47,33.69 L482.97,33.79 L483.47,33.89 L483.97,34.00 L484.47,34.10 L484.97,34.21 L485.47,34.31 L485.97,34.42 L486.47,34.53 L486.96,34.64 L487.46,34.76 L487.96,34.87 L488.46,34.98 L488.96,35.10 L489.46,35.22 L489.96,35.34 L490.46,35.46 L490.96,35.58 L491.46,35.70 L491.96,35.83 L492.46,35.95 L492.96,36.08 L493.46,36.21 L493.96,36.34 L494.46,36.47 L494.96,36.60 L495.46,36.73 L495.96,36.87 L496.46,37.00 L496.96,37.14 L497.46,37.28 L497.95,37.41 L498.45,37.55 L498.95,37.70 L499.45,37.84 L499.95,37.98 L500.45,38.13 L500.95,38.27 L501.45,38.42 L501.95,38.57 L502.45,38.72 L502.95,38.87 L503.45,39.02 L503.95,39.17 L504.45,39.32 L504.95,39.48 L505.45,39.63 L505.95,39.79 L506.45,39.95 L506.95,40.11 L507.45,40.27 L507.95,40.43 L508.45,40.59 L508.95,40.75 L509.45,40.92 L509.95,41.08 L510.45,41.25 L510.95,41.41 L511.44,41.58 L511.94,41.75 L512.44,41.92 L512.94,42.09 L513.44,42.26 L513.94,42.44 L514.44,42.61 L514.94,42.79 L515.44,42.96 L515.94,43.14 L516.44,43.32 L516.94,43.50 L517.44,43.68 L517.94,43.86 L518.44,44.04 L518.94,44.22 L519.44,44.41 L519.94,44.59 L520.44,44.78 L520.94,44.97 L521.44,45.15 L521.94,45.34 L522.44,45.53 L522.94,45.72 L523.44,45.92 L523.94,46.11 L524.44,46.30 L524.94,46.50 L525.44,46.70 L525.94,46.89 L526.44,47.09 L526.94,47.29 L527.44,47.49 L527.94,47.69 L528.44,47.89 L528.94,48.10 L529.44,48.30 L529.94,48.50 L530.44,48.71 L530.94,48.92 L531.44,49.13 L531.94,49.33 L532.44,49.54 L532.94,49.76 L533.44,49.97 L533.94,50.18 L534.44,50.39 L534.94,50.61 L535.44,50.83 L535.94,51.04 L536.44,51.26 L536.94,51.48 L537.44,51.70 L537.94,51.92 L538.44,52.15 L538.94,52.37 L539.43,52.59 L539.93,52.82 L540.43,53.05 L540.93,53.27 L541.43,53.50 L541.93,53.73 L542.43,53.96 L542.93,54.20 L543.43,54.43 L543.93,54.66 L544.43,54.90 L544.93,55.14 L545.43,55.37 L545.93,55.61 L546.43,55.85 L546.93,56.09 L547.43,56.34 L547.93,56.58 L548.43,56.82 L548.93,57.07 L549.43,57.32 L549.93,57.56 L550.43,57.81 L550.94,58.06 L551.44,58.32 L551.94,58.57 L552.44,58.82 L552.94,59.08 L553.44,59.34 L553.94,59.59 L554.44,59.85 L554.94,60.11 L555.44,60.38 L555.94,60.64 L556.44,60.90 L556.94,61.17 L557.44,61.44 L557.94,61.71 L558.44,61.98 L558.94,62.25 L559.44,62.52 L559.94,62.79 L560.44,63.07 L560.94,63.35 L561.44,63.62 L561.94,63.90 L562.44,64.18 L562.94,64.47 L563.44,64.75 L563.94,65.04 L564.44,65.32 L564.94,65.61 L565.44,65.90 L565.94,66.19 L566.44,66.49 L566.94,66.78 L567.44,67.08 L567.94,67.37 L568.44,67.67 L568.94,67.97 L569.44,68.28 L569.94,68.58 L570.44,68.89 L570.94,69.20 L571.44,69.50 L571.94,69.82 L572.44,70.13 L572.94,70.44 L573.44,70.76 L573.94,71.08 L574.44,71.40 L574.94,71.72 L575.44,72.04 L575.95,72.37 L576.45,72.70 L576.95,73.02 L577.45,73.36 L577.95,73.69 L578.45,74.02 L578.95,74.36 L579.45,74.70 L579.95,75.04 L580.45,75.38 L580.95,75.73 L581.45,76.07 L581.95,76.42 L582.45,76.78 L582.95,77.13 L583.45,77.48 L583.95,77.84 L584.45,78.20 L584.95,78.56 L585.45,78.93 L585.95,79.29 L586.45,79.66 L586.96,80.03 L587.46,80.41 L587.96,80.78 L588.46,81.16 L588.96,81.54 L589.46,81.93 L589.96,82.31 L590.46,82.70 L590.96,83.09 L591.46,83.48 L591.96,83.88 L592.46,84.28 L592.96,84.68 L593.46,85.08 L593.96,85.49 L594.47,85.90 L594.97,86.31 L595.47,86.72 L595.97,87.14 L596.47,87.56 L596.97,87.98 L597.47,88.41 L597.97,88.84 L598.47,89.27 L598.97,89.70 L599.47,90.14 L599.97,90.58 L600.48,91.02 L600.98,91.47 L601.48,91.92 L601.98,92.37 L602.48,92.83 L602.98,93.29 L603.48,93.75 L603.98,94.22 L604.48,94.69 L604.98,95.16 L605.49,95.63 L605.99,96.11 L606.49,96.59 L606.99,97.08 L607.49,97.57 L607.99,98.06 L608.49,98.56 L608.99,99.06 L609.49,99.56 L610.00,100.07 L610.50,100.58 L611.00,101.09 L611.50,101.61 L612.00,102.13 L612.50,102.66 L613.00,103.19 L613.50,103.72 L614.01,104.26 L614.51,104.80 L615.01,105.35 L615.51,105.90 L616.01,106.45 L616.51,107.01 L617.01,107.57 L617.51,108.13 L618.02,108.70 L618.52,109.28 L619.02,109.86 L619.52,110.44 L620.02,111.02 L620.52,111.62 L621.03,112.21 L621.53,112.81 L622.03,113.41 L622.53,114.02 L623.03,114.63 L623.53,115.25 L624.03,115.87 L624.54,116.50 L625.04,117.13 L625.54,117.77 L626.04,118.41 L626.54,119.05 L627.05,119.70 L627.55,120.35 L628.05,121.01 L628.55,121.67 L629.05,122.34 L629.55,123.01 L630.06,123.69 L630.56,124.37 L631.06,125.06 L631.56,125.75 L632.06,126.45 L632.57,127.15 L633.07,127.85 L633.57,128.56 L634.07,129.28 L634.57,130.00 L635.07,130.72 L635.58,131.45 L636.08,132.19 L636.58,132.93 L637.08,133.67 L637.58,134.42 L638.09,135.17 L638.59,135.93 L639.09,136.69 L639.59,137.46 L640.10,138.23 L640.60,139.01 L641.10,139.79 L641.60,140.58 L642.10,141.37 L642.61,142.17 L643.11,142.97 L643.61,143.77 L644.11,144.58 L644.61,145.40 L645.12,146.21 L645.62,147.04 L646.12,147.86 L646.62,148.70 L647.13,149.53 L647.63,150.37 L648.13,151.21 L648.63,152.06 L649.13,152.91 L649.64,153.77 L650.14,154.63 L650.64,155.49 L651.14,156.36 L651.65,157.23 L652.15,158.11 L652.65,158.98 L653.15,159.86 L653.65,160.75 L654.16,161.64 L654.66,162.53 L655.16,163.42 L655.66,164.32 L656.17,165.22 L656.67,166.12 L657.17,167.02 L657.67,167.93 L658.17,168.84 L658.68,169.75 L659.18,170.66 L659.68,171.57 L660.18,172.49 L660.68,173.41 L661.19,174.33 L661.69,175.25 L662.19,176.17 L662.69,177.09 L663.19,178.01 L663.70,178.94 L664.20,179.86 L664.70,180.78 L665.20,181.71 L665.70,182.63 L666.21,183.56 L666.71,184.48 L667.21,185.40 L667.71,186.32 L668.21,187.24 L668.72,188.16 L669.22,189.08 L669.72,189.99 L670.22,190.91 L670.72,191.82 L671.22,192.73 L671.73,193.63 L672.23,194.54 L672.73,195.44 L673.23,196.34 L673.73,197.23 L674.23,198.12 L674.73,199.01 L675.24,199.89 L675.74,200.77 L676.24,201.64 L676.74,202.51 L677.24,203.37 L677.74,204.23 L678.24,205.08 L678.74,205.93 L679.24,206.77 L679.74,207.61 L680.25,208.44 L680.75,209.26 L681.25,210.08 L681.75,210.89 L682.25,211.69 L682.75,212.49 L683.25,213.27 L683.75,214.05 L684.25,214.83 L684.75,215.59 L685.25,216.35 L685.75,217.10 L686.25,217.84 L686.75,218.57 L687.25,219.29 L687.75,220.00 L688.25,220.70 L688.75,221.40 L689.25,222.08 L689.75,222.76 L690.25,223.43 L690.75,224.08 L691.25,224.73 L691.75,225.37 L692.25,225.99 L692.75,226.61 L693.24,227.22 L693.74,227.81 L694.24,228.40 L694.74,228.97 L695.24,229.54 L695.74,230.09 L696.24,230.64 L696.73,231.17 L697.23,231.70 L697.73,232.21 L698.23,232.71 L698.73,233.20 L699.23,233.69 L699.72,234.16 L700.22,234.62 L700.72,235.07 L701.22,235.51 L701.71,235.94 L702.21,236.36 L702.71,236.77 L703.20,237.17 L703.70,237.56 L704.20,237.93 L704.70,238.30 L705.19,238.66 L705.69,239.02 L706.19,239.36 L706.68,239.69 L707.18,240.01 L707.68,240.32 L708.17,240.63 L708.67,240.92 L709.17,241.21 L709.66,241.49 L710.16,241.76 L710.65,242.02 L711.15,242.27 L711.65,242.52 L712.14,242.75 L712.64,242.98 L713.14,243.21 L713.63,243.42 L714.13,243.63 L714.62,243.83 L715.12,244.02 L715.62,244.21 L716.11,244.39 L716.61,244.56 L717.11,244.73 L717.60,244.89 L718.10,245.05 L718.60,245.20 L719.09,245.34 L719.59,245.48 L720.09,245.61 L720.58,245.74 L721.08,245.86 L721.58,245.98 L722.07,246.09 L722.57,246.20 L723.07,246.31 L723.57,246.41 L724.06,246.50 L724.56,246.59 L725.06,246.68 L725.55,246.77 L726.05,246.85 L726.55,246.92 L727.05,247.00 L727.55,247.07 L728.04,247.14 L728.54,247.20 L729.04,247.26 L729.54,247.32 L730.04,247.37 L730.53,247.43 L731.03,247.48 L731.53,247.53 L732.03,247.57 L732.53,247.62 L733.03,247.66 L733.53,247.70 L734.02,247.73 L734.52,247.77 L735.02,247.80 L735.52,247.84 L736.02,247.87 L736.52,247.90 L737.02,247.92 L737.52,247.95 L738.02,247.98 L738.52,248.00 L739.01,248.02 L739.51,248.04 L740.01,248.06 L740.51,248.08 L741.01,248.10 L741.51,248.12 L742.01,248.13 L742.51,248.15 L743.01,248.16 L743.51,248.18 L744.01,248.19 L744.51,248.20 L745.01,248.21 L745.51,248.22 L746.01,248.24 L746.51,248.25 L747.01,248.25 L747.51,248.26 L748.00,248.27 L748.50,248.28 L749.00,248.29 L749.50,248.29 L750.00,248.30 L750.50,248.31 L751.00,248.31 L751.50,248.32 L752.00,248.32 L752.50,248.33 L753.00,248.33 L753.50,248.34 L754.00,248.34 L754.50,248.35 L755.00,248.35 L755.50,248.35 L756.00,248.36 L756.50,248.36 L757.00,248.36 L757.50,248.37 L758.00,248.37 L758.50,248.37 L759.00,248.38 L759.50,248.38 L760.00,248.38 L760.50,248.38 L761.00,248.39 L761.50,248.39 L762.00,248.39 L762.50,248.39 L763.00,248.39 L763.50,248.39 L764.00,248.40 L764.50,248.40 L765.00,248.40 L765.50,248.40 L766.00,248.40 L766.50,248.40 L767.00,248.41 L767.50,248.41 L768.00,248.41 L768.50,248.41 L769.00,248.41 L769.50,248.41 L770.00,248.41 L770.50,248.42 L771.00,248.42 L771.50,248.42 L772.00,248.42 L772.50,248.42 L773.00,248.42 L773.50,248.42 L774.00,248.42 L774.50,248.43 L775.00,248.43 L775.50,248.43 L776.00,248.43 L776.50,248.43 L777.00,248.43 L777.50,248.43 L778.00,248.43 L778.50,248.44 L779.00,248.44 L779.50,248.44 L780.00,248.44 L780.50,248.44 L781.00,248.44 L781.50,248.44 L782.00,248.44 L782.50,248.45 L783.00,248.45 L783.50,248.45 L784.00,248.45 L784.50,248.45 L785.00,248.45 L785.50,248.45 L786.00,248.45 L786.50,248.46 L787.00,248.46 L787.50,248.46 L788.00,248.46 L788.50,248.46 L789.00,248.46 L789.50,248.46 L790.00,248.46 L790.50,248.47 L791.00,248.47 L791.50,248.47 L792.00,248.47 L792.10,248.47" fill="none" stroke="#ee0022" stroke-width="1.8" stroke-opacity="1.0" stroke-linejoin="round" />
<path d="M460.20,32.44 L460.70,32.42 L461.20,32.40 L461.70,32.39 L462.20,32.38 L462.70,32.37 L463.20,32.37 L463.70,32.38 L464.20,32.39 L464.70,32.40 L465.20,32.42 L465.70,32.44 L466.20,32.46 L466.70,32.49 L467.19,32.52 L467.69,32.56 L468.19,32.60 L468.69,32.64 L469.19,32.69 L469.69,32.74 L470.19,32.79 L470.69,32.85 L471.19,32.91 L471.69,32.97 L472.19,33.04 L472.69,33.11 L473.19,33.19 L473.69,33.26 L474.19,33.34 L474.69,33.43 L475.19,33.51 L475.69,33.60 L476.18,33.70 L476.68,33.79 L477.18,33.89 L477.68,33.99 L478.18,34.09 L478.68,34.20 L479.18,34.31 L479.68,34.42 L480.18,34.53 L480.68,34.65 L481.18,34.77 L481.68,34.89 L482.18,35.02 L482.68,35.14 L483.18,35.27 L483.68,35.40 L484.18,35.54 L484.68,35.67 L485.18,35.81 L485.68,35.95 L486.18,36.10 L486.67,36.24 L487.17,36.39 L487.67,36.54 L488.17,36.69 L488.67,36.85 L489.17,37.00 L489.67,37.16 L490.17,37.32 L490.67,37.48 L491.17,37.65 L491.67,37.81 L492.17,37.98 L492.67,38.15 L493.17,38.32 L493.67,38.50 L494.17,38.67 L494.67,38.85 L495.17,39.03 L495.67,39.21 L496.17,39.39 L496.67,39.58 L497.17,39.76 L497.67,39.95 L498.17,40.14 L498.67,40.33 L499.17,40.53 L499.67,40.72 L500.17,40.92 L500.67,41.12 L501.17,41.32 L501.67,41.52 L502.17,41.72 L502.66,41.92 L503.16,42.13 L503.66,42.34 L504.16,42.55 L504.66,42.76 L505.16,42.97 L505.66,43.19 L506.16,43.40 L506.66,43.62 L507.16,43.84 L507.66,44.06 L508.16,44.28 L508.66,44.50 L509.16,44.72 L509.66,44.95 L510.16,45.18 L510.66,45.41 L511.16,45.64 L511.66,45.87 L512.16,46.10 L512.66,46.34 L513.16,46.57 L513.66,46.81 L514.16,47.05 L514.66,47.29 L515.16,47.53 L515.66,47.77 L516.16,48.01 L516.66,48.26 L517.16,48.51 L517.66,48.76 L518.16,49.01 L518.66,49.26 L519.16,49.51 L519.66,49.76 L520.16,50.02 L520.66,50.27 L521.16,50.53 L521.66,50.79 L522.16,51.05 L522.66,51.31 L523.16,51.58 L523.66,51.84 L524.16,52.11 L524.66,52.38 L525.16,52.64 L525.66,52.91 L526.16,53.19 L526.66,53.46 L527.16,53.73 L527.66,54.01 L528.16,54.29 L528.66,54.57 L529.16,54.85 L529.66,55.13 L530.16,55.41 L530.66,55.69 L531.16,55.98 L531.66,56.27 L532.16,56.56 L532.66,56.85 L533.16,57.14 L533.66,57.43 L534.16,57.72 L534.66,58.02 L535.16,58.32 L535.66,58.62 L536.16,58.92 L536.66,59.22 L537.16,59.52 L537.66,59.83 L538.16,60.13 L538.66,60.44 L539.16,60.75 L539.66,61.06 L540.16,61.37 L540.66,61.69 L541.16,62.01 L541.66,62.32 L542.16,62.64 L542.66,62.96 L543.16,63.29 L543.66,63.61 L544.16,63.94 L544.66,64.26 L545.16,64.59 L545.66,64.92 L546.16,65.26 L546.66,65.59 L547.16,65.93 L547.66,66.27 L548.16,66.61 L548.66,66.95 L549.16,67.29 L549.66,67.64 L550.16,67.99 L550.66,68.34 L551.16,68.69 L551.66,69.04 L552.16,69.40 L552.67,69.75 L553.17,70.11 L553.67,70.47 L554.17,70.84 L554.67,71.20 L555.17,71.57 L555.67,71.94 L556.17,72.31 L556.67,72.69 L557.17,73.06 L557.67,73.44 L558.17,73.82 L558.67,74.21 L559.17,74.59 L559.67,74.98 L560.17,75.37 L560.67,75.76 L561.17,76.16 L561.67,76.56 L562.17,76.96 L562.67,77.36 L563.17,77.76 L563.67,78.17 L564.17,78.58 L564.67,78.99 L565.17,79.41 L565.67,79.83 L566.17,80.25 L566.67,80.67 L567.17,81.10 L567.67,81.53 L568.18,81.96 L568.68,82.40 L569.18,82.83 L569.68,83.28 L570.18,83.72 L570.68,84.17 L571.18,84.62 L571.68,85.07 L572.18,85.53 L572.68,85.99 L573.18,86.45 L573.68,86.92 L574.18,87.39 L574.68,87.86 L575.18,88.33 L575.68,88.81 L576.18,89.30 L576.68,89.78 L577.18,90.27 L577.69,90.77 L578.19,91.26 L578.69,91.77 L579.19,92.27 L579.69,92.78 L580.19,93.29 L580.69,93.81 L581.19,94.33 L581.69,94.85 L582.19,95.38 L582.69,95.91 L583.19,96.45 L583.69,96.99 L584.19,97.53 L584.70,98.08 L585.20,98.63 L585.70,99.19 L586.20,99.75 L586.70,100.32 L587.20,100.89 L587.70,101.46 L588.20,102.04 L588.70,102.62 L589.20,103.21 L589.70,103.80 L590.20,104.40 L590.71,105.00 L591.21,105.61 L591.71,106.22 L592.21,106.84 L592.71,107.46 L593.21,108.09 L593.71,108.72 L594.21,109.35 L594.71,109.99 L595.21,110.64 L595.72,111.29 L596.22,111.95 L596.72,112.61 L597.22,113.27 L597.72,113.94 L598.22,114.62 L598.72,115.30 L599.22,115.99 L599.72,116.68 L600.23,117.38 L600.73,118.08 L601.23,118.79 L601.73,119.50 L602.23,120.22 L602.73,120.95 L603.23,121.68 L603.73,122.41 L604.24,123.15 L604.74,123.90 L605.24,124.65 L605.74,125.41 L606.24,126.17 L606.74,126.93 L607.24,127.71 L607.74,128.49 L608.25,129.27 L608.75,130.06 L609.25,130.85 L609.75,131.65 L610.25,132.45 L610.75,133.26 L611.25,134.08 L611.76,134.90 L612.26,135.72 L612.76,136.55 L613.26,137.39 L613.76,138.23 L614.26,139.07 L614.76,139.92 L615.27,140.78 L615.77,141.63 L616.27,142.50 L616.77,143.37 L617.27,144.24 L617.77,145.11 L618.27,146.00 L618.78,146.88 L619.28,147.77 L619.78,148.66 L620.28,149.56 L620.78,150.46 L621.28,151.36 L621.79,152.27 L622.29,153.18 L622.79,154.10 L623.29,155.01 L623.79,155.94 L624.29,156.86 L624.79,157.78 L625.30,158.71 L625.80,159.64 L626.30,160.58 L626.80,161.51 L627.30,162.45 L627.80,163.39 L628.30,164.33 L628.81,165.27 L629.31,166.21 L629.81,167.15 L630.31,168.10 L630.81,169.04 L631.31,169.99 L631.82,170.93 L632.32,171.88 L632.82,172.82 L633.32,173.77 L633.82,174.71 L634.32,175.66 L634.82,176.60 L635.33,177.54 L635.83,178.48 L636.33,179.42 L636.83,180.35 L637.33,181.29 L637.83,182.22 L638.33,183.15 L638.83,184.07 L639.34,185.00 L639.84,185.92 L640.34,186.83 L640.84,187.75 L641.34,188.66 L641.84,189.56 L642.34,190.46 L642.84,191.36 L643.34,192.25 L643.85,193.14 L644.35,194.02 L644.85,194.90 L645.35,195.77 L645.85,196.64 L646.35,197.50 L646.85,198.35 L647.35,199.20 L647.85,200.04 L648.35,200.88 L648.85,201.71 L649.35,202.53 L649.86,203.34 L650.36,204.15 L650.86,204.95 L651.36,205.75 L651.86,206.53 L652.36,207.31 L652.86,208.08 L653.36,208.84 L653.86,209.60 L654.36,210.35 L654.86,211.08 L655.36,211.81 L655.86,212.53 L656.36,213.25 L656.86,213.95 L657.36,214.65 L657.86,215.33 L658.36,216.01 L658.86,216.68 L659.36,217.34 L659.86,217.99 L660.36,218.64 L660.86,219.27 L661.36,219.90 L661.86,220.51 L662.36,221.12 L662.86,221.72 L663.36,222.30 L663.86,222.88 L664.36,223.45 L664.86,224.02 L665.36,224.57 L665.86,225.11 L666.35,225.65 L666.85,226.17 L667.35,226.69 L667.85,227.20 L668.35,227.69 L668.85,228.18 L669.35,228.67 L669.85,229.14 L670.35,229.60 L670.85,230.06 L671.34,230.50 L671.84,230.94 L672.34,231.37 L672.84,231.80 L673.34,232.21 L673.84,232.61 L674.34,233.01 L674.84,233.40 L675.33,233.78 L675.83,234.16 L676.33,234.52 L676.83,234.88 L677.33,235.23 L677.83,235.58 L678.32,235.91 L678.82,236.24 L679.32,236.56 L679.82,236.88 L680.32,237.19 L680.82,237.49 L681.31,237.78 L681.81,238.07 L682.31,238.35 L682.81,238.63 L683.31,238.90 L683.81,239.16 L684.30,239.41 L684.80,239.66 L685.30,239.91 L685.80,240.15 L686.30,240.38 L686.79,240.61 L687.29,240.83 L687.79,241.04 L688.29,241.26 L688.79,241.46 L689.29,241.66 L689.78,241.86 L690.28,242.05 L690.78,242.23 L691.28,242.42 L691.78,242.59 L692.28,242.76 L692.77,242.93 L693.27,243.09 L693.77,243.25 L694.27,243.41 L694.77,243.56 L695.27,243.71 L695.76,243.85 L696.26,243.99 L696.76,244.12 L697.26,244.26 L697.76,244.38 L698.26,244.51 L698.75,244.63 L699.25,244.75 L699.75,244.86 L700.25,244.97 L700.75,245.08 L701.25,245.19 L701.75,245.29 L702.25,245.39 L702.74,245.49 L703.24,245.58 L703.74,245.67 L704.24,245.76 L704.74,245.85 L705.24,245.93 L705.74,246.01 L706.24,246.09 L706.74,246.17 L707.23,246.24 L707.73,246.31 L708.23,246.38 L708.73,246.45 L709.23,246.52 L709.73,246.58 L710.23,246.64 L710.73,246.70 L711.23,246.76 L711.73,246.82 L712.23,246.87 L712.72,246.93 L713.22,246.98 L713.72,247.03 L714.22,247.08 L714.72,247.13 L715.22,247.17 L715.72,247.21 L716.22,247.26 L716.72,247.30 L717.22,247.34 L717.72,247.38 L718.22,247.42 L718.72,247.45 L719.22,247.49 L719.72,247.52 L720.22,247.56 L720.71,247.59 L721.21,247.62 L721.71,247.65 L722.21,247.68 L722.71,247.71 L723.21,247.73 L723.71,247.76 L724.21,247.79 L724.71,247.81 L725.21,247.83 L725.71,247.86 L726.21,247.88 L726.71,247.90 L727.21,247.92 L727.71,247.94 L728.21,247.96 L728.71,247.98 L729.21,248.00 L729.71,248.02 L730.21,248.03 L730.71,248.05 L731.21,248.07 L731.71,248.08 L732.21,248.10 L732.71,248.11 L733.21,248.13 L733.71,248.14 L734.21,248.15 L734.71,248.17 L735.21,248.18 L735.71,248.19 L736.20,248.20 L736.70,248.21 L737.20,248.22 L737.70,248.23 L738.20,248.24 L738.70,248.25 L739.20,248.26 L739.70,248.27 L740.20,248.28 L740.70,248.29 L741.20,248.30 L741.70,248.30 L742.20,248.31 L742.70,248.32 L743.20,248.33 L743.70,248.33 L744.20,248.34 L744.70,248.35 L745.20,248.35 L745.70,248.36 L746.20,248.36 L746.70,248.37 L747.20,248.37 L747.70,248.38 L748.20,248.38 L748.70,248.39 L749.20,248.39 L749.70,248.40 L750.20,248.40 L750.70,248.41 L751.20,248.41 L751.70,248.42 L752.20,248.42 L752.70,248.42 L753.20,248.43 L753.70,248.43 L754.20,248.43 L754.70,248.44 L755.20,248.44 L755.70,248.44 L756.20,248.45 L756.70,248.45 L757.20,248.45 L757.70,248.46 L758.20,248.46 L758.70,248.46 L759.20,248.46 L759.70,248.47 L760.20,248.47 L760.70,248.47 L761.20,248.47 L761.70,248.47 L762.20,248.48 L762.70,248.48 L763.20,248.48 L763.70,248.48 L764.20,248.49 L764.70,248.49 L765.20,248.49 L765.70,248.49 L766.20,248.49 L766.70,248.49 L767.20,248.50 L767.70,248.50 L768.20,248.50 L768.70,248.50 L769.20,248.50 L769.70,248.50 L770.20,248.51 L770.70,248.51 L771.20,248.51 L771.70,248.51 L772.20,248.51 L772.70,248.51 L773.20,248.51 L773.70,248.52 L774.20,248.52 L774.70,248.52 L775.20,248.52 L775.70,248.52 L776.20,248.52 L776.70,248.52 L777.20,248.53 L777.70,248.53 L778.20,248.53 L778.70,248.53 L779.20,248.53 L779.70,248.53 L780.20,248.53 L780.70,248.53 L781.20,248.54 L781.70,248.54 L782.20,248.54 L782.70,248.54 L783.20,248.54 L783.70,248.54 L784.20,248.54 L784.70,248.54 L785.20,248.55 L785.70,248.55 L786.20,248.55 L786.70,248.55 L787.20,248.55 L787.70,248.55 L788.20,248.55 L788.70,248.55 L789.20,248.56 L789.70,248.56 L790.20,248.56 L790.70,248.56 L791.20,248.56 L791.30,248.56" fill="none" stroke="#0000dd" stroke-width="1.6" stroke-opacity="1.0" stroke-linejoin="round" />
<path d="M458.20,33.16 L458.70,33.14 L459.20,33.13 L459.70,33.12 L460.20,33.12 L460.70,33.12 L461.20,33.12 L461.70,33.13 L462.20,33.15 L462.70,33.16 L463.20,33.18 L463.70,33.21 L464.20,33.23 L464.70,33.27 L465.20,33.30 L465.70,33.34 L466.20,33.38 L466.70,33.43 L467.20,33.48 L467.70,33.53 L468.20,33.58 L468.70,33.64 L469.20,33.70 L469.70,33.77 L470.20,33.84 L470.70,33.91 L471.20,33.98 L471.70,34.06 L472.20,34.14 L472.70,34.23 L473.20,34.31 L473.70,34.40 L474.20,34.49 L474.70,34.59 L475.20,34.69 L475.70,34.79 L476.20,34.89 L476.70,34.99 L477.20,35.10 L477.70,35.21 L478.20,35.33 L478.70,35.44 L479.20,35.56 L479.70,35.68 L480.20,35.80 L480.70,35.93 L481.20,36.06 L481.70,36.19 L482.20,36.32 L482.70,36.45 L483.20,36.59 L483.70,36.73 L484.20,36.87 L484.70,37.01 L485.20,37.16 L485.70,37.31 L486.20,37.46 L486.70,37.61 L487.20,37.76 L487.70,37.92 L488.20,38.08 L488.70,38.24 L489.20,38.40 L489.70,38.56 L490.20,38.73 L490.70,38.90 L491.20,39.06 L491.70,39.24 L492.20,39.41 L492.70,39.58 L493.20,39.76 L493.70,39.94 L494.20,40.12 L494.70,40.30 L495.20,40.49 L495.70,40.67 L496.20,40.86 L496.70,41.05 L497.20,41.24 L497.70,41.43 L498.20,41.63 L498.70,41.82 L499.20,42.02 L499.70,42.22 L500.20,42.42 L500.70,42.62 L501.20,42.83 L501.70,43.03 L502.21,43.24 L502.71,43.45 L503.21,43.66 L503.71,43.87 L504.21,44.08 L504.71,44.30 L505.21,44.51 L505.71,44.73 L506.21,44.95 L506.71,45.17 L507.21,45.39 L507.71,45.62 L508.21,45.84 L508.71,46.07 L509.21,46.30 L509.71,46.53 L510.21,46.76 L510.71,46.99 L511.21,47.23 L511.71,47.46 L512.21,47.70 L512.71,47.94 L513.21,48.18 L513.71,48.42 L514.21,48.66 L514.71,48.90 L515.21,49.15 L515.71,49.40 L516.21,49.64 L516.71,49.89 L517.21,50.15 L517.71,50.40 L518.21,50.65 L518.71,50.91 L519.21,51.16 L519.71,51.42 L520.21,51.68 L520.71,51.94 L521.21,52.21 L521.71,52.47 L522.21,52.74 L522.71,53.00 L523.21,53.27 L523.71,53.54 L524.21,53.81 L524.71,54.08 L525.21,54.36 L525.71,54.63 L526.21,54.91 L526.71,55.19 L527.21,55.47 L527.71,55.75 L528.21,56.03 L528.71,56.32 L529.21,56.60 L529.71,56.89 L530.21,57.18 L530.71,57.47 L531.21,57.76 L531.71,58.05 L532.21,58.35 L532.71,58.64 L533.21,58.94 L533.71,59.24 L534.21,59.54 L534.71,59.85 L535.21,60.15 L535.71,60.46 L536.21,60.76 L536.71,61.07 L537.21,61.38 L537.71,61.69 L538.21,62.01 L538.71,62.32 L539.21,62.64 L539.71,62.96 L540.21,63.28 L540.71,63.60 L541.21,63.93 L541.71,64.25 L542.21,64.58 L542.72,64.91 L543.22,65.24 L543.72,65.57 L544.22,65.91 L544.72,66.24 L545.22,66.58 L545.72,66.92 L546.22,67.26 L546.72,67.61 L547.22,67.95 L547.72,68.30 L548.22,68.65 L548.72,69.00 L549.22,69.36 L549.72,69.71 L550.22,70.07 L550.72,70.43 L551.22,70.79 L551.72,71.16 L552.22,71.52 L552.72,71.89 L553.22,72.26 L553.72,72.63 L554.22,73.01 L554.72,73.39 L555.22,73.77 L555.72,74.15 L556.22,74.53 L556.72,74.92 L557.22,75.31 L557.72,75.70 L558.22,76.09 L558.72,76.48 L559.22,76.88 L559.72,77.28 L560.22,77.69 L560.72,78.09 L561.22,78.50 L561.72,78.91 L562.22,79.32 L562.72,79.74 L563.22,80.16 L563.72,80.58 L564.22,81.01 L564.72,81.43 L565.22,81.86 L565.72,82.29 L566.22,82.73 L566.72,83.17 L567.22,83.61 L567.72,84.05 L568.23,84.50 L568.73,84.95 L569.23,85.41 L569.73,85.86 L570.23,86.32 L570.73,86.78 L571.23,87.25 L571.73,87.72 L572.23,88.19 L572.73,88.67 L573.23,89.15 L573.73,89.63 L574.23,90.12 L574.73,90.61 L575.23,91.10 L575.73,91.60 L576.23,92.10 L576.73,92.60 L577.23,93.11 L577.73,93.62 L578.23,94.13 L578.73,94.65 L579.23,95.18 L579.73,95.70 L580.23,96.23 L580.73,96.77 L581.23,97.31 L581.73,97.85 L582.23,98.39 L582.73,98.94 L583.23,99.50 L583.73,100.06 L584.23,100.62 L584.73,101.19 L585.23,101.76 L585.73,102.34 L586.23,102.92 L586.73,103.50 L587.23,104.09 L587.73,104.68 L588.24,105.28 L588.74,105.89 L589.24,106.49 L589.74,107.10 L590.24,107.72 L590.74,108.34 L591.24,108.97 L591.74,109.60 L592.24,110.24 L592.74,110.88 L593.24,111.52 L593.74,112.17 L594.24,112.83 L594.74,113.49 L595.24,114.15 L595.74,114.82 L596.24,115.50 L596.74,116.18 L597.24,116.87 L597.74,117.56 L598.24,118.25 L598.74,118.95 L599.24,119.66 L599.74,120.37 L600.24,121.09 L600.74,121.81 L601.24,122.54 L601.74,123.27 L602.24,124.01 L602.74,124.75 L603.24,125.50 L603.74,126.25 L604.24,127.01 L604.74,127.77 L605.24,128.54 L605.74,129.31 L606.24,130.09 L606.75,130.88 L607.25,131.67 L607.75,132.46 L608.25,133.26 L608.75,134.07 L609.25,134.88 L609.75,135.69 L610.25,136.51 L610.75,137.34 L611.25,138.17 L611.75,139.00 L612.25,139.84 L612.75,140.69 L613.25,141.54 L613.75,142.39 L614.25,143.25 L614.75,144.11 L615.25,144.98 L615.75,145.85 L616.25,146.72 L616.75,147.60 L617.25,148.49 L617.75,149.38 L618.25,150.27 L618.75,151.16 L619.25,152.06 L619.75,152.97 L620.25,153.87 L620.75,154.78 L621.25,155.70 L621.75,156.61 L622.25,157.53 L622.75,158.45 L623.25,159.38 L623.75,160.30 L624.25,161.23 L624.75,162.17 L625.25,163.10 L625.75,164.03 L626.25,164.97 L626.75,165.91 L627.25,166.85 L627.75,167.79 L628.25,168.74 L628.75,169.68 L629.25,170.62 L629.75,171.57 L630.25,172.51 L630.75,173.46 L631.25,174.40 L631.75,175.35 L632.25,176.29 L632.75,177.24 L633.25,178.18 L633.75,179.12 L634.25,180.06 L634.75,181.00 L635.25,181.94 L635.75,182.87 L636.25,183.81 L636.75,184.74 L637.25,185.67 L637.75,186.59 L638.25,187.51 L638.75,188.43 L639.25,189.35 L639.75,190.26 L640.25,191.17 L640.75,192.07 L641.25,192.97 L641.75,193.87 L642.25,194.76 L642.75,195.64 L643.25,196.53 L643.75,197.40 L644.25,198.27 L644.75,199.13 L645.25,199.99 L645.75,200.84 L646.25,201.69 L646.75,202.53 L647.25,203.36 L647.75,204.19 L648.25,205.01 L648.75,205.82 L649.25,206.62 L649.75,207.42 L650.25,208.21 L650.75,208.99 L651.25,209.76 L651.75,210.53 L652.25,211.29 L652.75,212.04 L653.25,212.78 L653.75,213.51 L654.25,214.23 L654.75,214.95 L655.25,215.65 L655.75,216.35 L656.25,217.04 L656.75,217.72 L657.25,218.39 L657.75,219.05 L658.25,219.71 L658.75,220.35 L659.25,220.98 L659.75,221.61 L660.25,222.22 L660.75,222.83 L661.25,223.43 L661.75,224.01 L662.24,224.59 L662.74,225.16 L663.24,225.72 L663.74,226.27 L664.24,226.81 L664.74,227.34 L665.24,227.86 L665.74,228.38 L666.24,228.88 L666.74,229.37 L667.24,229.86 L667.74,230.33 L668.24,230.80 L668.74,231.26 L669.24,231.71 L669.74,232.15 L670.24,232.58 L670.74,233.00 L671.24,233.42 L671.74,233.82 L672.24,234.22 L672.73,234.61 L673.23,234.99 L673.73,235.36 L674.23,235.73 L674.73,236.08 L675.23,236.43 L675.73,236.77 L676.23,237.11 L676.73,237.43 L677.23,237.75 L677.73,238.06 L678.23,238.36 L678.73,238.66 L679.23,238.95 L679.73,239.23 L680.23,239.50 L680.73,239.77 L681.22,240.03 L681.72,240.29 L682.22,240.54 L682.72,240.78 L683.22,241.02 L683.72,241.25 L684.22,241.47 L684.72,241.69 L685.22,241.91 L685.72,242.11 L686.22,242.31 L686.72,242.51 L687.22,242.70 L687.72,242.89 L688.22,243.07 L688.72,243.25 L689.22,243.42 L689.72,243.58 L690.22,243.75 L690.72,243.90 L691.21,244.06 L691.71,244.20 L692.21,244.35 L692.71,244.49 L693.21,244.62 L693.71,244.76 L694.21,244.89 L694.71,245.01 L695.21,245.13 L695.71,245.25 L696.21,245.36 L696.71,245.47 L697.21,245.58 L697.71,245.68 L698.21,245.79 L698.71,245.88 L699.21,245.98 L699.71,246.07 L700.21,246.16 L700.71,246.24 L701.21,246.33 L701.71,246.41 L702.21,246.49 L702.71,246.56 L703.21,246.64 L703.71,246.71 L704.21,246.78 L704.71,246.84 L705.21,246.91 L705.71,246.97 L706.21,247.03 L706.71,247.09 L707.20,247.15 L707.70,247.20 L708.20,247.26 L708.70,247.31 L709.20,247.36 L709.70,247.40 L710.20,247.45 L710.70,247.50 L711.20,247.54 L711.70,247.58 L712.20,247.62 L712.70,247.66 L713.20,247.70 L713.70,247.73 L714.20,247.77 L714.70,247.80 L715.20,247.84 L715.70,247.87 L716.20,247.90 L716.70,247.93 L717.20,247.96 L717.70,247.98 L718.20,248.01 L718.70,248.04 L719.20,248.06 L719.70,248.08 L720.20,248.11 L720.70,248.13 L721.20,248.15 L721.70,248.17 L722.20,248.19 L722.70,248.21 L723.20,248.23 L723.70,248.25 L724.20,248.26 L724.70,248.28 L725.20,248.30 L725.70,248.31 L726.20,248.33 L726.70,248.34 L727.20,248.35 L727.70,248.37 L728.20,248.38 L728.70,248.39 L729.20,248.40 L729.70,248.42 L730.20,248.43 L730.70,248.44 L731.20,248.45 L731.70,248.46 L732.20,248.47 L732.70,248.48 L733.20,248.49 L733.70,248.49 L734.20,248.50 L734.70,248.51 L735.20,248.52 L735.70,248.52 L736.20,248.53 L736.70,248.54 L737.20,248.54 L737.70,248.55 L738.20,248.56 L738.70,248.56 L739.20,248.57 L739.70,248.57 L740.20,248.58 L740.70,248.58 L741.20,248.59 L741.70,248.59 L742.20,248.60 L742.70,248.60 L743.20,248.61 L743.70,248.61 L744.20,248.61 L744.70,248.62 L745.20,248.62 L745.70,248.62 L746.20,248.63 L746.70,248.63 L747.20,248.63 L747.70,248.64 L748.20,248.64 L748.70,248.64 L749.20,248.65 L749.70,248.65 L750.20,248.65 L750.70,248.65 L751.20,248.65 L751.70,248.66 L752.20,248.66 L752.70,248.66 L753.20,248.66 L753.70,248.66 L754.20,248.67 L754.70,248.67 L755.20,248.67 L755.70,248.67 L756.20,248.67 L756.70,248.68 L757.20,248.68 L757.70,248.68 L758.20,248.68 L758.70,248.68 L759.20,248.68 L759.70,248.68 L760.20,248.68 L760.70,248.69 L761.20,248.69 L761.70,248.69 L762.20,248.69 L762.70,248.69 L763.20,248.69 L763.70,248.69 L764.20,248.69 L764.70,248.69 L765.20,248.70 L765.70,248.70 L766.20,248.70 L766.70,248.70 L767.20,248.70 L767.70,248.70 L768.20,248.70 L768.70,248.70 L769.20,248.70 L769.70,248.70 L770.20,248.70 L770.70,248.70 L771.20,248.71 L771.70,248.71 L772.20,248.71 L772.70,248.71 L773.20,248.71 L773.70,248.71 L774.20,248.71 L774.70,248.71 L775.20,248.71 L775.70,248.71 L776.20,248.71 L776.70,248.71 L777.20,248.71 L777.70,248.71 L778.20,248.71 L778.70,248.72 L779.20,248.72 L779.70,248.72 L780.20,248.72 L780.70,248.72 L781.20,248.72 L781.70,248.72 L782.20,248.72 L782.70,248.72 L783.20,248.72 L783.70,248.72 L784.20,248.72 L784.70,248.72 L785.20,248.72 L785.70,248.72 L786.20,248.72 L786.70,248.72 L787.20,248.72 L787.70,248.73 L788.20,248.73 L788.70,248.73 L789.20,248.73 L789.30,248.73" fill="none" stroke="#0000dd" stroke-width="1.6" stroke-opacity="1.0" stroke-linejoin="round" />
</g>
<g clip-path="url(#clipC)">
<path d="M232.39,363.51 L232.89,363.54 L233.39,363.56 L233.89,363.59 L234.39,363.62 L234.89,363.65 L235.39,363.68 L235.89,363.72 L236.39,363.75 L236.89,363.79 L237.39,363.83 L237.89,363.87 L238.39,363.92 L238.89,363.96 L239.39,364.01 L239.88,364.06 L240.38,364.11 L240.88,364.16 L241.38,364.21 L241.88,364.26 L242.38,364.32 L242.88,364.38 L243.38,364.44 L243.88,364.50 L244.38,364.56 L244.88,364.62 L245.38,364.69 L245.87,364.76 L246.37,364.83 L246.87,364.90 L247.37,364.97 L247.87,365.04 L248.37,365.12 L248.87,365.20 L249.37,365.27 L249.87,365.35 L250.37,365.44 L250.87,365.52 L251.36,365.60 L251.86,365.69 L252.36,365.78 L252.86,365.87 L253.36,365.96 L253.86,366.05 L254.36,366.14 L254.86,366.24 L255.36,366.34 L255.86,366.44 L256.36,366.54 L256.86,366.64 L257.35,366.74 L257.85,366.85 L258.35,366.95 L258.85,367.06 L259.35,367.17 L259.85,367.28 L260.35,367.39 L260.85,367.51 L261.35,367.62 L261.85,367.74 L262.35,367.86 L262.85,367.98 L263.35,368.10 L263.85,368.22 L264.34,368.35 L264.84,368.47 L265.34,368.60 L265.84,368.73 L266.34,368.86 L266.84,368.99 L267.34,369.12 L267.84,369.26 L268.34,369.40 L268.84,369.53 L269.34,369.67 L269.84,369.81 L270.34,369.96 L270.84,370.10 L271.34,370.25 L271.84,370.39 L272.34,370.54 L272.84,370.69 L273.34,370.84 L273.84,370.99 L274.34,371.15 L274.84,371.31 L275.34,371.46 L275.84,371.62 L276.34,371.78 L276.84,371.94 L277.34,372.11 L277.84,372.27 L278.34,372.44 L278.85,372.61 L279.35,372.78 L279.85,372.95 L280.35,373.12 L280.85,373.29 L281.35,373.47 L281.85,373.64 L282.35,373.82 L282.85,374.00 L283.36,374.18 L283.86,374.37 L284.36,374.55 L284.86,374.74 L285.36,374.92 L285.86,375.11 L286.37,375.30 L286.87,375.49 L287.37,375.69 L287.87,375.88 L288.37,376.08 L288.88,376.28 L289.38,376.48 L289.88,376.68 L290.38,376.88 L290.89,377.08 L291.39,377.29 L291.89,377.50 L292.40,377.70 L292.90,377.91 L293.40,378.13 L293.91,378.34 L294.41,378.55 L294.91,378.77 L295.42,378.99 L295.92,379.21 L296.43,379.43 L296.93,379.65 L297.43,379.88 L297.94,380.10 L298.44,380.33 L298.95,380.56 L299.45,380.79 L299.96,381.03 L300.46,381.26 L300.96,381.50 L301.47,381.74 L301.97,381.98 L302.48,382.22 L302.98,382.46 L303.49,382.71 L303.99,382.96 L304.50,383.20 L305.00,383.46 L305.51,383.71 L306.01,383.96 L306.52,384.22 L307.02,384.48 L307.53,384.74 L308.03,385.00 L308.54,385.26 L309.04,385.53 L309.55,385.80 L310.06,386.07 L310.56,386.34 L311.07,386.61 L311.57,386.89 L312.08,387.16 L312.58,387.44 L313.09,387.73 L313.59,388.01 L314.10,388.30 L314.60,388.58 L315.11,388.87 L315.61,389.16 L316.11,389.46 L316.62,389.75 L317.12,390.05 L317.63,390.35 L318.13,390.66 L318.64,390.96 L319.14,391.27 L319.64,391.58 L320.15,391.89 L320.65,392.20 L321.16,392.52 L321.66,392.83 L322.16,393.15 L322.66,393.48 L323.17,393.80 L323.67,394.13 L324.17,394.46 L324.67,394.79 L325.18,395.12 L325.68,395.46 L326.18,395.79 L326.68,396.13 L327.18,396.48 L327.68,396.82 L328.18,397.17 L328.68,397.52 L329.18,397.87 L329.68,398.23 L330.18,398.58 L330.68,398.94 L331.18,399.31 L331.68,399.67 L332.18,400.04 L332.68,400.41 L333.18,400.78 L333.67,401.15 L334.17,401.53 L334.67,401.91 L335.16,402.29 L335.66,402.67 L336.16,403.06 L336.65,403.45 L337.15,403.84 L337.64,404.24 L338.13,404.63 L338.63,405.03 L339.12,405.43 L339.61,405.84 L340.11,406.25 L340.60,406.66 L341.09,407.07 L341.58,407.48 L342.07,407.90 L342.56,408.32 L343.05,408.74 L343.54,409.17 L344.03,409.60 L344.52,410.03 L345.00,410.46 L345.49,410.90 L345.98,411.34 L346.46,411.78 L346.95,412.22 L347.44,412.67 L347.92,413.11 L348.40,413.57 L348.89,414.02 L349.37,414.48 L349.86,414.93 L350.34,415.40 L350.82,415.86 L351.30,416.33 L351.79,416.79 L352.27,417.27 L352.75,417.74 L353.23,418.22 L353.71,418.69 L354.19,419.17 L354.67,419.66 L355.15,420.14 L355.63,420.63 L356.11,421.12 L356.59,421.61 L357.07,422.11 L357.55,422.61 L358.02,423.10 L358.50,423.61 L358.98,424.11 L359.46,424.62 L359.94,425.12 L360.41,425.64 L360.89,426.15 L361.37,426.66 L361.85,427.18 L362.33,427.70 L362.80,428.22 L363.28,428.74 L363.76,429.27 L364.24,429.80 L364.72,430.33 L365.19,430.86 L365.67,431.39 L366.15,431.93 L366.63,432.47 L367.11,433.01 L367.59,433.55 L368.07,434.09 L368.55,434.64 L369.03,435.18 L369.51,435.73 L369.99,436.29 L370.47,436.84 L370.95,437.39 L371.43,437.95 L371.92,438.51 L372.40,439.07 L372.88,439.63 L373.37,440.19 L373.85,440.76 L374.34,441.33 L374.82,441.89 L375.31,442.46 L375.80,443.04 L376.29,443.61 L376.78,444.18 L377.27,444.76 L377.76,445.34 L378.25,445.92 L378.74,446.50 L379.23,447.08 L379.73,447.66 L380.23,448.25 L380.72,448.83 L381.22,449.42 L381.72,450.01 L382.22,450.60 L382.72,451.19 L383.22,451.78 L383.73,452.38 L384.23,452.97 L384.74,453.57 L385.24,454.17 L385.75,454.77 L386.26,455.37 L386.77,455.97 L387.28,456.57 L387.79,457.18 L388.30,457.79 L388.82,458.39 L389.33,459.00 L389.84,459.61 L390.36,460.23 L390.88,460.84 L391.39,461.46 L391.91,462.07 L392.43,462.69 L392.95,463.31 L393.47,463.93 L393.99,464.55 L394.51,465.18 L395.03,465.80 L395.56,466.43 L396.08,467.06 L396.60,467.69 L397.13,468.32 L397.65,468.96 L398.17,469.59 L398.70,470.23 L399.23,470.86 L399.75,471.50 L400.28,472.14 L400.80,472.79 L401.33,473.43 L401.86,474.07 L402.38,474.72 L402.91,475.37 L403.44,476.02 L403.96,476.67 L404.49,477.32 L405.02,477.98 L405.55,478.63 L406.07,479.29 L406.60,479.95 L407.13,480.61 L407.65,481.27 L408.18,481.93 L408.70,482.59 L409.23,483.26 L409.76,483.92 L410.28,484.59 L410.80,485.26 L411.33,485.93 L411.85,486.60 L412.37,487.27 L412.90,487.95 L413.42,488.62 L413.94,489.30 L414.46,489.98 L414.98,490.66 L415.50,491.34 L416.01,492.02 L416.53,492.70 L417.05,493.38 L417.56,494.07 L418.08,494.75 L418.59,495.44 L419.10,496.12 L419.62,496.81 L420.13,497.50 L420.64,498.18 L421.15,498.87 L421.66,499.56 L422.17,500.25 L422.68,500.94 L423.19,501.63 L423.69,502.32 L424.20,503.00 L424.71,503.69 L425.21,504.38 L425.72,505.07 L426.22,505.76 L426.73,506.45 L427.23,507.14 L427.73,507.83 L428.23,508.51 L428.74,509.20 L429.24,509.89 L429.74,510.57 L430.24,511.26 L430.74,511.94 L431.24,512.62 L431.74,513.30 L432.23,513.98 L432.73,514.66 L433.23,515.34 L433.73,516.02 L434.23,516.69 L434.72,517.37 L435.22,518.04 L435.71,518.71 L436.21,519.38 L436.71,520.04 L437.20,520.71 L437.70,521.37 L438.19,522.03 L438.69,522.69 L439.18,523.35 L439.67,524.00 L440.17,524.65 L440.66,525.30 L441.15,525.95 L441.65,526.59 L442.14,527.23 L442.63,527.87 L443.13,528.51 L443.62,529.14 L444.11,529.77 L444.60,530.40 L445.10,531.02 L445.59,531.64 L446.08,532.26 L446.57,532.87 L447.07,533.48 L447.56,534.08 L448.05,534.69 L448.54,535.28 L449.03,535.88 L449.53,536.47 L450.02,537.06 L450.51,537.64 L451.00,538.22 L451.50,538.79 L451.99,539.36 L452.48,539.93 L452.97,540.49 L453.47,541.04 L453.96,541.60 L454.45,542.14 L454.95,542.68 L455.44,543.22 L455.93,543.76 L456.43,544.28 L456.92,544.81 L457.41,545.32 L457.91,545.84 L458.40,546.34 L458.90,546.84 L459.39,547.34 L459.89,547.83 L460.38,548.32 L460.88,548.80 L461.37,549.27 L461.87,549.74 L462.36,550.21 L462.86,550.66 L463.35,551.12 L463.85,551.56 L464.35,552.00 L464.84,552.44 L465.34,552.87 L465.84,553.29 L466.34,553.71 L466.83,554.12 L467.33,554.52 L467.83,554.92 L468.33,555.31 L468.83,555.70 L469.32,556.08 L469.82,556.45 L470.32,556.82 L470.82,557.18 L471.32,557.54 L471.82,557.89 L472.32,558.23 L472.82,558.57 L473.32,558.90 L473.82,559.23 L474.32,559.54 L474.82,559.86 L475.32,560.16 L475.82,560.46 L476.32,560.75 L476.82,561.04 L477.33,561.32 L477.83,561.60 L478.33,561.87 L478.83,562.13 L479.33,562.39 L479.83,562.64 L480.34,562.88 L480.84,563.12 L481.34,563.35 L481.84,563.58 L482.34,563.80 L482.84,564.02 L483.35,564.23 L483.85,564.43 L484.35,564.63 L484.85,564.83 L485.36,565.01 L485.86,565.20 L486.36,565.37 L486.86,565.55 L487.36,565.71 L487.87,565.88 L488.37,566.03 L488.87,566.18 L489.37,566.33 L489.87,566.47 L490.38,566.61 L490.88,566.74 L491.38,566.87 L491.88,566.99 L492.38,567.11 L492.88,567.23 L493.39,567.34 L493.89,567.44 L494.39,567.55 L494.89,567.64 L495.39,567.74 L495.89,567.83 L496.39,567.92 L496.89,568.00 L497.40,568.08 L497.90,568.15 L498.40,568.23 L498.90,568.30 L499.40,568.36 L499.90,568.43 L500.40,568.49 L500.90,568.54 L501.40,568.60 L501.90,568.65 L502.40,568.70 L502.90,568.75 L503.40,568.79 L503.90,568.83 L504.40,568.87 L504.90,568.91 L505.40,568.94 L505.90,568.97 L506.40,569.00 L506.90,569.03 L507.40,569.06 L507.90,569.08 L508.40,569.11 L508.90,569.13 L509.40,569.15 L509.90,569.17 L510.40,569.19 L510.90,569.20 L511.40,569.22 L511.90,569.23 L512.40,569.24 L512.90,569.25 L513.40,569.26 L513.90,569.27 L514.40,569.28 L514.90,569.29 L515.40,569.29 L515.90,569.30 L516.40,569.30 L516.90,569.31 L517.40,569.31 L517.90,569.31 L518.40,569.32 L518.90,569.32 L519.40,569.32 L519.90,569.32 L520.40,569.32 L520.90,569.32 L521.40,569.32 L521.90,569.32 L522.40,569.32 L522.90,569.32 L523.40,569.32 L523.90,569.31 L524.40,569.31 L524.90,569.31 L525.40,569.31 L525.90,569.31 L526.40,569.30 L526.90,569.30 L527.40,569.30 L527.90,569.29 L528.40,569.29 L528.90,569.29 L529.40,569.29 L529.90,569.28 L530.40,569.28 L530.90,569.28 L531.40,569.27 L531.90,569.27 L532.40,569.27 L532.90,569.26 L533.40,569.26 L533.90,569.26 L534.40,569.25 L534.90,569.25 L535.40,569.25 L535.90,569.24 L536.40,569.24 L536.90,569.24 L537.40,569.23 L537.90,569.23 L538.40,569.23 L538.90,569.22 L539.40,569.22 L539.90,569.22 L540.40,569.21 L540.90,569.21 L541.40,569.21 L541.90,569.21 L542.40,569.20 L542.90,569.20 L543.40,569.20 L543.90,569.20 L544.40,569.19 L544.90,569.19 L545.40,569.19 L545.90,569.19 L546.40,569.18 L546.90,569.18 L547.40,569.18 L547.90,569.18 L548.40,569.18 L548.90,569.17 L549.40,569.17 L549.90,569.17 L550.40,569.17 L550.90,569.17 L551.40,569.17 L551.90,569.17 L552.40,569.16 L552.90,569.16 L553.40,569.16 L553.90,569.16 L554.40,569.16 L554.90,569.16 L555.40,569.16 L555.90,569.16 L556.40,569.16 L556.90,569.15 L557.40,569.15 L557.90,569.15 L558.40,569.15 L558.90,569.15 L559.40,569.15 L559.90,569.15 L560.40,569.15 L560.90,569.15 L561.40,569.15 L561.90,569.15 L562.40,569.15 L562.90,569.15 L563.40,569.15 L563.60,569.15" fill="none" stroke="#2e8e2e" stroke-width="1.3" stroke-dasharray="2.8,2.7" stroke-opacity="1.0" stroke-linejoin="round" />
<path d="M232.39,364.24 L232.89,364.27 L233.39,364.29 L233.89,364.32 L234.39,364.35 L234.89,364.38 L235.39,364.41 L235.89,364.44 L236.39,364.47 L236.89,364.51 L237.39,364.54 L237.89,364.58 L238.39,364.62 L238.89,364.66 L239.39,364.70 L239.89,364.74 L240.39,364.78 L240.89,364.83 L241.39,364.87 L241.89,364.92 L242.39,364.97 L242.89,365.02 L243.39,365.07 L243.89,365.12 L244.39,365.17 L244.89,365.22 L245.39,365.28 L245.89,365.33 L246.39,365.39 L246.89,365.45 L247.39,365.50 L247.89,365.56 L248.39,365.62 L248.89,365.68 L249.39,365.75 L249.89,365.81 L250.39,365.87 L250.89,365.94 L251.39,366.01 L251.89,366.07 L252.39,366.14 L252.89,366.21 L253.39,366.28 L253.89,366.35 L254.39,366.42 L254.89,366.50 L255.39,366.57 L255.89,366.64 L256.39,366.72 L256.89,366.80 L257.40,366.87 L257.90,366.95 L258.40,367.03 L258.90,367.11 L259.40,367.19 L259.90,367.27 L260.40,367.35 L260.90,367.44 L261.40,367.52 L261.90,367.61 L262.40,367.69 L262.90,367.78 L263.40,367.87 L263.90,367.96 L264.40,368.04 L264.90,368.13 L265.40,368.23 L265.90,368.32 L266.40,368.41 L266.90,368.50 L267.40,368.60 L267.91,368.69 L268.41,368.79 L268.91,368.88 L269.41,368.98 L269.91,369.08 L270.41,369.18 L270.91,369.28 L271.41,369.38 L271.91,369.48 L272.41,369.58 L272.91,369.69 L273.41,369.79 L273.91,369.89 L274.41,370.00 L274.91,370.11 L275.41,370.21 L275.92,370.32 L276.42,370.43 L276.92,370.54 L277.42,370.65 L277.92,370.76 L278.42,370.87 L278.92,370.98 L279.42,371.10 L279.92,371.21 L280.42,371.33 L280.92,371.44 L281.42,371.56 L281.92,371.68 L282.42,371.80 L282.93,371.91 L283.43,372.03 L283.93,372.16 L284.43,372.28 L284.93,372.40 L285.43,372.52 L285.93,372.65 L286.43,372.77 L286.93,372.90 L287.43,373.02 L287.93,373.15 L288.43,373.28 L288.93,373.41 L289.44,373.54 L289.94,373.67 L290.44,373.80 L290.94,373.94 L291.44,374.07 L291.94,374.20 L292.44,374.34 L292.94,374.47 L293.44,374.61 L293.94,374.75 L294.44,374.89 L294.94,375.03 L295.45,375.17 L295.95,375.31 L296.45,375.45 L296.95,375.60 L297.45,375.74 L297.95,375.89 L298.45,376.04 L298.95,376.18 L299.45,376.33 L299.95,376.48 L300.45,376.63 L300.95,376.78 L301.45,376.94 L301.96,377.09 L302.46,377.24 L302.96,377.40 L303.46,377.56 L303.96,377.71 L304.46,377.87 L304.96,378.03 L305.46,378.19 L305.96,378.36 L306.46,378.52 L306.96,378.68 L307.46,378.85 L307.96,379.02 L308.46,379.18 L308.97,379.35 L309.47,379.52 L309.97,379.69 L310.47,379.87 L310.97,380.04 L311.47,380.22 L311.97,380.39 L312.47,380.57 L312.97,380.75 L313.47,380.93 L313.97,381.11 L314.47,381.29 L314.97,381.48 L315.47,381.66 L315.97,381.85 L316.47,382.03 L316.97,382.22 L317.47,382.41 L317.98,382.61 L318.48,382.80 L318.98,383.00 L319.48,383.19 L319.98,383.39 L320.48,383.59 L320.98,383.79 L321.48,383.99 L321.98,384.20 L322.48,384.40 L322.98,384.61 L323.48,384.82 L323.98,385.03 L324.48,385.24 L324.98,385.45 L325.48,385.67 L325.98,385.89 L326.48,386.11 L326.98,386.33 L327.48,386.55 L327.98,386.77 L328.48,387.00 L328.98,387.23 L329.48,387.46 L329.98,387.69 L330.48,387.92 L330.98,388.16 L331.48,388.39 L331.98,388.63 L332.48,388.87 L332.98,389.12 L333.47,389.36 L333.97,389.61 L334.47,389.86 L334.97,390.11 L335.47,390.36 L335.97,390.62 L336.47,390.88 L336.97,391.14 L337.47,391.40 L337.97,391.66 L338.47,391.93 L338.96,392.20 L339.46,392.47 L339.96,392.75 L340.46,393.02 L340.96,393.30 L341.46,393.59 L341.96,393.87 L342.45,394.16 L342.95,394.45 L343.45,394.74 L343.95,395.03 L344.45,395.33 L344.94,395.63 L345.44,395.93 L345.94,396.24 L346.44,396.55 L346.94,396.86 L347.43,397.17 L347.93,397.49 L348.43,397.81 L348.92,398.13 L349.42,398.46 L349.92,398.79 L350.42,399.12 L350.91,399.46 L351.41,399.80 L351.91,400.14 L352.40,400.48 L352.90,400.83 L353.40,401.18 L353.89,401.54 L354.39,401.90 L354.89,402.26 L355.38,402.62 L355.88,402.99 L356.38,403.37 L356.87,403.74 L357.37,404.12 L357.87,404.51 L358.36,404.89 L358.86,405.29 L359.35,405.68 L359.85,406.08 L360.35,406.48 L360.84,406.89 L361.34,407.30 L361.83,407.72 L362.33,408.13 L362.83,408.56 L363.32,408.99 L363.82,409.42 L364.31,409.85 L364.81,410.29 L365.31,410.74 L365.80,411.19 L366.30,411.64 L366.79,412.10 L367.29,412.57 L367.78,413.03 L368.28,413.51 L368.78,413.98 L369.27,414.47 L369.77,414.95 L370.27,415.45 L370.76,415.94 L371.26,416.44 L371.75,416.95 L372.25,417.46 L372.75,417.98 L373.24,418.50 L373.74,419.03 L374.24,419.57 L374.74,420.11 L375.23,420.65 L375.73,421.20 L376.23,421.76 L376.73,422.32 L377.22,422.88 L377.72,423.46 L378.22,424.03 L378.72,424.62 L379.22,425.21 L379.72,425.80 L380.22,426.41 L380.72,427.01 L381.22,427.63 L381.72,428.25 L382.22,428.87 L382.72,429.50 L383.22,430.14 L383.72,430.79 L384.23,431.44 L384.73,432.09 L385.23,432.76 L385.74,433.43 L386.24,434.10 L386.75,434.79 L387.25,435.48 L387.76,436.17 L388.26,436.87 L388.77,437.58 L389.28,438.30 L389.79,439.02 L390.30,439.75 L390.81,440.48 L391.32,441.22 L391.83,441.97 L392.34,442.73 L392.85,443.49 L393.37,444.25 L393.88,445.03 L394.40,445.81 L394.91,446.60 L395.43,447.39 L395.95,448.19 L396.47,449.00 L396.99,449.81 L397.51,450.63 L398.03,451.46 L398.56,452.29 L399.08,453.13 L399.60,453.98 L400.13,454.83 L400.66,455.69 L401.19,456.55 L401.71,457.43 L402.24,458.30 L402.77,459.19 L403.30,460.08 L403.83,460.98 L404.36,461.88 L404.89,462.79 L405.42,463.70 L405.96,464.63 L406.49,465.55 L407.02,466.49 L407.55,467.43 L408.08,468.37 L408.61,469.32 L409.14,470.28 L409.67,471.24 L410.19,472.21 L410.72,473.18 L411.25,474.16 L411.77,475.14 L412.29,476.13 L412.82,477.12 L413.34,478.12 L413.86,479.12 L414.37,480.13 L414.89,481.14 L415.40,482.15 L415.92,483.17 L416.43,484.20 L416.93,485.22 L417.44,486.25 L417.94,487.28 L418.44,488.32 L418.94,489.36 L419.43,490.40 L419.92,491.45 L420.41,492.49 L420.89,493.54 L421.37,494.59 L421.85,495.64 L422.33,496.69 L422.81,497.75 L423.28,498.80 L423.75,499.85 L424.22,500.90 L424.69,501.96 L425.15,503.01 L425.62,504.06 L426.08,505.10 L426.54,506.15 L427.01,507.19 L427.47,508.23 L427.93,509.27 L428.39,510.30 L428.85,511.33 L429.31,512.36 L429.77,513.38 L430.22,514.39 L430.68,515.41 L431.14,516.41 L431.60,517.41 L432.07,518.40 L432.53,519.39 L432.99,520.37 L433.45,521.35 L433.92,522.31 L434.39,523.27 L434.85,524.22 L435.32,525.16 L435.79,526.09 L436.26,527.02 L436.74,527.93 L437.21,528.84 L437.69,529.74 L438.17,530.62 L438.65,531.50 L439.13,532.37 L439.61,533.22 L440.10,534.07 L440.58,534.90 L441.07,535.72 L441.56,536.54 L442.05,537.34 L442.55,538.13 L443.04,538.90 L443.54,539.67 L444.03,540.43 L444.53,541.17 L445.03,541.90 L445.53,542.62 L446.03,543.32 L446.54,544.02 L447.04,544.70 L447.55,545.37 L448.05,546.03 L448.56,546.67 L449.07,547.31 L449.58,547.93 L450.09,548.53 L450.60,549.13 L451.11,549.71 L451.62,550.28 L452.13,550.84 L452.64,551.39 L453.15,551.92 L453.67,552.45 L454.18,552.96 L454.69,553.46 L455.20,553.94 L455.72,554.42 L456.23,554.88 L456.74,555.34 L457.26,555.78 L457.77,556.21 L458.28,556.63 L458.79,557.03 L459.31,557.43 L459.82,557.82 L460.33,558.19 L460.84,558.56 L461.35,558.91 L461.86,559.26 L462.37,559.60 L462.88,559.92 L463.39,560.24 L463.90,560.55 L464.41,560.84 L464.92,561.13 L465.43,561.41 L465.93,561.68 L466.44,561.95 L466.95,562.20 L467.45,562.45 L467.96,562.69 L468.47,562.92 L468.97,563.14 L469.48,563.35 L469.98,563.56 L470.49,563.76 L470.99,563.96 L471.49,564.14 L472.00,564.32 L472.50,564.50 L473.00,564.67 L473.50,564.83 L474.01,564.98 L474.51,565.13 L475.01,565.28 L475.51,565.42 L476.01,565.55 L476.51,565.68 L477.01,565.80 L477.51,565.92 L478.01,566.04 L478.51,566.14 L479.01,566.25 L479.51,566.35 L480.01,566.45 L480.51,566.54 L481.01,566.63 L481.51,566.71 L482.01,566.79 L482.51,566.87 L483.01,566.95 L483.50,567.02 L484.00,567.08 L484.50,567.15 L485.00,567.21 L485.50,567.27 L486.00,567.33 L486.49,567.38 L486.99,567.43 L487.49,567.48 L487.99,567.53 L488.49,567.57 L488.98,567.61 L489.48,567.65 L489.98,567.69 L490.48,567.73 L490.98,567.76 L491.47,567.79 L491.97,567.82 L492.47,567.85 L492.97,567.88 L493.47,567.90 L493.96,567.93 L494.46,567.95 L494.96,567.97 L495.46,567.99 L495.96,568.01 L496.45,568.03 L496.95,568.05 L497.45,568.07 L497.95,568.08 L498.45,568.10 L498.95,568.11 L499.44,568.12 L499.94,568.13 L500.44,568.15 L500.94,568.16 L501.44,568.17 L501.94,568.17 L502.44,568.18 L502.93,568.19 L503.43,568.20 L503.93,568.21 L504.43,568.21 L504.93,568.22 L505.43,568.23 L505.93,568.23 L506.43,568.24 L506.92,568.24 L507.42,568.25 L507.92,568.25 L508.42,568.26 L508.92,568.26 L509.42,568.26 L509.92,568.27 L510.42,568.27 L510.92,568.28 L511.42,568.28 L511.92,568.28 L512.42,568.29 L512.91,568.29 L513.41,568.30 L513.91,568.30 L514.41,568.30 L514.91,568.31 L515.41,568.31 L515.91,568.32 L516.41,568.32 L516.91,568.32 L517.41,568.33 L517.91,568.33 L518.41,568.34 L518.91,568.34 L519.41,568.35 L519.91,568.35 L520.41,568.36 L520.91,568.37 L521.41,568.37 L521.91,568.38 L522.41,568.38 L522.91,568.39 L523.40,568.40 L523.90,568.41 L524.40,568.41 L524.90,568.42 L525.40,568.43 L525.90,568.44 L526.40,568.45 L526.90,568.45 L527.40,568.46 L527.90,568.47 L528.40,568.48 L528.90,568.49 L529.40,568.50 L529.90,568.51 L530.40,568.52 L530.90,568.53 L531.40,568.54 L531.90,568.55 L532.40,568.56 L532.90,568.57 L533.40,568.59 L533.90,568.60 L534.40,568.61 L534.90,568.62 L535.40,568.63 L535.90,568.65 L536.40,568.66 L536.90,568.67 L537.40,568.68 L537.90,568.70 L538.40,568.71 L538.90,568.72 L539.40,568.74 L539.90,568.75 L540.40,568.76 L540.90,568.78 L541.40,568.79 L541.90,568.80 L542.40,568.82 L542.90,568.83 L543.40,568.85 L543.90,568.86 L544.40,568.88 L544.90,568.89 L545.40,568.91 L545.90,568.92 L546.40,568.94 L546.90,568.95 L547.40,568.97 L547.90,568.98 L548.40,569.00 L548.90,569.01 L549.40,569.03 L549.90,569.04 L550.40,569.06 L550.90,569.07 L551.40,569.09 L551.90,569.11 L552.40,569.12 L552.90,569.14 L553.40,569.15 L553.90,569.17 L554.40,569.18 L554.90,569.20 L555.40,569.22 L555.90,569.23 L556.40,569.25 L556.90,569.26 L557.40,569.28 L557.90,569.29 L558.40,569.31 L558.90,569.33 L559.40,569.34 L559.90,569.36 L560.40,569.37 L560.90,569.39 L561.40,569.40 L561.90,569.42 L562.40,569.43 L562.90,569.45 L563.40,569.46 L563.60,569.47" fill="none" stroke="#ee0011" stroke-width="2.6" stroke-opacity="1.0" stroke-linejoin="round" />
<path d="M232.39,361.74 L232.89,361.79 L233.39,361.84 L233.89,361.89 L234.39,361.94 L234.89,362.00 L235.39,362.06 L235.89,362.12 L236.39,362.18 L236.89,362.25 L237.39,362.31 L237.89,362.38 L238.39,362.45 L238.89,362.53 L239.39,362.60 L239.89,362.68 L240.39,362.75 L240.89,362.83 L241.39,362.91 L241.89,363.00 L242.39,363.08 L242.89,363.17 L243.39,363.26 L243.89,363.35 L244.39,363.44 L244.89,363.53 L245.39,363.63 L245.89,363.72 L246.39,363.82 L246.89,363.92 L247.39,364.02 L247.89,364.12 L248.39,364.22 L248.89,364.33 L249.39,364.44 L249.89,364.54 L250.39,364.65 L250.89,364.76 L251.39,364.87 L251.89,364.99 L252.39,365.10 L252.89,365.22 L253.39,365.33 L253.89,365.45 L254.39,365.57 L254.89,365.69 L255.39,365.81 L255.89,365.94 L256.39,366.06 L256.89,366.19 L257.39,366.31 L257.89,366.44 L258.39,366.57 L258.90,366.70 L259.40,366.83 L259.90,366.96 L260.40,367.10 L260.90,367.23 L261.40,367.37 L261.90,367.50 L262.40,367.64 L262.90,367.78 L263.40,367.92 L263.90,368.06 L264.40,368.20 L264.90,368.34 L265.40,368.49 L265.90,368.63 L266.40,368.78 L266.90,368.92 L267.40,369.07 L267.90,369.22 L268.40,369.37 L268.90,369.52 L269.40,369.67 L269.90,369.82 L270.40,369.98 L270.91,370.13 L271.41,370.28 L271.91,370.44 L272.41,370.60 L272.91,370.75 L273.41,370.91 L273.91,371.07 L274.41,371.23 L274.91,371.39 L275.41,371.56 L275.91,371.72 L276.41,371.88 L276.91,372.05 L277.41,372.21 L277.91,372.38 L278.41,372.55 L278.91,372.71 L279.41,372.88 L279.91,373.05 L280.42,373.22 L280.92,373.39 L281.42,373.57 L281.92,373.74 L282.42,373.91 L282.92,374.09 L283.42,374.26 L283.92,374.44 L284.42,374.62 L284.92,374.79 L285.42,374.97 L285.92,375.15 L286.42,375.33 L286.92,375.51 L287.42,375.70 L287.92,375.88 L288.42,376.06 L288.92,376.25 L289.42,376.43 L289.93,376.62 L290.43,376.80 L290.93,376.99 L291.43,377.18 L291.93,377.37 L292.43,377.56 L292.93,377.75 L293.43,377.94 L293.93,378.14 L294.43,378.33 L294.93,378.52 L295.43,378.72 L295.93,378.91 L296.43,379.11 L296.93,379.31 L297.43,379.51 L297.93,379.71 L298.43,379.91 L298.93,380.11 L299.43,380.31 L299.94,380.51 L300.44,380.72 L300.94,380.92 L301.44,381.13 L301.94,381.33 L302.44,381.54 L302.94,381.75 L303.44,381.96 L303.94,382.17 L304.44,382.38 L304.94,382.59 L305.44,382.80 L305.94,383.02 L306.44,383.23 L306.94,383.45 L307.44,383.66 L307.94,383.88 L308.44,384.10 L308.94,384.32 L309.44,384.54 L309.94,384.76 L310.44,384.98 L310.94,385.20 L311.44,385.43 L311.94,385.65 L312.44,385.88 L312.95,386.11 L313.45,386.34 L313.95,386.57 L314.45,386.80 L314.95,387.03 L315.45,387.26 L315.95,387.49 L316.45,387.73 L316.95,387.97 L317.45,388.20 L317.95,388.44 L318.45,388.68 L318.95,388.92 L319.45,389.16 L319.95,389.41 L320.45,389.65 L320.95,389.90 L321.45,390.14 L321.95,390.39 L322.45,390.64 L322.95,390.89 L323.45,391.14 L323.95,391.39 L324.45,391.65 L324.95,391.91 L325.45,392.16 L325.95,392.42 L326.45,392.68 L326.95,392.94 L327.45,393.20 L327.95,393.47 L328.45,393.73 L328.94,394.00 L329.44,394.27 L329.94,394.54 L330.44,394.81 L330.94,395.08 L331.44,395.36 L331.94,395.63 L332.44,395.91 L332.94,396.19 L333.44,396.47 L333.94,396.76 L334.44,397.04 L334.94,397.33 L335.44,397.61 L335.94,397.90 L336.44,398.20 L336.94,398.49 L337.44,398.78 L337.93,399.08 L338.43,399.38 L338.93,399.68 L339.43,399.98 L339.93,400.29 L340.43,400.59 L340.93,400.90 L341.43,401.21 L341.93,401.52 L342.42,401.84 L342.92,402.16 L343.42,402.48 L343.92,402.80 L344.42,403.12 L344.92,403.45 L345.42,403.77 L345.91,404.10 L346.41,404.44 L346.91,404.77 L347.41,405.11 L347.91,405.45 L348.41,405.79 L348.90,406.13 L349.40,406.48 L349.90,406.83 L350.40,407.18 L350.89,407.54 L351.39,407.90 L351.89,408.26 L352.39,408.62 L352.88,408.99 L353.38,409.35 L353.88,409.73 L354.38,410.10 L354.87,410.48 L355.37,410.86 L355.87,411.24 L356.36,411.63 L356.86,412.02 L357.36,412.41 L357.85,412.81 L358.35,413.21 L358.85,413.61 L359.34,414.01 L359.84,414.42 L360.34,414.84 L360.83,415.25 L361.33,415.67 L361.83,416.09 L362.32,416.52 L362.82,416.95 L363.31,417.38 L363.81,417.82 L364.31,418.26 L364.80,418.70 L365.30,419.15 L365.79,419.60 L366.29,420.06 L366.79,420.52 L367.28,420.98 L367.78,421.45 L368.27,421.92 L368.77,422.40 L369.27,422.88 L369.76,423.36 L370.26,423.85 L370.76,424.35 L371.25,424.84 L371.75,425.34 L372.25,425.85 L372.74,426.36 L373.24,426.88 L373.74,427.40 L374.23,427.92 L374.73,428.45 L375.23,428.98 L375.73,429.52 L376.22,430.06 L376.72,430.61 L377.22,431.17 L377.72,431.72 L378.22,432.29 L378.72,432.86 L379.21,433.43 L379.71,434.01 L380.21,434.59 L380.71,435.18 L381.21,435.77 L381.72,436.37 L382.22,436.98 L382.72,437.59 L383.22,438.20 L383.72,438.82 L384.23,439.45 L384.73,440.08 L385.23,440.72 L385.74,441.36 L386.24,442.01 L386.75,442.67 L387.25,443.33 L387.76,443.99 L388.27,444.67 L388.78,445.34 L389.28,446.03 L389.79,446.72 L390.30,447.41 L390.82,448.11 L391.33,448.82 L391.84,449.53 L392.35,450.25 L392.87,450.97 L393.38,451.70 L393.90,452.44 L394.42,453.18 L394.93,453.93 L395.45,454.68 L395.97,455.44 L396.49,456.21 L397.01,456.98 L397.53,457.76 L398.05,458.54 L398.58,459.33 L399.10,460.13 L399.62,460.93 L400.15,461.74 L400.67,462.56 L401.19,463.38 L401.72,464.20 L402.24,465.04 L402.77,465.88 L403.29,466.72 L403.82,467.57 L404.34,468.43 L404.87,469.29 L405.39,470.16 L405.92,471.03 L406.44,471.91 L406.97,472.79 L407.49,473.68 L408.01,474.58 L408.53,475.48 L409.05,476.38 L409.58,477.30 L410.10,478.21 L410.61,479.13 L411.13,480.06 L411.65,480.99 L412.17,481.92 L412.68,482.86 L413.19,483.80 L413.70,484.75 L414.21,485.70 L414.72,486.65 L415.23,487.61 L415.73,488.57 L416.24,489.54 L416.74,490.51 L417.24,491.48 L417.73,492.45 L418.23,493.43 L418.72,494.41 L419.21,495.38 L419.70,496.37 L420.19,497.35 L420.68,498.33 L421.16,499.32 L421.65,500.30 L422.13,501.29 L422.61,502.27 L423.09,503.26 L423.57,504.24 L424.05,505.22 L424.52,506.20 L425.00,507.18 L425.47,508.16 L425.95,509.14 L426.42,510.11 L426.90,511.08 L427.37,512.05 L427.85,513.01 L428.32,513.97 L428.79,514.92 L429.27,515.87 L429.74,516.82 L430.22,517.76 L430.69,518.70 L431.16,519.63 L431.64,520.55 L432.11,521.47 L432.59,522.38 L433.07,523.29 L433.55,524.18 L434.02,525.07 L434.50,525.96 L434.98,526.83 L435.46,527.70 L435.95,528.56 L436.43,529.41 L436.91,530.25 L437.40,531.09 L437.88,531.91 L438.37,532.73 L438.86,533.53 L439.35,534.33 L439.84,535.11 L440.33,535.89 L440.82,536.66 L441.32,537.41 L441.81,538.16 L442.30,538.89 L442.80,539.62 L443.29,540.33 L443.79,541.04 L444.29,541.73 L444.79,542.41 L445.29,543.08 L445.78,543.74 L446.28,544.39 L446.78,545.03 L447.29,545.66 L447.79,546.28 L448.29,546.88 L448.79,547.48 L449.29,548.06 L449.80,548.63 L450.30,549.19 L450.80,549.74 L451.31,550.28 L451.81,550.81 L452.32,551.33 L452.82,551.84 L453.33,552.33 L453.83,552.82 L454.34,553.29 L454.84,553.75 L455.35,554.21 L455.85,554.65 L456.36,555.08 L456.86,555.51 L457.37,555.92 L457.88,556.32 L458.38,556.71 L458.89,557.10 L459.39,557.47 L459.90,557.84 L460.40,558.19 L460.91,558.54 L461.41,558.87 L461.92,559.20 L462.42,559.52 L462.93,559.83 L463.43,560.13 L463.93,560.43 L464.44,560.71 L464.94,560.99 L465.45,561.26 L465.95,561.52 L466.45,561.78 L466.95,562.02 L467.46,562.26 L467.96,562.50 L468.46,562.72 L468.96,562.94 L469.46,563.16 L469.97,563.36 L470.47,563.56 L470.97,563.76 L471.47,563.95 L471.97,564.13 L472.47,564.31 L472.97,564.48 L473.47,564.64 L473.97,564.80 L474.47,564.96 L474.97,565.11 L475.47,565.25 L475.97,565.39 L476.47,565.53 L476.97,565.66 L477.47,565.79 L477.97,565.91 L478.47,566.03 L478.97,566.14 L479.47,566.25 L479.97,566.36 L480.47,566.46 L480.97,566.56 L481.47,566.66 L481.96,566.75 L482.46,566.84 L482.96,566.92 L483.46,567.01 L483.96,567.09 L484.46,567.16 L484.96,567.24 L485.46,567.31 L485.96,567.38 L486.45,567.44 L486.95,567.50 L487.45,567.57 L487.95,567.62 L488.45,567.68 L488.95,567.73 L489.45,567.79 L489.95,567.84 L490.45,567.88 L490.94,567.93 L491.44,567.97 L491.94,568.02 L492.44,568.06 L492.94,568.10 L493.44,568.13 L493.94,568.17 L494.44,568.20 L494.94,568.24 L495.43,568.27 L495.93,568.30 L496.43,568.33 L496.93,568.35 L497.43,568.38 L497.93,568.41 L498.43,568.43 L498.93,568.45 L499.43,568.48 L499.93,568.50 L500.43,568.52 L500.92,568.54 L501.42,568.55 L501.92,568.57 L502.42,568.59 L502.92,568.61 L503.42,568.62 L503.92,568.63 L504.42,568.65 L504.92,568.66 L505.42,568.67 L505.92,568.69 L506.42,568.70 L506.92,568.71 L507.42,568.72 L507.91,568.73 L508.41,568.74 L508.91,568.75 L509.41,568.75 L509.91,568.76 L510.41,568.77 L510.91,568.78 L511.41,568.78 L511.91,568.79 L512.41,568.80 L512.91,568.80 L513.41,568.81 L513.91,568.81 L514.41,568.82 L514.91,568.82 L515.41,568.83 L515.91,568.83 L516.41,568.83 L516.91,568.84 L517.41,568.84 L517.91,568.84 L518.41,568.85 L518.91,568.85 L519.41,568.85 L519.91,568.86 L520.41,568.86 L520.91,568.86 L521.41,568.86 L521.90,568.86 L522.40,568.87 L522.90,568.87 L523.40,568.87 L523.90,568.87 L524.40,568.87 L524.90,568.87 L525.40,568.88 L525.90,568.88 L526.40,568.88 L526.90,568.88 L527.40,568.88 L527.90,568.88 L528.40,568.88 L528.90,568.88 L529.40,568.88 L529.90,568.89 L530.40,568.89 L530.90,568.89 L531.40,568.89 L531.90,568.89 L532.40,568.89 L532.90,568.89 L533.40,568.89 L533.90,568.89 L534.40,568.89 L534.90,568.89 L535.40,568.89 L535.90,568.89 L536.40,568.90 L536.90,568.90 L537.40,568.90 L537.90,568.90 L538.40,568.90 L538.90,568.90 L539.40,568.90 L539.90,568.90 L540.40,568.90 L540.90,568.90 L541.40,568.90 L541.90,568.91 L542.40,568.91 L542.90,568.91 L543.40,568.91 L543.90,568.91 L544.40,568.91 L544.90,568.91 L545.40,568.91 L545.90,568.92 L546.40,568.92 L546.90,568.92 L547.40,568.92 L547.90,568.92 L548.40,568.92 L548.90,568.92 L549.40,568.93 L549.90,568.93 L550.40,568.93 L550.90,568.93 L551.40,568.93 L551.90,568.93 L552.40,568.94 L552.90,568.94 L553.40,568.94 L553.90,568.94 L554.40,568.94 L554.90,568.95 L555.40,568.95 L555.90,568.95 L556.40,568.95 L556.90,568.96 L557.40,568.96 L557.90,568.96 L558.40,568.96 L558.90,568.97 L559.40,568.97 L559.90,568.97 L560.40,568.97 L560.90,568.98 L561.40,568.98 L561.90,568.98 L562.40,568.98 L562.90,568.99 L563.40,568.99 L563.60,568.99" fill="none" stroke="#0000dd" stroke-width="1.6" stroke-opacity="1.0" stroke-linejoin="round" />
<path d="M232.39,360.92 L232.89,360.98 L233.39,361.05 L233.89,361.12 L234.39,361.19 L234.89,361.26 L235.39,361.33 L235.89,361.40 L236.39,361.48 L236.89,361.56 L237.39,361.63 L237.89,361.71 L238.39,361.79 L238.89,361.88 L239.39,361.96 L239.89,362.04 L240.39,362.13 L240.89,362.22 L241.39,362.31 L241.89,362.40 L242.39,362.49 L242.89,362.58 L243.39,362.67 L243.89,362.77 L244.39,362.86 L244.89,362.96 L245.39,363.06 L245.89,363.16 L246.39,363.26 L246.89,363.36 L247.39,363.46 L247.89,363.57 L248.39,363.67 L248.89,363.78 L249.39,363.89 L249.89,363.99 L250.39,364.10 L250.89,364.21 L251.39,364.32 L251.89,364.44 L252.40,364.55 L252.90,364.66 L253.40,364.78 L253.90,364.89 L254.40,365.01 L254.90,365.13 L255.40,365.25 L255.90,365.37 L256.40,365.49 L256.90,365.61 L257.40,365.73 L257.90,365.85 L258.40,365.98 L258.90,366.10 L259.40,366.23 L259.90,366.36 L260.40,366.48 L260.90,366.61 L261.40,366.74 L261.90,366.87 L262.40,367.00 L262.90,367.13 L263.40,367.27 L263.90,367.40 L264.40,367.53 L264.90,367.67 L265.40,367.80 L265.90,367.94 L266.40,368.08 L266.90,368.22 L267.40,368.35 L267.90,368.49 L268.40,368.63 L268.90,368.78 L269.40,368.92 L269.90,369.06 L270.40,369.20 L270.90,369.35 L271.40,369.49 L271.90,369.64 L272.40,369.78 L272.91,369.93 L273.41,370.08 L273.91,370.23 L274.41,370.38 L274.91,370.53 L275.41,370.68 L275.91,370.83 L276.41,370.98 L276.91,371.13 L277.41,371.29 L277.91,371.44 L278.41,371.60 L278.91,371.75 L279.41,371.91 L279.91,372.07 L280.41,372.22 L280.91,372.38 L281.41,372.54 L281.91,372.70 L282.41,372.86 L282.91,373.02 L283.41,373.18 L283.91,373.35 L284.41,373.51 L284.91,373.68 L285.41,373.84 L285.91,374.01 L286.41,374.17 L286.91,374.34 L287.41,374.51 L287.91,374.68 L288.42,374.85 L288.92,375.02 L289.42,375.19 L289.92,375.36 L290.42,375.53 L290.92,375.70 L291.42,375.88 L291.92,376.05 L292.42,376.23 L292.92,376.40 L293.42,376.58 L293.92,376.76 L294.42,376.94 L294.92,377.11 L295.42,377.29 L295.92,377.47 L296.42,377.66 L296.92,377.84 L297.42,378.02 L297.92,378.21 L298.42,378.39 L298.92,378.58 L299.42,378.76 L299.92,378.95 L300.42,379.14 L300.92,379.32 L301.42,379.51 L301.92,379.70 L302.42,379.90 L302.92,380.09 L303.42,380.28 L303.92,380.47 L304.42,380.67 L304.92,380.86 L305.43,381.06 L305.93,381.26 L306.43,381.46 L306.93,381.66 L307.43,381.86 L307.93,382.06 L308.43,382.26 L308.93,382.46 L309.43,382.67 L309.93,382.87 L310.43,383.08 L310.93,383.28 L311.43,383.49 L311.93,383.70 L312.43,383.91 L312.93,384.12 L313.43,384.33 L313.93,384.54 L314.43,384.76 L314.93,384.97 L315.43,385.19 L315.93,385.41 L316.43,385.63 L316.93,385.85 L317.43,386.07 L317.93,386.29 L318.43,386.51 L318.93,386.73 L319.43,386.96 L319.93,387.19 L320.43,387.41 L320.93,387.64 L321.43,387.87 L321.93,388.11 L322.43,388.34 L322.93,388.57 L323.43,388.81 L323.93,389.04 L324.43,389.28 L324.93,389.52 L325.43,389.76 L325.93,390.00 L326.43,390.25 L326.93,390.49 L327.43,390.74 L327.93,390.99 L328.43,391.24 L328.93,391.49 L329.43,391.74 L329.93,391.99 L330.43,392.25 L330.93,392.51 L331.43,392.77 L331.93,393.03 L332.43,393.29 L332.93,393.55 L333.42,393.82 L333.92,394.09 L334.42,394.36 L334.92,394.63 L335.42,394.90 L335.92,395.17 L336.42,395.45 L336.92,395.73 L337.42,396.01 L337.92,396.29 L338.42,396.57 L338.92,396.86 L339.42,397.15 L339.92,397.44 L340.42,397.73 L340.92,398.02 L341.42,398.32 L341.91,398.62 L342.41,398.92 L342.91,399.22 L343.41,399.53 L343.91,399.84 L344.41,400.15 L344.91,400.46 L345.41,400.77 L345.91,401.09 L346.41,401.41 L346.90,401.73 L347.40,402.06 L347.90,402.38 L348.40,402.71 L348.90,403.04 L349.40,403.38 L349.90,403.72 L350.39,404.06 L350.89,404.40 L351.39,404.75 L351.89,405.10 L352.39,405.45 L352.89,405.80 L353.38,406.16 L353.88,406.52 L354.38,406.89 L354.88,407.25 L355.38,407.62 L355.87,408.00 L356.37,408.37 L356.87,408.75 L357.37,409.14 L357.87,409.53 L358.36,409.92 L358.86,410.31 L359.36,410.71 L359.85,411.11 L360.35,411.51 L360.85,411.92 L361.35,412.33 L361.84,412.75 L362.34,413.17 L362.84,413.59 L363.33,414.02 L363.83,414.45 L364.33,414.89 L364.83,415.33 L365.32,415.77 L365.82,416.22 L366.32,416.67 L366.81,417.13 L367.31,417.59 L367.81,418.05 L368.30,418.52 L368.80,419.00 L369.30,419.48 L369.79,419.96 L370.29,420.45 L370.79,420.94 L371.28,421.44 L371.78,421.94 L372.28,422.45 L372.77,422.96 L373.27,423.47 L373.77,424.00 L374.26,424.52 L374.76,425.05 L375.26,425.59 L375.76,426.13 L376.25,426.68 L376.75,427.23 L377.25,427.79 L377.75,428.36 L378.25,428.93 L378.75,429.50 L379.24,430.08 L379.74,430.67 L380.24,431.26 L380.74,431.85 L381.24,432.46 L381.74,433.07 L382.24,433.68 L382.74,434.30 L383.24,434.93 L383.75,435.56 L384.25,436.20 L384.75,436.84 L385.25,437.49 L385.76,438.15 L386.26,438.81 L386.76,439.48 L387.27,440.16 L387.77,440.84 L388.28,441.52 L388.78,442.22 L389.29,442.92 L389.80,443.62 L390.31,444.34 L390.82,445.06 L391.33,445.78 L391.84,446.51 L392.35,447.25 L392.86,448.00 L393.37,448.75 L393.88,449.50 L394.40,450.27 L394.91,451.04 L395.43,451.82 L395.95,452.60 L396.47,453.39 L396.98,454.18 L397.50,454.99 L398.02,455.79 L398.54,456.61 L399.06,457.43 L399.59,458.26 L400.11,459.09 L400.63,459.93 L401.15,460.78 L401.68,461.64 L402.20,462.50 L402.72,463.36 L403.25,464.23 L403.77,465.11 L404.30,466.00 L404.82,466.89 L405.34,467.78 L405.87,468.69 L406.39,469.59 L406.92,470.51 L407.44,471.43 L407.96,472.35 L408.49,473.28 L409.01,474.22 L409.53,475.16 L410.05,476.10 L410.57,477.06 L411.09,478.01 L411.61,478.97 L412.12,479.94 L412.64,480.91 L413.15,481.88 L413.67,482.86 L414.18,483.84 L414.69,484.82 L415.20,485.81 L415.71,486.80 L416.21,487.80 L416.72,488.80 L417.22,489.80 L417.72,490.80 L418.21,491.81 L418.71,492.82 L419.20,493.83 L419.70,494.84 L420.19,495.85 L420.67,496.86 L421.16,497.88 L421.65,498.89 L422.13,499.91 L422.61,500.92 L423.09,501.93 L423.57,502.95 L424.05,503.96 L424.53,504.97 L425.01,505.98 L425.48,506.98 L425.96,507.98 L426.44,508.98 L426.91,509.98 L427.39,510.97 L427.86,511.96 L428.33,512.95 L428.81,513.93 L429.28,514.91 L429.75,515.88 L430.23,516.84 L430.70,517.80 L431.18,518.76 L431.65,519.71 L432.13,520.65 L432.60,521.58 L433.08,522.51 L433.56,523.43 L434.04,524.34 L434.51,525.25 L434.99,526.14 L435.48,527.03 L435.96,527.91 L436.44,528.78 L436.92,529.64 L437.41,530.50 L437.89,531.34 L438.38,532.17 L438.87,532.99 L439.36,533.81 L439.85,534.61 L440.34,535.40 L440.83,536.18 L441.32,536.96 L441.81,537.72 L442.31,538.47 L442.80,539.20 L443.30,539.93 L443.79,540.65 L444.29,541.36 L444.79,542.05 L445.29,542.73 L445.79,543.41 L446.29,544.07 L446.79,544.72 L447.29,545.35 L447.79,545.98 L448.29,546.60 L448.79,547.20 L449.29,547.79 L449.80,548.37 L450.30,548.94 L450.80,549.50 L451.31,550.05 L451.81,550.59 L452.32,551.11 L452.82,551.63 L453.33,552.13 L453.83,552.62 L454.34,553.10 L454.84,553.57 L455.35,554.03 L455.85,554.48 L456.36,554.92 L456.86,555.35 L457.37,555.76 L457.87,556.17 L458.38,556.57 L458.89,556.96 L459.39,557.34 L459.90,557.70 L460.40,558.06 L460.91,558.41 L461.41,558.75 L461.92,559.08 L462.42,559.41 L462.93,559.72 L463.43,560.03 L463.93,560.32 L464.44,560.61 L464.94,560.89 L465.44,561.17 L465.95,561.43 L466.45,561.69 L466.95,561.94 L467.46,562.18 L467.96,562.42 L468.46,562.65 L468.96,562.87 L469.46,563.09 L469.96,563.29 L470.47,563.50 L470.97,563.69 L471.47,563.88 L471.97,564.07 L472.47,564.25 L472.97,564.42 L473.47,564.59 L473.97,564.75 L474.47,564.91 L474.97,565.06 L475.47,565.20 L475.97,565.35 L476.47,565.48 L476.97,565.62 L477.47,565.74 L477.97,565.87 L478.47,565.99 L478.97,566.10 L479.47,566.22 L479.97,566.32 L480.47,566.43 L480.97,566.53 L481.46,566.62 L481.96,566.72 L482.46,566.81 L482.96,566.89 L483.46,566.98 L483.96,567.06 L484.46,567.14 L484.96,567.21 L485.46,567.28 L485.95,567.35 L486.45,567.42 L486.95,567.48 L487.45,567.54 L487.95,567.60 L488.45,567.66 L488.95,567.72 L489.45,567.77 L489.95,567.82 L490.44,567.87 L490.94,567.91 L491.44,567.96 L491.94,568.00 L492.44,568.04 L492.94,568.08 L493.44,568.12 L493.94,568.16 L494.44,568.19 L494.93,568.23 L495.43,568.26 L495.93,568.29 L496.43,568.32 L496.93,568.35 L497.43,568.37 L497.93,568.40 L498.43,568.43 L498.93,568.45 L499.43,568.47 L499.93,568.49 L500.42,568.51 L500.92,568.53 L501.42,568.55 L501.92,568.57 L502.42,568.59 L502.92,568.60 L503.42,568.62 L503.92,568.63 L504.42,568.65 L504.92,568.66 L505.42,568.68 L505.92,568.69 L506.42,568.70 L506.92,568.71 L507.42,568.72 L507.91,568.73 L508.41,568.74 L508.91,568.75 L509.41,568.76 L509.91,568.77 L510.41,568.77 L510.91,568.78 L511.41,568.79 L511.91,568.80 L512.41,568.80 L512.91,568.81 L513.41,568.81 L513.91,568.82 L514.41,568.82 L514.91,568.83 L515.41,568.83 L515.91,568.84 L516.41,568.84 L516.91,568.85 L517.41,568.85 L517.91,568.85 L518.41,568.86 L518.91,568.86 L519.41,568.86 L519.91,568.86 L520.41,568.87 L520.91,568.87 L521.41,568.87 L521.90,568.87 L522.40,568.88 L522.90,568.88 L523.40,568.88 L523.90,568.88 L524.40,568.88 L524.90,568.88 L525.40,568.89 L525.90,568.89 L526.40,568.89 L526.90,568.89 L527.40,568.89 L527.90,568.89 L528.40,568.89 L528.90,568.89 L529.40,568.90 L529.90,568.90 L530.40,568.90 L530.90,568.90 L531.40,568.90 L531.90,568.90 L532.40,568.90 L532.90,568.90 L533.40,568.90 L533.90,568.90 L534.40,568.90 L534.90,568.90 L535.40,568.91 L535.90,568.91 L536.40,568.91 L536.90,568.91 L537.40,568.91 L537.90,568.91 L538.40,568.91 L538.90,568.91 L539.40,568.91 L539.90,568.91 L540.40,568.91 L540.90,568.91 L541.40,568.92 L541.90,568.92 L542.40,568.92 L542.90,568.92 L543.40,568.92 L543.90,568.92 L544.40,568.92 L544.90,568.92 L545.40,568.92 L545.90,568.93 L546.40,568.93 L546.90,568.93 L547.40,568.93 L547.90,568.93 L548.40,568.93 L548.90,568.93 L549.40,568.94 L549.90,568.94 L550.40,568.94 L550.90,568.94 L551.40,568.94 L551.90,568.94 L552.40,568.95 L552.90,568.95 L553.40,568.95 L553.90,568.95 L554.40,568.95 L554.90,568.96 L555.40,568.96 L555.90,568.96 L556.40,568.96 L556.90,568.97 L557.40,568.97 L557.90,568.97 L558.40,568.97 L558.90,568.98 L559.40,568.98 L559.90,568.98 L560.40,568.98 L560.90,568.99 L561.40,568.99 L561.90,568.99 L562.40,568.99 L562.90,569.00 L563.40,569.00 L563.60,569.00" fill="none" stroke="#0000dd" stroke-width="1.6" stroke-opacity="1.0" stroke-linejoin="round" />
<path d="M232.40,364.18 L232.90,364.20 L233.40,364.22 L233.90,364.25 L234.40,364.27 L234.90,364.30 L235.40,364.32 L235.90,364.35 L236.40,364.38 L236.89,364.41 L237.39,364.45 L237.89,364.48 L238.39,364.52 L238.89,364.56 L239.39,364.60 L239.89,364.64 L240.39,364.68 L240.89,364.72 L241.39,364.77 L241.89,364.81 L242.39,364.86 L242.89,364.91 L243.39,364.96 L243.89,365.01 L244.39,365.06 L244.89,365.12 L245.39,365.17 L245.89,365.23 L246.39,365.29 L246.89,365.35 L247.39,365.41 L247.89,365.47 L248.39,365.53 L248.89,365.60 L249.39,365.66 L249.89,365.73 L250.39,365.79 L250.89,365.86 L251.39,365.93 L251.89,366.00 L252.39,366.07 L252.89,366.15 L253.39,366.22 L253.89,366.30 L254.39,366.37 L254.89,366.45 L255.39,366.53 L255.89,366.61 L256.39,366.69 L256.89,366.77 L257.39,366.85 L257.89,366.94 L258.39,367.02 L258.89,367.11 L259.39,367.19 L259.89,367.28 L260.39,367.37 L260.89,367.46 L261.39,367.55 L261.89,367.64 L262.39,367.73 L262.89,367.82 L263.39,367.92 L263.89,368.01 L264.39,368.11 L264.89,368.21 L265.39,368.30 L265.89,368.40 L266.39,368.50 L266.89,368.60 L267.39,368.70 L267.89,368.81 L268.38,368.91 L268.88,369.01 L269.38,369.12 L269.88,369.22 L270.38,369.33 L270.88,369.44 L271.38,369.54 L271.88,369.65 L272.38,369.76 L272.88,369.87 L273.38,369.98 L273.88,370.10 L274.38,370.21 L274.88,370.32 L275.38,370.44 L275.88,370.55 L276.38,370.67 L276.88,370.79 L277.38,370.90 L277.88,371.02 L278.38,371.14 L278.88,371.26 L279.38,371.38 L279.88,371.50 L280.38,371.63 L280.88,371.75 L281.38,371.87 L281.88,372.00 L282.38,372.12 L282.88,372.25 L283.38,372.38 L283.88,372.50 L284.38,372.63 L284.89,372.76 L285.39,372.89 L285.89,373.02 L286.39,373.15 L286.89,373.28 L287.39,373.42 L287.89,373.55 L288.39,373.69 L288.89,373.82 L289.39,373.96 L289.89,374.09 L290.39,374.23 L290.89,374.37 L291.39,374.51 L291.89,374.65 L292.39,374.79 L292.89,374.93 L293.39,375.07 L293.89,375.21 L294.39,375.35 L294.89,375.50 L295.39,375.64 L295.89,375.79 L296.39,375.93 L296.89,376.08 L297.39,376.23 L297.89,376.38 L298.39,376.53 L298.89,376.67 L299.39,376.83 L299.89,376.98 L300.39,377.13 L300.89,377.28 L301.39,377.43 L301.89,377.59 L302.39,377.74 L302.89,377.90 L303.39,378.06 L303.89,378.21 L304.39,378.37 L304.89,378.53 L305.39,378.69 L305.89,378.85 L306.39,379.01 L306.89,379.17 L307.39,379.33 L307.89,379.50 L308.39,379.66 L308.89,379.83 L309.39,379.99 L309.89,380.16 L310.39,380.33 L310.89,380.49 L311.39,380.66 L311.89,380.83 L312.39,381.00 L312.89,381.17 L313.39,381.34 L313.89,381.52 L314.39,381.69 L314.89,381.87 L315.39,382.04 L315.89,382.22 L316.39,382.39 L316.89,382.57 L317.39,382.75 L317.89,382.93 L318.39,383.11 L318.90,383.29 L319.40,383.47 L319.90,383.66 L320.40,383.84 L320.90,384.02 L321.40,384.21 L321.90,384.40 L322.40,384.58 L322.90,384.77 L323.40,384.96 L323.90,385.15 L324.40,385.34 L324.90,385.53 L325.40,385.73 L325.90,385.92 L326.40,386.11 L326.90,386.31 L327.40,386.51 L327.90,386.70 L328.40,386.90 L328.90,387.10 L329.40,387.30 L329.90,387.50 L330.40,387.71 L330.90,387.91 L331.40,388.12 L331.90,388.32 L332.40,388.53 L332.90,388.74 L333.40,388.94 L333.90,389.15 L334.40,389.37 L334.90,389.58 L335.40,389.79 L335.90,390.01 L336.41,390.22 L336.91,390.44 L337.41,390.65 L337.91,390.87 L338.41,391.09 L338.91,391.32 L339.41,391.54 L339.91,391.76 L340.41,391.99 L340.91,392.21 L341.41,392.44 L341.91,392.67 L342.41,392.90 L342.91,393.13 L343.41,393.36 L343.91,393.59 L344.41,393.83 L344.91,394.07 L345.41,394.30 L345.91,394.54 L346.41,394.78 L346.91,395.02 L347.41,395.27 L347.91,395.51 L348.41,395.76 L348.91,396.00 L349.41,396.25 L349.92,396.50 L350.42,396.76 L350.92,397.01 L351.42,397.26 L351.92,397.52 L352.42,397.78 L352.92,398.04 L353.42,398.30 L353.92,398.56 L354.42,398.82 L354.92,399.09 L355.42,399.36 L355.92,399.63 L356.42,399.90 L356.92,400.17 L357.42,400.44 L357.92,400.72 L358.42,401.00 L358.92,401.28 L359.42,401.56 L359.92,401.84 L360.42,402.12 L360.92,402.41 L361.43,402.70 L361.93,402.99 L362.43,403.28 L362.93,403.58 L363.43,403.87 L363.93,404.17 L364.43,404.47 L364.93,404.77 L365.43,405.08 L365.93,405.38 L366.43,405.69 L366.93,406.00 L367.43,406.31 L367.93,406.63 L368.43,406.95 L368.93,407.27 L369.43,407.59 L369.93,407.91 L370.43,408.24 L370.93,408.57 L371.44,408.90 L371.94,409.23 L372.44,409.56 L372.94,409.90 L373.44,410.24 L373.94,410.59 L374.44,410.93 L374.94,411.28 L375.44,411.63 L375.94,411.98 L376.44,412.34 L376.94,412.69 L377.44,413.06 L377.94,413.42 L378.44,413.79 L378.94,414.15 L379.44,414.53 L379.94,414.90 L380.44,415.28 L380.94,415.66 L381.45,416.04 L381.95,416.43 L382.45,416.82 L382.95,417.21 L383.45,417.61 L383.95,418.00 L384.45,418.41 L384.95,418.81 L385.45,419.22 L385.95,419.63 L386.45,420.04 L386.95,420.46 L387.45,420.88 L387.95,421.31 L388.45,421.73 L388.95,422.17 L389.45,422.60 L389.95,423.04 L390.45,423.48 L390.95,423.92 L391.45,424.37 L391.95,424.83 L392.45,425.28 L392.96,425.74 L393.46,426.21 L393.96,426.67 L394.46,427.14 L394.96,427.62 L395.46,428.10 L395.96,428.58 L396.46,429.07 L396.96,429.56 L397.46,430.05 L397.96,430.55 L398.46,431.06 L398.96,431.56 L399.46,432.08 L399.96,432.59 L400.46,433.11 L400.96,433.64 L401.46,434.16 L401.96,434.70 L402.46,435.24 L402.96,435.78 L403.46,436.32 L403.96,436.88 L404.46,437.43 L404.96,437.99 L405.46,438.56 L405.96,439.13 L406.46,439.70 L406.96,440.28 L407.46,440.86 L407.96,441.45 L408.46,442.05 L408.96,442.64 L409.46,443.25 L409.96,443.86 L410.46,444.47 L410.96,445.09 L411.46,445.71 L411.96,446.34 L412.46,446.97 L412.96,447.61 L413.46,448.25 L413.96,448.90 L414.46,449.56 L414.96,450.22 L415.46,450.88 L415.96,451.55 L416.46,452.23 L416.95,452.91 L417.45,453.59 L417.95,454.28 L418.45,454.98 L418.95,455.68 L419.45,456.39 L419.95,457.10 L420.45,457.82 L420.95,458.54 L421.45,459.27 L421.95,460.00 L422.45,460.74 L422.94,461.48 L423.44,462.23 L423.94,462.99 L424.44,463.75 L424.94,464.51 L425.44,465.29 L425.94,466.06 L426.44,466.84 L426.93,467.63 L427.43,468.42 L427.93,469.22 L428.43,470.02 L428.93,470.83 L429.43,471.64 L429.92,472.46 L430.42,473.28 L430.92,474.11 L431.42,474.94 L431.92,475.78 L432.41,476.62 L432.91,477.47 L433.41,478.32 L433.91,479.18 L434.41,480.04 L434.90,480.91 L435.40,481.78 L435.90,482.65 L436.40,483.53 L436.89,484.41 L437.39,485.30 L437.89,486.19 L438.38,487.08 L438.88,487.98 L439.38,488.88 L439.88,489.78 L440.37,490.69 L440.87,491.60 L441.37,492.52 L441.86,493.44 L442.36,494.36 L442.86,495.28 L443.36,496.20 L443.85,497.13 L444.35,498.06 L444.85,498.99 L445.34,499.93 L445.84,500.86 L446.34,501.80 L446.84,502.74 L447.33,503.67 L447.83,504.61 L448.33,505.55 L448.83,506.50 L449.33,507.44 L449.82,508.38 L450.32,509.32 L450.82,510.26 L451.32,511.20 L451.82,512.14 L452.32,513.08 L452.81,514.01 L453.31,514.95 L453.81,515.88 L454.31,516.81 L454.81,517.74 L455.31,518.67 L455.81,519.59 L456.31,520.51 L456.81,521.43 L457.31,522.34 L457.81,523.25 L458.31,524.16 L458.81,525.06 L459.31,525.96 L459.81,526.85 L460.31,527.74 L460.82,528.62 L461.32,529.49 L461.82,530.36 L462.32,531.23 L462.82,532.08 L463.33,532.93 L463.83,533.77 L464.33,534.61 L464.83,535.44 L465.34,536.26 L465.84,537.07 L466.34,537.87 L466.85,538.67 L467.35,539.46 L467.86,540.23 L468.36,541.00 L468.86,541.76 L469.37,542.51 L469.87,543.25 L470.38,543.98 L470.88,544.70 L471.39,545.41 L471.89,546.10 L472.40,546.79 L472.90,547.47 L473.41,548.13 L473.91,548.78 L474.42,549.43 L474.93,550.06 L475.43,550.68 L475.94,551.28 L476.44,551.88 L476.95,552.46 L477.45,553.03 L477.96,553.59 L478.46,554.14 L478.97,554.67 L479.47,555.20 L479.98,555.71 L480.48,556.21 L480.99,556.69 L481.50,557.17 L482.00,557.63 L482.51,558.08 L483.01,558.51 L483.51,558.94 L484.02,559.35 L484.52,559.75 L485.03,560.14 L485.53,560.52 L486.03,560.88 L486.54,561.23 L487.04,561.58 L487.54,561.91 L488.05,562.23 L488.55,562.53 L489.05,562.83 L489.55,563.12 L490.06,563.39 L490.56,563.66 L491.06,563.92 L491.56,564.16 L492.06,564.40 L492.56,564.62 L493.06,564.84 L493.56,565.05 L494.06,565.25 L494.56,565.44 L495.06,565.62 L495.56,565.79 L496.05,565.96 L496.55,566.11 L497.05,566.26 L497.55,566.40 L498.05,566.54 L498.54,566.67 L499.04,566.79 L499.54,566.90 L500.04,567.01 L500.53,567.11 L501.03,567.21 L501.53,567.30 L502.02,567.39 L502.52,567.47 L503.02,567.55 L503.51,567.62 L504.01,567.68 L504.51,567.75 L505.00,567.81 L505.50,567.86 L505.99,567.91 L506.49,567.96 L506.99,568.00 L507.48,568.04 L507.98,568.08 L508.48,568.12 L508.97,568.15 L509.47,568.18 L509.97,568.21 L510.46,568.23 L510.96,568.25 L511.46,568.28 L511.95,568.29 L512.45,568.31 L512.95,568.33 L513.45,568.34 L513.94,568.36 L514.44,568.37 L514.94,568.38 L515.44,568.39 L515.93,568.40 L516.43,568.40 L516.93,568.41 L517.43,568.42 L517.93,568.42 L518.42,568.43 L518.92,568.43 L519.42,568.44 L519.92,568.44 L520.42,568.44 L520.92,568.45 L521.42,568.45 L521.91,568.45 L522.41,568.46 L522.91,568.46 L523.41,568.46 L523.91,568.47 L524.41,568.47 L524.91,568.47 L525.41,568.47 L525.91,568.48 L526.41,568.48 L526.91,568.48 L527.41,568.49 L527.91,568.49 L528.40,568.50 L528.90,568.50 L529.40,568.50 L529.90,568.51 L530.40,568.51 L530.90,568.52 L531.40,568.52 L531.90,568.53 L532.40,568.53 L532.90,568.54 L533.40,568.54 L533.90,568.55 L534.40,568.56 L534.90,568.56 L535.40,568.57 L535.90,568.58 L536.40,568.58 L536.90,568.59 L537.40,568.60 L537.90,568.61 L538.40,568.62 L538.90,568.62 L539.40,568.63 L539.90,568.64 L540.40,568.65 L540.90,568.66 L541.40,568.67 L541.90,568.68 L542.40,568.69 L542.90,568.70 L543.40,568.71 L543.90,568.72 L544.40,568.73 L544.90,568.74 L545.40,568.75 L545.90,568.77 L546.40,568.78 L546.90,568.79 L547.40,568.80 L547.90,568.81 L548.40,568.82 L548.90,568.84 L549.40,568.85 L549.90,568.86 L550.40,568.87 L550.90,568.89 L551.40,568.90 L551.90,568.91 L552.40,568.93 L552.90,568.94 L553.40,568.95 L553.90,568.97 L554.40,568.98 L554.90,568.99 L555.40,569.01 L555.90,569.02 L556.40,569.03 L556.90,569.05 L557.40,569.06 L557.90,569.08 L558.40,569.09 L558.90,569.10 L559.40,569.12 L559.90,569.13 L560.40,569.15 L560.90,569.16 L561.40,569.17 L561.90,569.19 L562.40,569.20 L562.90,569.22 L563.40,569.23 L563.60,569.24" fill="none" stroke="#b040b0" stroke-width="1.3" stroke-dasharray="2.8,2.7" stroke-opacity="1.0" stroke-linejoin="round" />
<path d="M232.38,364.26 L232.88,364.28 L233.38,364.30 L233.88,364.33 L234.38,364.35 L234.87,364.37 L235.37,364.40 L235.87,364.43 L236.37,364.45 L236.87,364.48 L237.37,364.51 L237.87,364.55 L238.37,364.58 L238.87,364.61 L239.37,364.65 L239.87,364.69 L240.37,364.72 L240.86,364.76 L241.36,364.80 L241.86,364.84 L242.36,364.89 L242.86,364.93 L243.36,364.98 L243.86,365.02 L244.36,365.07 L244.86,365.12 L245.36,365.17 L245.86,365.22 L246.36,365.27 L246.86,365.32 L247.36,365.37 L247.86,365.43 L248.36,365.48 L248.86,365.54 L249.36,365.60 L249.86,365.65 L250.36,365.71 L250.86,365.77 L251.36,365.83 L251.86,365.90 L252.36,365.96 L252.86,366.02 L253.36,366.09 L253.86,366.15 L254.36,366.22 L254.87,366.29 L255.37,366.35 L255.87,366.42 L256.37,366.49 L256.87,366.57 L257.37,366.64 L257.87,366.71 L258.37,366.78 L258.87,366.86 L259.37,366.93 L259.87,367.01 L260.37,367.09 L260.88,367.16 L261.38,367.24 L261.88,367.32 L262.38,367.40 L262.88,367.48 L263.38,367.56 L263.88,367.65 L264.38,367.73 L264.88,367.81 L265.39,367.90 L265.89,367.98 L266.39,368.07 L266.89,368.16 L267.39,368.24 L267.89,368.33 L268.39,368.42 L268.90,368.51 L269.40,368.60 L269.90,368.70 L270.40,368.79 L270.90,368.88 L271.40,368.97 L271.90,369.07 L272.41,369.16 L272.91,369.26 L273.41,369.36 L273.91,369.46 L274.41,369.55 L274.91,369.65 L275.42,369.75 L275.92,369.85 L276.42,369.95 L276.92,370.05 L277.42,370.16 L277.93,370.26 L278.43,370.36 L278.93,370.47 L279.43,370.57 L279.93,370.68 L280.44,370.79 L280.94,370.89 L281.44,371.00 L281.94,371.11 L282.44,371.22 L282.95,371.33 L283.45,371.44 L283.95,371.55 L284.45,371.67 L284.95,371.78 L285.46,371.89 L285.96,372.01 L286.46,372.12 L286.96,372.24 L287.46,372.35 L287.97,372.47 L288.47,372.59 L288.97,372.71 L289.47,372.83 L289.98,372.95 L290.48,373.07 L290.98,373.19 L291.48,373.31 L291.98,373.43 L292.49,373.56 L292.99,373.68 L293.49,373.81 L293.99,373.93 L294.50,374.06 L295.00,374.19 L295.50,374.31 L296.00,374.44 L296.50,374.57 L297.01,374.70 L297.51,374.83 L298.01,374.96 L298.51,375.10 L299.02,375.23 L299.52,375.36 L300.02,375.50 L300.52,375.63 L301.02,375.77 L301.53,375.90 L302.03,376.04 L302.53,376.18 L303.03,376.32 L303.54,376.46 L304.04,376.60 L304.54,376.74 L305.04,376.88 L305.54,377.02 L306.05,377.17 L306.55,377.31 L307.05,377.46 L307.55,377.60 L308.06,377.75 L308.56,377.90 L309.06,378.04 L309.56,378.19 L310.06,378.34 L310.57,378.49 L311.07,378.65 L311.57,378.80 L312.07,378.95 L312.57,379.11 L313.08,379.26 L313.58,379.42 L314.08,379.57 L314.58,379.73 L315.08,379.89 L315.58,380.05 L316.09,380.21 L316.59,380.37 L317.09,380.53 L317.59,380.69 L318.09,380.86 L318.60,381.02 L319.10,381.19 L319.60,381.35 L320.10,381.52 L320.60,381.69 L321.10,381.86 L321.60,382.03 L322.11,382.20 L322.61,382.37 L323.11,382.55 L323.61,382.72 L324.11,382.90 L324.61,383.07 L325.11,383.25 L325.61,383.43 L326.12,383.61 L326.62,383.79 L327.12,383.97 L327.62,384.15 L328.12,384.33 L328.62,384.52 L329.12,384.70 L329.62,384.89 L330.12,385.08 L330.62,385.27 L331.12,385.46 L331.62,385.65 L332.12,385.84 L332.62,386.03 L333.13,386.23 L333.63,386.42 L334.13,386.62 L334.63,386.82 L335.13,387.02 L335.63,387.22 L336.13,387.42 L336.63,387.62 L337.13,387.83 L337.62,388.03 L338.12,388.24 L338.62,388.45 L339.12,388.66 L339.62,388.87 L340.12,389.08 L340.62,389.29 L341.12,389.51 L341.62,389.73 L342.12,389.94 L342.62,390.16 L343.11,390.38 L343.61,390.60 L344.11,390.83 L344.61,391.05 L345.11,391.28 L345.61,391.51 L346.10,391.74 L346.60,391.97 L347.10,392.20 L347.60,392.43 L348.09,392.67 L348.59,392.90 L349.09,393.14 L349.59,393.38 L350.08,393.62 L350.58,393.87 L351.08,394.11 L351.57,394.36 L352.07,394.61 L352.57,394.86 L353.06,395.11 L353.56,395.36 L354.05,395.62 L354.55,395.87 L355.04,396.13 L355.54,396.39 L356.03,396.66 L356.53,396.92 L357.02,397.18 L357.52,397.45 L358.01,397.72 L358.51,397.99 L359.00,398.27 L359.50,398.54 L359.99,398.82 L360.48,399.10 L360.98,399.38 L361.47,399.66 L361.96,399.94 L362.46,400.23 L362.95,400.52 L363.44,400.81 L363.94,401.10 L364.43,401.40 L364.92,401.69 L365.41,401.99 L365.91,402.29 L366.40,402.59 L366.89,402.90 L367.38,403.21 L367.87,403.52 L368.37,403.83 L368.86,404.14 L369.35,404.46 L369.84,404.77 L370.33,405.09 L370.82,405.42 L371.31,405.74 L371.80,406.07 L372.29,406.40 L372.78,406.73 L373.27,407.06 L373.76,407.40 L374.25,407.74 L374.74,408.08 L375.23,408.43 L375.72,408.77 L376.21,409.12 L376.70,409.47 L377.19,409.83 L377.68,410.18 L378.17,410.54 L378.66,410.90 L379.15,411.27 L379.64,411.64 L380.13,412.01 L380.62,412.38 L381.11,412.75 L381.60,413.13 L382.08,413.51 L382.57,413.90 L383.06,414.28 L383.55,414.67 L384.04,415.07 L384.53,415.46 L385.02,415.86 L385.51,416.26 L386.00,416.67 L386.48,417.08 L386.97,417.49 L387.46,417.90 L387.95,418.32 L388.44,418.74 L388.93,419.16 L389.42,419.59 L389.91,420.02 L390.40,420.45 L390.89,420.89 L391.38,421.33 L391.86,421.78 L392.35,422.22 L392.84,422.67 L393.33,423.13 L393.82,423.59 L394.32,424.05 L394.81,424.51 L395.30,424.98 L395.79,425.46 L396.28,425.93 L396.77,426.41 L397.26,426.90 L397.76,427.38 L398.25,427.88 L398.74,428.37 L399.23,428.87 L399.73,429.38 L400.22,429.88 L400.72,430.40 L401.21,430.91 L401.71,431.43 L402.20,431.96 L402.70,432.48 L403.20,433.02 L403.70,433.55 L404.19,434.10 L404.69,434.64 L405.19,435.19 L405.69,435.75 L406.19,436.30 L406.69,436.87 L407.20,437.44 L407.70,438.01 L408.20,438.59 L408.71,439.17 L409.21,439.75 L409.72,440.34 L410.23,440.94 L410.74,441.54 L411.25,442.15 L411.76,442.76 L412.27,443.37 L412.78,443.99 L413.29,444.61 L413.81,445.24 L414.33,445.88 L414.84,446.52 L415.36,447.16 L415.88,447.81 L416.41,448.46 L416.93,449.12 L417.45,449.78 L417.98,450.45 L418.51,451.13 L419.04,451.80 L419.57,452.49 L420.10,453.18 L420.63,453.87 L421.17,454.57 L421.71,455.27 L422.24,455.98 L422.78,456.70 L423.32,457.42 L423.86,458.15 L424.41,458.88 L424.95,459.62 L425.49,460.36 L426.04,461.11 L426.58,461.87 L427.13,462.63 L427.67,463.40 L428.22,464.17 L428.77,464.95 L429.31,465.74 L429.86,466.53 L430.41,467.33 L430.95,468.13 L431.50,468.94 L432.04,469.76 L432.59,470.58 L433.13,471.41 L433.67,472.24 L434.22,473.08 L434.76,473.93 L435.29,474.78 L435.83,475.64 L436.37,476.51 L436.90,477.38 L437.43,478.26 L437.96,479.14 L438.49,480.03 L439.01,480.93 L439.53,481.83 L440.05,482.74 L440.57,483.66 L441.08,484.58 L441.59,485.50 L442.09,486.43 L442.59,487.37 L443.09,488.32 L443.58,489.27 L444.07,490.22 L444.55,491.18 L445.03,492.15 L445.50,493.12 L445.97,494.09 L446.44,495.07 L446.90,496.05 L447.36,497.04 L447.81,498.03 L448.27,499.03 L448.72,500.02 L449.16,501.02 L449.61,502.02 L450.05,503.03 L450.49,504.03 L450.93,505.04 L451.36,506.05 L451.80,507.05 L452.23,508.06 L452.67,509.07 L453.10,510.08 L453.53,511.08 L453.96,512.09 L454.40,513.09 L454.83,514.09 L455.27,515.09 L455.70,516.09 L456.14,517.08 L456.58,518.07 L457.02,519.05 L457.46,520.04 L457.91,521.01 L458.36,521.99 L458.81,522.95 L459.26,523.91 L459.72,524.87 L460.17,525.82 L460.64,526.76 L461.10,527.69 L461.57,528.62 L462.05,529.54 L462.52,530.45 L463.00,531.35 L463.48,532.25 L463.97,533.13 L464.46,534.01 L464.95,534.87 L465.45,535.73 L465.95,536.58 L466.45,537.41 L466.96,538.24 L467.47,539.05 L467.99,539.85 L468.50,540.65 L469.02,541.43 L469.54,542.19 L470.07,542.95 L470.59,543.70 L471.12,544.43 L471.65,545.15 L472.18,545.86 L472.71,546.55 L473.25,547.24 L473.78,547.91 L474.31,548.56 L474.85,549.21 L475.38,549.84 L475.92,550.46 L476.46,551.07 L476.99,551.66 L477.53,552.24 L478.06,552.81 L478.60,553.36 L479.13,553.91 L479.67,554.43 L480.20,554.95 L480.74,555.45 L481.27,555.94 L481.80,556.41 L482.33,556.88 L482.86,557.33 L483.39,557.76 L483.92,558.19 L484.45,558.60 L484.98,558.99 L485.50,559.38 L486.03,559.75 L486.55,560.11 L487.07,560.46 L487.59,560.80 L488.11,561.13 L488.63,561.44 L489.15,561.74 L489.66,562.03 L490.17,562.31 L490.69,562.58 L491.20,562.84 L491.71,563.09 L492.22,563.33 L492.73,563.56 L493.23,563.77 L493.74,563.98 L494.24,564.18 L494.74,564.38 L495.25,564.56 L495.75,564.73 L496.25,564.90 L496.75,565.06 L497.24,565.21 L497.74,565.35 L498.24,565.49 L498.73,565.62 L499.23,565.74 L499.72,565.86 L500.22,565.97 L500.71,566.07 L501.21,566.17 L501.70,566.26 L502.19,566.35 L502.68,566.44 L503.18,566.51 L503.67,566.59 L504.16,566.66 L504.65,566.72 L505.14,566.78 L505.63,566.84 L506.13,566.89 L506.62,566.94 L507.11,566.99 L507.60,567.03 L508.09,567.07 L508.58,567.11 L509.08,567.14 L509.57,567.18 L510.06,567.21 L510.55,567.24 L511.05,567.26 L511.54,567.29 L512.03,567.31 L512.53,567.33 L513.02,567.35 L513.51,567.37 L514.01,567.39 L514.50,567.40 L514.99,567.42 L515.49,567.43 L515.98,567.44 L516.48,567.46 L516.97,567.47 L517.47,567.48 L517.97,567.49 L518.46,567.50 L518.96,567.51 L519.45,567.52 L519.95,567.53 L520.45,567.54 L520.94,567.55 L521.44,567.56 L521.94,567.57 L522.44,567.58 L522.93,567.59 L523.43,567.60 L523.93,567.61 L524.43,567.62 L524.92,567.63 L525.42,567.64 L525.92,567.66 L526.42,567.67 L526.92,567.68 L527.42,567.69 L527.91,567.71 L528.41,567.72 L528.91,567.73 L529.41,567.75 L529.91,567.76 L530.41,567.78 L530.91,567.79 L531.41,567.81 L531.91,567.82 L532.41,567.84 L532.91,567.86 L533.41,567.87 L533.91,567.89 L534.40,567.91 L534.90,567.93 L535.40,567.95 L535.90,567.97 L536.40,567.99 L536.90,568.01 L537.40,568.03 L537.90,568.05 L538.40,568.07 L538.90,568.09 L539.40,568.11 L539.90,568.14 L540.40,568.16 L540.90,568.18 L541.40,568.21 L541.90,568.23 L542.40,568.25 L542.90,568.28 L543.40,568.30 L543.90,568.33 L544.40,568.35 L544.90,568.38 L545.40,568.41 L545.90,568.43 L546.40,568.46 L546.90,568.49 L547.40,568.51 L547.90,568.54 L548.40,568.57 L548.90,568.59 L549.40,568.62 L549.90,568.65 L550.40,568.68 L550.90,568.71 L551.40,568.73 L551.90,568.76 L552.40,568.79 L552.90,568.82 L553.40,568.85 L553.90,568.88 L554.40,568.91 L554.90,568.94 L555.40,568.97 L555.90,568.99 L556.40,569.02 L556.90,569.05 L557.40,569.08 L557.90,569.11 L558.40,569.14 L558.90,569.17 L559.40,569.20 L559.90,569.23 L560.40,569.26 L560.90,569.29 L561.40,569.32 L561.90,569.34 L562.40,569.37 L562.90,569.40 L563.40,569.43 L563.60,569.44" fill="none" stroke="#10a010" stroke-width="1.4" stroke-opacity="1.0" stroke-linejoin="round" />
<path d="M232.37,364.05 L232.87,364.09 L233.37,364.13 L233.87,364.17 L234.37,364.21 L234.87,364.25 L235.37,364.29 L235.87,364.34 L236.37,364.38 L236.87,364.42 L237.37,364.47 L237.87,364.51 L238.37,364.56 L238.87,364.61 L239.37,364.65 L239.87,364.70 L240.37,364.75 L240.87,364.80 L241.37,364.85 L241.87,364.90 L242.37,364.95 L242.87,365.00 L243.37,365.06 L243.86,365.11 L244.36,365.16 L244.86,365.22 L245.37,365.27 L245.87,365.33 L246.37,365.38 L246.87,365.44 L247.37,365.50 L247.87,365.55 L248.37,365.61 L248.87,365.67 L249.37,365.73 L249.87,365.79 L250.37,365.85 L250.87,365.91 L251.37,365.97 L251.87,366.03 L252.37,366.09 L252.87,366.16 L253.37,366.22 L253.87,366.28 L254.37,366.35 L254.87,366.41 L255.37,366.48 L255.87,366.54 L256.37,366.61 L256.87,366.68 L257.37,366.74 L257.87,366.81 L258.37,366.88 L258.87,366.95 L259.37,367.02 L259.87,367.09 L260.37,367.16 L260.87,367.23 L261.38,367.30 L261.88,367.37 L262.38,367.44 L262.88,367.52 L263.38,367.59 L263.88,367.66 L264.38,367.74 L264.88,367.81 L265.38,367.89 L265.88,367.96 L266.38,368.04 L266.88,368.11 L267.38,368.19 L267.88,368.27 L268.38,368.35 L268.89,368.42 L269.39,368.50 L269.89,368.58 L270.39,368.66 L270.89,368.74 L271.39,368.82 L271.89,368.90 L272.39,368.99 L272.89,369.07 L273.39,369.15 L273.89,369.23 L274.39,369.32 L274.90,369.40 L275.40,369.48 L275.90,369.57 L276.40,369.65 L276.90,369.74 L277.40,369.82 L277.90,369.91 L278.40,370.00 L278.90,370.09 L279.40,370.17 L279.90,370.26 L280.41,370.35 L280.91,370.44 L281.41,370.53 L281.91,370.62 L282.41,370.71 L282.91,370.80 L283.41,370.89 L283.91,370.99 L284.41,371.08 L284.91,371.17 L285.42,371.27 L285.92,371.36 L286.42,371.46 L286.92,371.55 L287.42,371.65 L287.92,371.74 L288.42,371.84 L288.92,371.94 L289.42,372.03 L289.93,372.13 L290.43,372.23 L290.93,372.33 L291.43,372.43 L291.93,372.53 L292.43,372.63 L292.93,372.73 L293.43,372.83 L293.93,372.93 L294.44,373.04 L294.94,373.14 L295.44,373.24 L295.94,373.35 L296.44,373.45 L296.94,373.56 L297.44,373.66 L297.94,373.77 L298.44,373.88 L298.95,373.99 L299.45,374.09 L299.95,374.20 L300.45,374.31 L300.95,374.42 L301.45,374.53 L301.95,374.64 L302.45,374.75 L302.95,374.87 L303.46,374.98 L303.96,375.09 L304.46,375.21 L304.96,375.32 L305.46,375.44 L305.96,375.55 L306.46,375.67 L306.96,375.79 L307.46,375.90 L307.96,376.02 L308.47,376.14 L308.97,376.26 L309.47,376.38 L309.97,376.50 L310.47,376.62 L310.97,376.75 L311.47,376.87 L311.97,376.99 L312.47,377.12 L312.97,377.24 L313.48,377.37 L313.98,377.49 L314.48,377.62 L314.98,377.75 L315.48,377.88 L315.98,378.00 L316.48,378.13 L316.98,378.27 L317.48,378.40 L317.98,378.53 L318.48,378.66 L318.98,378.79 L319.49,378.93 L319.99,379.06 L320.49,379.20 L320.99,379.34 L321.49,379.47 L321.99,379.61 L322.49,379.75 L322.99,379.89 L323.49,380.03 L323.99,380.18 L324.49,380.32 L324.99,380.46 L325.49,380.61 L325.99,380.75 L326.49,380.90 L326.99,381.04 L327.49,381.19 L327.99,381.34 L328.50,381.49 L329.00,381.64 L329.50,381.79 L330.00,381.94 L330.50,382.10 L331.00,382.25 L331.50,382.41 L332.00,382.56 L332.50,382.72 L333.00,382.88 L333.50,383.04 L334.00,383.20 L334.50,383.36 L335.00,383.52 L335.50,383.69 L336.00,383.85 L336.50,384.02 L337.00,384.19 L337.50,384.35 L337.99,384.52 L338.49,384.69 L338.99,384.87 L339.49,385.04 L339.99,385.21 L340.49,385.39 L340.99,385.56 L341.49,385.74 L341.99,385.92 L342.49,386.10 L342.99,386.28 L343.49,386.46 L343.99,386.65 L344.49,386.83 L344.98,387.02 L345.48,387.21 L345.98,387.40 L346.48,387.59 L346.98,387.78 L347.48,387.97 L347.98,388.17 L348.47,388.37 L348.97,388.56 L349.47,388.76 L349.97,388.96 L350.47,389.17 L350.96,389.37 L351.46,389.58 L351.96,389.78 L352.46,389.99 L352.95,390.20 L353.45,390.41 L353.95,390.63 L354.45,390.84 L354.94,391.06 L355.44,391.28 L355.94,391.49 L356.43,391.72 L356.93,391.94 L357.43,392.16 L357.92,392.39 L358.42,392.62 L358.92,392.85 L359.41,393.08 L359.91,393.32 L360.41,393.55 L360.90,393.79 L361.40,394.03 L361.89,394.27 L362.39,394.51 L362.89,394.76 L363.38,395.01 L363.88,395.25 L364.37,395.51 L364.87,395.76 L365.36,396.01 L365.86,396.27 L366.35,396.53 L366.85,396.79 L367.34,397.05 L367.84,397.32 L368.33,397.59 L368.83,397.86 L369.32,398.13 L369.82,398.40 L370.31,398.68 L370.80,398.96 L371.30,399.24 L371.79,399.52 L372.29,399.81 L372.78,400.10 L373.27,400.39 L373.77,400.68 L374.26,400.98 L374.75,401.28 L375.25,401.58 L375.74,401.88 L376.23,402.19 L376.73,402.49 L377.22,402.80 L377.71,403.12 L378.21,403.43 L378.70,403.75 L379.19,404.08 L379.69,404.40 L380.18,404.73 L380.67,405.06 L381.16,405.39 L381.66,405.73 L382.15,406.07 L382.64,406.41 L383.13,406.76 L383.63,407.10 L384.12,407.46 L384.61,407.81 L385.10,408.17 L385.60,408.53 L386.09,408.89 L386.58,409.26 L387.07,409.63 L387.57,410.01 L388.06,410.38 L388.55,410.77 L389.04,411.15 L389.54,411.54 L390.03,411.93 L390.52,412.33 L391.01,412.73 L391.51,413.13 L392.00,413.53 L392.49,413.94 L392.98,414.36 L393.48,414.78 L393.97,415.20 L394.46,415.62 L394.96,416.05 L395.45,416.49 L395.94,416.93 L396.44,417.37 L396.93,417.81 L397.43,418.26 L397.92,418.72 L398.41,419.18 L398.91,419.64 L399.40,420.11 L399.90,420.58 L400.39,421.06 L400.89,421.54 L401.39,422.03 L401.88,422.52 L402.38,423.01 L402.88,423.51 L403.37,424.01 L403.87,424.52 L404.37,425.04 L404.87,425.56 L405.37,426.08 L405.86,426.61 L406.36,427.14 L406.86,427.68 L407.36,428.23 L407.87,428.78 L408.37,429.33 L408.87,429.89 L409.37,430.46 L409.88,431.03 L410.38,431.60 L410.88,432.18 L411.39,432.77 L411.90,433.36 L412.40,433.96 L412.91,434.56 L413.42,435.17 L413.93,435.79 L414.44,436.41 L414.95,437.03 L415.46,437.66 L415.97,438.30 L416.49,438.94 L417.00,439.59 L417.52,440.25 L418.03,440.91 L418.55,441.57 L419.07,442.25 L419.59,442.92 L420.11,443.61 L420.63,444.30 L421.15,445.00 L421.68,445.70 L422.20,446.41 L422.73,447.13 L423.25,447.85 L423.78,448.58 L424.30,449.31 L424.83,450.05 L425.36,450.80 L425.89,451.56 L426.42,452.32 L426.95,453.09 L427.48,453.86 L428.01,454.64 L428.54,455.43 L429.08,456.22 L429.61,457.03 L430.14,457.83 L430.67,458.65 L431.21,459.47 L431.74,460.30 L432.27,461.13 L432.80,461.97 L433.34,462.82 L433.87,463.68 L434.40,464.54 L434.93,465.40 L435.46,466.28 L435.99,467.16 L436.52,468.05 L437.05,468.94 L437.58,469.84 L438.10,470.75 L438.63,471.66 L439.15,472.58 L439.67,473.50 L440.20,474.44 L440.72,475.37 L441.23,476.32 L441.75,477.26 L442.27,478.22 L442.78,479.18 L443.29,480.15 L443.80,481.12 L444.30,482.09 L444.81,483.08 L445.31,484.06 L445.81,485.05 L446.30,486.05 L446.79,487.05 L447.28,488.06 L447.77,489.07 L448.25,490.08 L448.73,491.10 L449.21,492.12 L449.68,493.15 L450.15,494.18 L450.62,495.21 L451.09,496.24 L451.55,497.28 L452.01,498.32 L452.47,499.36 L452.93,500.40 L453.38,501.44 L453.84,502.49 L454.29,503.53 L454.75,504.57 L455.20,505.61 L455.65,506.66 L456.10,507.70 L456.55,508.73 L457.00,509.77 L457.46,510.80 L457.91,511.84 L458.36,512.86 L458.82,513.89 L459.27,514.91 L459.73,515.93 L460.19,516.94 L460.65,517.95 L461.11,518.95 L461.58,519.95 L462.05,520.94 L462.52,521.92 L462.99,522.90 L463.46,523.87 L463.94,524.83 L464.42,525.78 L464.90,526.73 L465.39,527.67 L465.88,528.60 L466.37,529.52 L466.86,530.43 L467.36,531.33 L467.86,532.22 L468.36,533.10 L468.86,533.98 L469.36,534.84 L469.87,535.69 L470.38,536.53 L470.88,537.36 L471.39,538.18 L471.90,538.99 L472.42,539.79 L472.93,540.58 L473.44,541.35 L473.96,542.11 L474.47,542.86 L474.99,543.60 L475.51,544.33 L476.02,545.04 L476.54,545.75 L477.06,546.44 L477.58,547.11 L478.10,547.78 L478.61,548.43 L479.13,549.07 L479.65,549.70 L480.17,550.31 L480.69,550.91 L481.21,551.50 L481.73,552.08 L482.24,552.64 L482.76,553.19 L483.28,553.73 L483.80,554.25 L484.31,554.76 L484.83,555.26 L485.34,555.75 L485.86,556.22 L486.37,556.69 L486.89,557.14 L487.40,557.57 L487.91,558.00 L488.43,558.41 L488.94,558.81 L489.45,559.20 L489.96,559.58 L490.47,559.95 L490.98,560.31 L491.49,560.65 L492.00,560.99 L492.50,561.31 L493.01,561.62 L493.52,561.92 L494.02,562.22 L494.53,562.50 L495.03,562.77 L495.53,563.04 L496.04,563.29 L496.54,563.54 L497.04,563.77 L497.54,564.00 L498.04,564.22 L498.55,564.43 L499.05,564.64 L499.55,564.83 L500.05,565.02 L500.54,565.20 L501.04,565.38 L501.54,565.54 L502.04,565.70 L502.54,565.85 L503.04,566.00 L503.53,566.14 L504.03,566.28 L504.53,566.40 L505.03,566.53 L505.52,566.65 L506.02,566.76 L506.52,566.86 L507.01,566.97 L507.51,567.07 L508.01,567.16 L508.51,567.25 L509.00,567.33 L509.50,567.41 L510.00,567.49 L510.49,567.56 L510.99,567.63 L511.49,567.70 L511.98,567.76 L512.48,567.82 L512.98,567.88 L513.47,567.93 L513.97,567.98 L514.47,568.03 L514.97,568.07 L515.46,568.12 L515.96,568.16 L516.46,568.19 L516.95,568.23 L517.45,568.27 L517.95,568.30 L518.45,568.33 L518.95,568.36 L519.44,568.38 L519.94,568.41 L520.44,568.43 L520.94,568.46 L521.44,568.48 L521.93,568.50 L522.43,568.52 L522.93,568.54 L523.43,568.55 L523.93,568.57 L524.43,568.58 L524.92,568.60 L525.42,568.61 L525.92,568.62 L526.42,568.63 L526.92,568.64 L527.42,568.65 L527.92,568.66 L528.42,568.67 L528.92,568.68 L529.41,568.69 L529.91,568.70 L530.41,568.70 L530.91,568.71 L531.41,568.72 L531.91,568.72 L532.41,568.73 L532.91,568.73 L533.41,568.74 L533.91,568.74 L534.41,568.75 L534.91,568.75 L535.41,568.76 L535.91,568.76 L536.41,568.76 L536.91,568.77 L537.41,568.77 L537.90,568.77 L538.40,568.78 L538.90,568.78 L539.40,568.78 L539.90,568.79 L540.40,568.79 L540.90,568.79 L541.40,568.80 L541.90,568.80 L542.40,568.80 L542.90,568.80 L543.40,568.81 L543.90,568.81 L544.40,568.81 L544.90,568.82 L545.40,568.82 L545.90,568.82 L546.40,568.82 L546.90,568.83 L547.40,568.83 L547.90,568.83 L548.40,568.84 L548.90,568.84 L549.40,568.84 L549.90,568.85 L550.40,568.85 L550.90,568.85 L551.40,568.85 L551.90,568.86 L552.40,568.86 L552.90,568.86 L553.40,568.87 L553.90,568.87 L554.40,568.88 L554.90,568.88 L555.40,568.88 L555.90,568.89 L556.40,568.89 L556.90,568.89 L557.40,568.90 L557.90,568.90 L558.40,568.91 L558.90,568.91 L559.40,568.91 L559.90,568.92 L560.40,568.92 L560.90,568.93 L561.40,568.93 L561.90,568.94 L562.40,568.94 L562.90,568.95 L563.40,568.95 L563.60,568.95" fill="none" stroke="#10a010" stroke-width="1.4" stroke-opacity="1.0" stroke-linejoin="round" />
<path d="M232.41,364.98 L232.91,364.97 L233.40,364.96 L233.90,364.96 L234.40,364.95 L234.90,364.95 L235.40,364.95 L235.90,364.95 L236.40,364.96 L236.89,364.96 L237.39,364.97 L237.89,364.98 L238.39,365.00 L238.89,365.01 L239.39,365.03 L239.89,365.05 L240.39,365.07 L240.89,365.09 L241.39,365.12 L241.88,365.15 L242.38,365.18 L242.88,365.21 L243.38,365.24 L243.88,365.28 L244.38,365.31 L244.88,365.35 L245.38,365.39 L245.88,365.43 L246.38,365.47 L246.88,365.52 L247.38,365.56 L247.88,365.61 L248.38,365.66 L248.88,365.71 L249.38,365.76 L249.87,365.82 L250.37,365.87 L250.87,365.93 L251.37,365.99 L251.87,366.04 L252.37,366.10 L252.87,366.17 L253.37,366.23 L253.87,366.29 L254.37,366.36 L254.87,366.43 L255.37,366.49 L255.87,366.56 L256.37,366.63 L256.87,366.70 L257.37,366.78 L257.87,366.85 L258.37,366.92 L258.87,367.00 L259.37,367.08 L259.87,367.16 L260.37,367.23 L260.87,367.31 L261.37,367.39 L261.87,367.48 L262.38,367.56 L262.88,367.64 L263.38,367.73 L263.88,367.81 L264.38,367.90 L264.88,367.99 L265.38,368.08 L265.88,368.17 L266.38,368.26 L266.88,368.35 L267.38,368.44 L267.88,368.53 L268.38,368.62 L268.88,368.72 L269.38,368.81 L269.88,368.91 L270.38,369.01 L270.88,369.10 L271.38,369.20 L271.88,369.30 L272.39,369.40 L272.89,369.50 L273.39,369.60 L273.89,369.70 L274.39,369.81 L274.89,369.91 L275.39,370.01 L275.89,370.12 L276.39,370.22 L276.89,370.33 L277.39,370.44 L277.89,370.54 L278.39,370.65 L278.89,370.76 L279.40,370.87 L279.90,370.98 L280.40,371.09 L280.90,371.20 L281.40,371.31 L281.90,371.42 L282.40,371.54 L282.90,371.65 L283.40,371.76 L283.90,371.88 L284.40,371.99 L284.91,372.11 L285.41,372.22 L285.91,372.34 L286.41,372.46 L286.91,372.57 L287.41,372.69 L287.91,372.81 L288.41,372.93 L288.91,373.05 L289.41,373.17 L289.91,373.29 L290.42,373.41 L290.92,373.53 L291.42,373.66 L291.92,373.78 L292.42,373.90 L292.92,374.03 L293.42,374.15 L293.92,374.27 L294.42,374.40 L294.92,374.52 L295.42,374.65 L295.93,374.78 L296.43,374.90 L296.93,375.03 L297.43,375.16 L297.93,375.29 L298.43,375.42 L298.93,375.55 L299.43,375.68 L299.93,375.81 L300.43,375.94 L300.94,376.07 L301.44,376.20 L301.94,376.33 L302.44,376.46 L302.94,376.60 L303.44,376.73 L303.94,376.86 L304.44,377.00 L304.94,377.13 L305.44,377.27 L305.94,377.40 L306.45,377.54 L306.95,377.68 L307.45,377.81 L307.95,377.95 L308.45,378.09 L308.95,378.23 L309.45,378.36 L309.95,378.50 L310.45,378.64 L310.95,378.78 L311.45,378.92 L311.96,379.06 L312.46,379.20 L312.96,379.35 L313.46,379.49 L313.96,379.63 L314.46,379.77 L314.96,379.92 L315.46,380.06 L315.96,380.20 L316.46,380.35 L316.96,380.49 L317.46,380.64 L317.96,380.79 L318.47,380.93 L318.97,381.08 L319.47,381.23 L319.97,381.37 L320.47,381.52 L320.97,381.67 L321.47,381.82 L321.97,381.97 L322.47,382.12 L322.97,382.27 L323.47,382.42 L323.97,382.57 L324.47,382.72 L324.97,382.88 L325.47,383.03 L325.97,383.18 L326.47,383.34 L326.97,383.49 L327.48,383.64 L327.98,383.80 L328.48,383.96 L328.98,384.11 L329.48,384.27 L329.98,384.43 L330.48,384.58 L330.98,384.74 L331.48,384.90 L331.98,385.06 L332.48,385.22 L332.98,385.38 L333.48,385.54 L333.98,385.70 L334.48,385.86 L334.98,386.02 L335.48,386.19 L335.98,386.35 L336.48,386.51 L336.98,386.68 L337.48,386.84 L337.98,387.01 L338.48,387.18 L338.98,387.34 L339.48,387.51 L339.98,387.68 L340.48,387.85 L340.98,388.01 L341.48,388.18 L341.98,388.35 L342.48,388.53 L342.98,388.70 L343.48,388.87 L343.98,389.04 L344.48,389.21 L344.98,389.39 L345.48,389.56 L345.98,389.74 L346.48,389.91 L346.97,390.09 L347.47,390.27 L347.97,390.45 L348.47,390.63 L348.97,390.80 L349.47,390.98 L349.97,391.17 L350.47,391.35 L350.97,391.53 L351.47,391.71 L351.97,391.90 L352.47,392.08 L352.97,392.27 L353.46,392.45 L353.96,392.64 L354.46,392.83 L354.96,393.01 L355.46,393.20 L355.96,393.39 L356.46,393.58 L356.96,393.78 L357.46,393.97 L357.95,394.16 L358.45,394.35 L358.95,394.55 L359.45,394.75 L359.95,394.94 L360.45,395.14 L360.95,395.34 L361.44,395.54 L361.94,395.74 L362.44,395.94 L362.94,396.14 L363.44,396.34 L363.94,396.55 L364.43,396.75 L364.93,396.96 L365.43,397.16 L365.93,397.37 L366.43,397.58 L366.92,397.79 L367.42,398.00 L367.92,398.21 L368.42,398.43 L368.92,398.64 L369.41,398.85 L369.91,399.07 L370.41,399.29 L370.91,399.51 L371.41,399.73 L371.90,399.95 L372.40,400.17 L372.90,400.39 L373.40,400.62 L373.89,400.84 L374.39,401.07 L374.89,401.30 L375.39,401.52 L375.88,401.76 L376.38,401.99 L376.88,402.22 L377.38,402.45 L377.87,402.69 L378.37,402.93 L378.87,403.17 L379.37,403.41 L379.86,403.65 L380.36,403.89 L380.86,404.14 L381.36,404.38 L381.85,404.63 L382.35,404.88 L382.85,405.13 L383.35,405.38 L383.84,405.63 L384.34,405.89 L384.84,406.15 L385.33,406.41 L385.83,406.67 L386.33,406.93 L386.83,407.19 L387.32,407.46 L387.82,407.73 L388.32,408.00 L388.81,408.27 L389.31,408.54 L389.81,408.82 L390.31,409.09 L390.80,409.37 L391.30,409.65 L391.80,409.94 L392.29,410.22 L392.79,410.51 L393.29,410.80 L393.79,411.09 L394.28,411.39 L394.78,411.68 L395.28,411.98 L395.77,412.28 L396.27,412.59 L396.77,412.89 L397.27,413.20 L397.76,413.51 L398.26,413.83 L398.76,414.14 L399.26,414.46 L399.75,414.78 L400.25,415.11 L400.75,415.43 L401.25,415.76 L401.74,416.10 L402.24,416.43 L402.74,416.77 L403.24,417.11 L403.73,417.46 L404.23,417.80 L404.73,418.15 L405.23,418.51 L405.73,418.87 L406.22,419.23 L406.72,419.59 L407.22,419.96 L407.72,420.33 L408.22,420.70 L408.72,421.08 L409.21,421.46 L409.71,421.84 L410.21,422.23 L410.71,422.62 L411.21,423.02 L411.71,423.42 L412.21,423.82 L412.71,424.23 L413.21,424.64 L413.71,425.05 L414.21,425.47 L414.71,425.90 L415.21,426.33 L415.71,426.76 L416.21,427.19 L416.71,427.64 L417.21,428.08 L417.72,428.53 L418.22,428.99 L418.72,429.44 L419.22,429.91 L419.73,430.38 L420.23,430.85 L420.73,431.33 L421.24,431.81 L421.74,432.30 L422.24,432.79 L422.75,433.29 L423.25,433.80 L423.76,434.31 L424.27,434.82 L424.77,435.34 L425.28,435.87 L425.78,436.40 L426.29,436.93 L426.80,437.48 L427.31,438.03 L427.81,438.58 L428.32,439.14 L428.83,439.71 L429.34,440.28 L429.85,440.86 L430.36,441.44 L430.87,442.03 L431.38,442.63 L431.89,443.23 L432.40,443.84 L432.91,444.46 L433.42,445.08 L433.93,445.71 L434.44,446.35 L434.95,446.99 L435.46,447.64 L435.97,448.29 L436.48,448.96 L437.00,449.62 L437.51,450.30 L438.02,450.98 L438.53,451.67 L439.05,452.37 L439.56,453.07 L440.07,453.78 L440.58,454.50 L441.10,455.23 L441.61,455.96 L442.12,456.70 L442.63,457.44 L443.15,458.19 L443.66,458.95 L444.17,459.72 L444.68,460.49 L445.19,461.27 L445.70,462.06 L446.22,462.85 L446.73,463.65 L447.24,464.46 L447.75,465.27 L448.26,466.09 L448.77,466.92 L449.27,467.75 L449.78,468.59 L450.29,469.43 L450.80,470.28 L451.30,471.14 L451.81,472.01 L452.31,472.88 L452.82,473.75 L453.32,474.63 L453.82,475.52 L454.33,476.41 L454.83,477.31 L455.33,478.21 L455.83,479.12 L456.32,480.03 L456.82,480.95 L457.32,481.87 L457.81,482.80 L458.31,483.73 L458.80,484.67 L459.29,485.60 L459.78,486.54 L460.28,487.49 L460.77,488.44 L461.25,489.39 L461.74,490.34 L462.23,491.30 L462.72,492.25 L463.21,493.21 L463.69,494.17 L464.18,495.14 L464.66,496.10 L465.15,497.06 L465.63,498.03 L466.12,498.99 L466.60,499.96 L467.09,500.92 L467.57,501.88 L468.05,502.85 L468.54,503.81 L469.02,504.77 L469.50,505.72 L469.99,506.68 L470.47,507.63 L470.95,508.58 L471.44,509.53 L471.92,510.48 L472.40,511.42 L472.89,512.35 L473.37,513.29 L473.86,514.22 L474.34,515.14 L474.83,516.06 L475.31,516.98 L475.80,517.88 L476.29,518.79 L476.78,519.69 L477.26,520.58 L477.75,521.46 L478.24,522.34 L478.73,523.21 L479.22,524.08 L479.71,524.93 L480.20,525.78 L480.69,526.63 L481.19,527.46 L481.68,528.29 L482.17,529.11 L482.67,529.92 L483.16,530.72 L483.66,531.51 L484.15,532.29 L484.65,533.07 L485.14,533.83 L485.64,534.59 L486.14,535.34 L486.63,536.08 L487.13,536.80 L487.63,537.52 L488.13,538.23 L488.63,538.93 L489.13,539.62 L489.63,540.30 L490.13,540.97 L490.63,541.63 L491.13,542.27 L491.64,542.91 L492.14,543.54 L492.64,544.16 L493.15,544.77 L493.65,545.36 L494.15,545.95 L494.66,546.53 L495.16,547.09 L495.67,547.65 L496.17,548.19 L496.68,548.73 L497.18,549.26 L497.69,549.77 L498.20,550.28 L498.70,550.77 L499.21,551.26 L499.71,551.74 L500.22,552.20 L500.73,552.66 L501.23,553.10 L501.74,553.54 L502.25,553.97 L502.75,554.39 L503.26,554.80 L503.77,555.20 L504.27,555.59 L504.78,555.97 L505.29,556.35 L505.79,556.71 L506.30,557.07 L506.81,557.42 L507.31,557.76 L507.82,558.09 L508.32,558.41 L508.83,558.73 L509.34,559.03 L509.84,559.33 L510.35,559.63 L510.85,559.91 L511.36,560.19 L511.86,560.46 L512.37,560.72 L512.87,560.98 L513.38,561.23 L513.88,561.47 L514.39,561.71 L514.89,561.94 L515.39,562.16 L515.90,562.38 L516.40,562.59 L516.90,562.79 L517.41,562.99 L517.91,563.19 L518.41,563.38 L518.92,563.56 L519.42,563.74 L519.92,563.91 L520.42,564.08 L520.93,564.24 L521.43,564.40 L521.93,564.55 L522.43,564.70 L522.93,564.84 L523.44,564.98 L523.94,565.12 L524.44,565.25 L524.94,565.38 L525.44,565.50 L525.94,565.62 L526.44,565.73 L526.94,565.84 L527.45,565.95 L527.95,566.06 L528.45,566.16 L528.95,566.26 L529.45,566.35 L529.95,566.44 L530.45,566.53 L530.95,566.62 L531.45,566.70 L531.95,566.78 L532.45,566.85 L532.95,566.93 L533.45,567.00 L533.95,567.07 L534.45,567.14 L534.95,567.20 L535.45,567.26 L535.95,567.32 L536.45,567.38 L536.95,567.44 L537.45,567.49 L537.95,567.54 L538.44,567.59 L538.94,567.64 L539.44,567.69 L539.94,567.73 L540.44,567.78 L540.94,567.82 L541.44,567.86 L541.94,567.90 L542.44,567.93 L542.94,567.97 L543.44,568.00 L543.94,568.03 L544.44,568.07 L544.94,568.10 L545.44,568.12 L545.93,568.15 L546.43,568.18 L546.93,568.20 L547.43,568.23 L547.93,568.25 L548.43,568.28 L548.93,568.30 L549.43,568.32 L549.93,568.34 L550.43,568.36 L550.93,568.38 L551.43,568.39 L551.93,568.41 L552.43,568.43 L552.93,568.44 L553.42,568.46 L553.92,568.47 L554.42,568.48 L554.92,568.50 L555.42,568.51 L555.92,568.52 L556.42,568.53 L556.92,568.54 L557.42,568.55 L557.92,568.56 L558.42,568.57 L558.92,568.58 L559.42,568.59 L559.92,568.60 L560.42,568.61 L560.92,568.62 L561.42,568.62 L561.92,568.63 L562.41,568.64 L562.91,568.64 L563.41,568.65 L563.61,568.65" fill="none" stroke="#ff00ff" stroke-width="2.4" stroke-opacity="1.0" stroke-linejoin="round" />
</g>

</svg>
</body></html>
